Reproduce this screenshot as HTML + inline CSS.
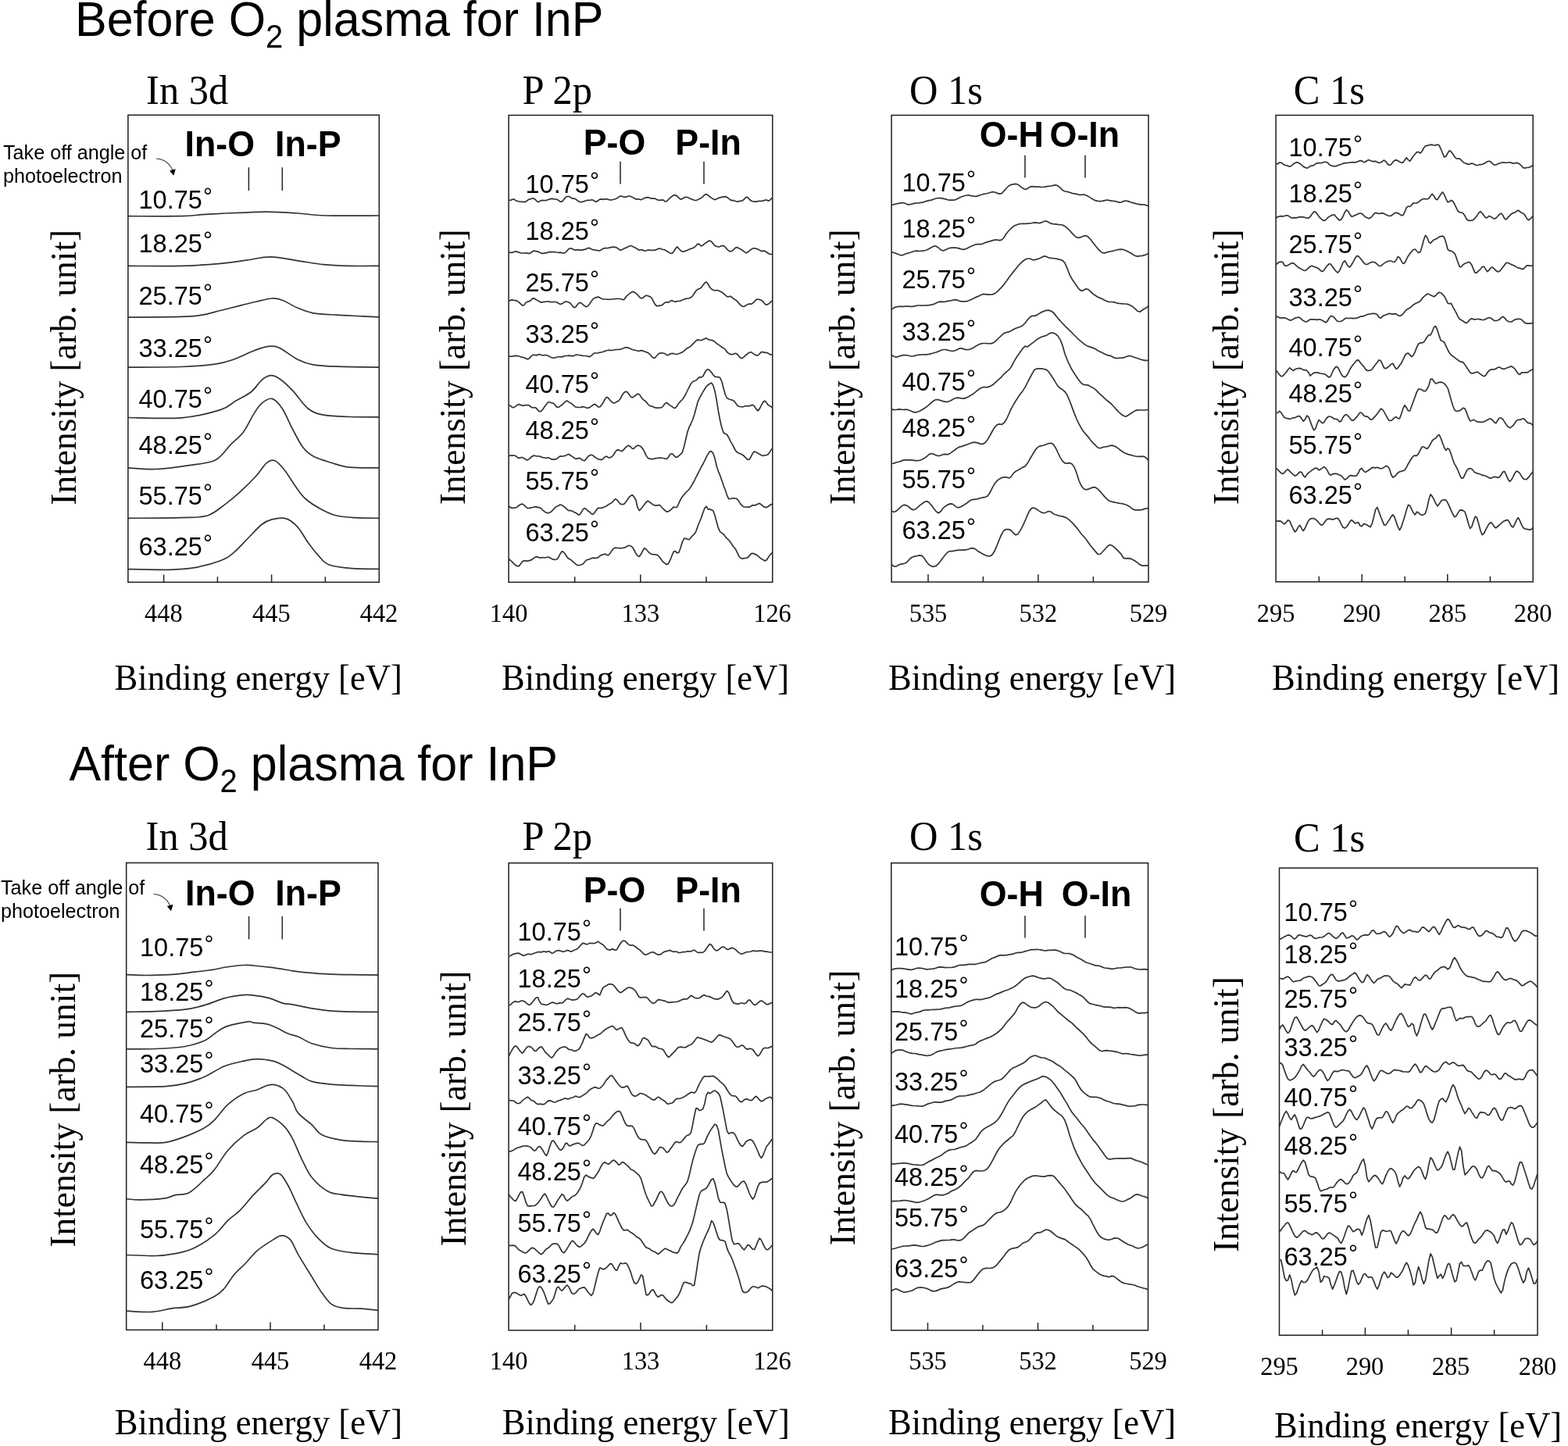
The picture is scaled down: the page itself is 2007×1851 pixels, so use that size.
<!DOCTYPE html>
<html><head><meta charset="utf-8"><title>XPS spectra before and after O2 plasma for InP</title>
<style>html,body{margin:0;padding:0;background:#fff;}svg{display:block;}.sans{font-family:"Liberation Sans", Arial, sans-serif;}.serif{font-family:"Liberation Serif", "Times New Roman", serif;}</style></head><body>
<svg width="2007" height="1851" viewBox="0 0 2007 1851">
<rect x="0" y="0" width="2007" height="1851" fill="#fff"/>
<text class="sans" transform="translate(96.0,46.3) scale(1,1.04)" x="0" y="0" font-size="61" fill="#000">Before O<tspan font-size="40" dy="13.8">2</tspan><tspan dy="-13.8"> plasma for InP</tspan></text>
<text class="sans" transform="translate(88.4,999.4) scale(1,1.04)" x="0" y="0" font-size="61" fill="#000">After O<tspan font-size="40" dy="13.8">2</tspan><tspan dy="-13.8"> plasma for InP</tspan></text>
<text class="serif" transform="translate(187.1,133.0) scale(1,1.050)" x="0" y="0" font-size="50.5" fill="#000">In 3d</text>
<text class="serif" transform="translate(668.6,133.0) scale(1,1.050)" x="0" y="0" font-size="50.5" fill="#000">P 2p</text>
<text class="serif" transform="translate(1164.0,133.0) scale(1,1.050)" x="0" y="0" font-size="50.5" fill="#000">O 1s</text>
<text class="serif" transform="translate(1655.8,133.0) scale(1,1.050)" x="0" y="0" font-size="50.5" fill="#000">C 1s</text>
<text class="serif" transform="translate(186.6,1088.4) scale(1,1.050)" x="0" y="0" font-size="50.5" fill="#000">In 3d</text>
<text class="serif" transform="translate(668.6,1088.4) scale(1,1.050)" x="0" y="0" font-size="50.5" fill="#000">P 2p</text>
<text class="serif" transform="translate(1164.0,1088.4) scale(1,1.050)" x="0" y="0" font-size="50.5" fill="#000">O 1s</text>
<text class="serif" transform="translate(1655.9,1089.6) scale(1,1.050)" x="0" y="0" font-size="50.5" fill="#000">C 1s</text>
<rect x="163.9" y="147.3" width="321.4" height="598.0" fill="none" stroke="#1e1e1e" stroke-width="1.5"/>
<line x1="209.6" y1="745.3" x2="209.6" y2="735.5" stroke="#222" stroke-width="1.5"/>
<line x1="278.4" y1="745.3" x2="278.4" y2="738.3" stroke="#222" stroke-width="1.5"/>
<line x1="347.6" y1="745.3" x2="347.6" y2="735.5" stroke="#222" stroke-width="1.5"/>
<line x1="416.4" y1="745.3" x2="416.4" y2="738.3" stroke="#222" stroke-width="1.5"/>
<path d="M163.9,276.7 C175.3,276.7 216.7,277.0 232.5,276.7 C248.4,276.3 249.6,275.3 258.9,274.7 C268.3,274.1 279.3,273.5 288.7,273.0 C298.0,272.6 306.3,272.4 315.1,272.1 C323.9,271.7 330.5,270.9 341.5,271.1 C352.5,271.2 368.4,272.2 381.1,273.0 C393.8,273.9 400.0,275.5 417.4,276.0 C434.8,276.5 474.0,276.0 485.3,276.0" fill="none" stroke="#333" stroke-width="1.7" stroke-linejoin="round"/>
<path d="M163.9,340.4 C175.3,340.4 212.8,340.9 232.5,340.4 C252.2,339.9 268.3,338.6 282.1,337.4 C295.8,336.2 304.3,334.6 315.1,333.1 C325.8,331.7 335.4,328.7 346.4,328.8 C357.4,329.0 369.8,332.1 381.1,333.8 C392.4,335.4 403.1,337.6 414.1,338.7 C425.1,339.8 435.3,340.1 447.1,340.4 C459.0,340.7 478.9,340.4 485.3,340.4" fill="none" stroke="#333" stroke-width="1.7" stroke-linejoin="round"/>
<path d="M163.9,406.1 C175.3,406.0 216.7,405.9 232.5,405.4 C248.4,404.9 250.7,404.4 258.9,403.1 C267.2,401.8 273.8,399.5 282.1,397.5 C290.3,395.5 300.8,392.8 308.5,390.9 C316.2,389.0 321.7,387.4 328.3,386.0 C334.9,384.5 342.6,382.3 348.1,382.0 C353.6,381.7 355.8,382.3 361.3,384.3 C366.8,386.3 374.5,391.5 381.1,394.2 C387.7,397.0 392.7,399.3 400.9,400.8 C409.2,402.3 420.2,402.5 430.6,403.1 C441.1,403.8 454.5,404.3 463.6,404.8 C472.7,405.2 481.7,405.6 485.3,405.8" fill="none" stroke="#333" stroke-width="1.7" stroke-linejoin="round"/>
<path d="M163.9,470.1 C175.3,470.0 213.9,470.1 232.5,469.5 C251.1,468.8 264.4,467.7 275.5,466.2 C286.5,464.6 290.9,462.9 298.6,460.2 C306.3,457.6 315.6,452.8 321.7,450.3 C327.7,447.9 330.8,446.6 334.9,445.4 C339.0,444.2 342.6,443.1 346.4,443.1 C350.3,443.1 352.2,442.5 358.0,445.4 C363.8,448.2 373.9,456.7 381.1,460.2 C388.3,463.8 392.7,465.4 400.9,466.8 C409.2,468.3 416.6,468.6 430.6,469.2 C444.7,469.7 476.2,470.0 485.3,470.1" fill="none" stroke="#333" stroke-width="1.7" stroke-linejoin="round"/>
<path d="M163.9,534.5 C175.3,534.6 212.8,536.5 232.5,534.8 C252.2,533.2 270.5,528.2 282.1,524.6 C293.6,521.0 295.3,516.9 301.9,513.1 C308.5,509.2 316.2,505.9 321.7,501.5 C327.2,497.1 330.8,490.1 334.9,486.6 C339.0,483.2 342.6,481.0 346.4,480.7 C350.3,480.4 353.3,481.8 358.0,485.0 C362.7,488.2 368.4,493.5 374.5,499.9 C380.5,506.2 387.7,517.7 394.3,523.0 C400.9,528.2 405.3,529.5 414.1,531.2 C422.9,533.0 435.3,533.1 447.1,533.5 C459.0,534.0 478.9,533.8 485.3,533.9" fill="none" stroke="#333" stroke-width="1.7" stroke-linejoin="round"/>
<path d="M163.9,598.9 C169.8,599.2 186.4,601.1 199.5,600.5 C212.6,600.0 229.8,597.5 242.4,595.6 C255.1,593.7 266.7,593.4 275.5,589.0 C284.3,584.6 289.2,575.2 295.3,569.2 C301.3,563.1 306.8,559.3 311.8,552.7 C316.7,546.1 321.1,535.6 325.0,529.6 C328.8,523.5 331.0,519.6 334.9,516.4 C338.7,513.2 343.7,509.3 348.1,510.4 C352.5,511.5 356.9,516.5 361.3,523.0 C365.7,529.5 370.1,541.1 374.5,549.4 C378.9,557.6 383.3,566.7 387.7,572.5 C392.1,578.3 394.9,580.7 400.9,584.0 C407.0,587.3 416.3,589.9 424.0,592.3 C431.7,594.7 436.9,597.1 447.1,598.2 C457.3,599.3 478.9,598.8 485.3,598.9" fill="none" stroke="#333" stroke-width="1.7" stroke-linejoin="round"/>
<path d="M163.9,663.3 C175.3,663.2 215.6,663.2 232.5,662.6 C249.5,662.1 256.2,662.9 265.5,660.0 C274.9,657.1 281.5,650.3 288.7,645.1 C295.8,639.9 301.9,634.7 308.5,628.6 C315.1,622.6 322.8,614.9 328.3,608.8 C333.8,602.7 337.5,595.5 341.5,592.3 C345.4,589.1 348.2,588.0 352.0,589.7 C355.9,591.3 360.3,596.8 364.6,602.2 C368.9,607.6 373.4,616.0 377.8,622.0 C382.2,628.1 385.5,633.6 391.0,638.5 C396.5,643.5 404.2,648.1 410.8,651.7 C417.4,655.3 423.5,658.2 430.6,660.0 C437.8,661.8 444.6,662.1 453.7,662.6 C462.8,663.2 480.0,663.2 485.3,663.3" fill="none" stroke="#333" stroke-width="1.7" stroke-linejoin="round"/>
<path d="M163.9,728.6 C172.6,728.8 201.8,729.6 216.0,729.3 C230.2,729.0 238.0,728.6 249.0,726.7 C260.0,724.7 273.8,720.9 282.1,717.7 C290.3,714.6 292.5,712.8 298.6,707.8 C304.6,702.9 312.3,694.1 318.4,688.0 C324.4,682.0 329.9,675.4 334.9,671.5 C339.8,667.7 342.9,666.2 348.1,664.9 C353.3,663.7 360.7,662.3 366.2,663.9 C371.7,665.6 376.4,669.7 381.1,674.8 C385.8,679.9 389.9,688.6 394.3,694.6 C398.7,700.7 403.1,706.5 407.5,711.1 C411.9,715.8 413.6,719.9 420.7,722.7 C427.9,725.5 439.7,726.7 450.4,727.7 C461.2,728.6 479.5,728.2 485.3,728.3" fill="none" stroke="#333" stroke-width="1.7" stroke-linejoin="round"/>
<text class="serif" transform="translate(209.3,795.8) scale(1,1.020)" x="0" y="0" font-size="32.5" fill="#000" text-anchor="middle">448</text>
<text class="serif" transform="translate(347.3,795.8) scale(1,1.020)" x="0" y="0" font-size="32.5" fill="#000" text-anchor="middle">445</text>
<text class="serif" transform="translate(485.0,795.8) scale(1,1.020)" x="0" y="0" font-size="32.5" fill="#000" text-anchor="middle">442</text>
<text class="sans" transform="translate(177.5,266.8) scale(1,1.04)" x="0" y="0" font-size="32.5" fill="#000">10.75<tspan font-size="30" dx="1.2" dy="-4.8">°</tspan></text>
<text class="sans" transform="translate(177.5,323.2) scale(1,1.04)" x="0" y="0" font-size="32.5" fill="#000">18.25<tspan font-size="30" dx="1.2" dy="-4.8">°</tspan></text>
<text class="sans" transform="translate(177.5,390.2) scale(1,1.04)" x="0" y="0" font-size="32.5" fill="#000">25.75<tspan font-size="30" dx="1.2" dy="-4.8">°</tspan></text>
<text class="sans" transform="translate(177.5,456.9) scale(1,1.04)" x="0" y="0" font-size="32.5" fill="#000">33.25<tspan font-size="30" dx="1.2" dy="-4.8">°</tspan></text>
<text class="sans" transform="translate(177.5,522.3) scale(1,1.04)" x="0" y="0" font-size="32.5" fill="#000">40.75<tspan font-size="30" dx="1.2" dy="-4.8">°</tspan></text>
<text class="sans" transform="translate(177.5,580.7) scale(1,1.04)" x="0" y="0" font-size="32.5" fill="#000">48.25<tspan font-size="30" dx="1.2" dy="-4.8">°</tspan></text>
<text class="sans" transform="translate(177.5,645.8) scale(1,1.04)" x="0" y="0" font-size="32.5" fill="#000">55.75<tspan font-size="30" dx="1.2" dy="-4.8">°</tspan></text>
<text class="sans" transform="translate(177.5,711.1) scale(1,1.04)" x="0" y="0" font-size="32.5" fill="#000">63.25<tspan font-size="30" dx="1.2" dy="-4.8">°</tspan></text>
<rect x="651.1" y="147.5" width="337.7" height="597.8" fill="none" stroke="#1e1e1e" stroke-width="1.5"/>
<line x1="735.7" y1="745.3" x2="735.7" y2="738.3" stroke="#222" stroke-width="1.5"/>
<line x1="819.8" y1="745.3" x2="819.8" y2="735.5" stroke="#222" stroke-width="1.5"/>
<line x1="904.0" y1="745.3" x2="904.0" y2="738.3" stroke="#222" stroke-width="1.5"/>
<path d="M651.1,256.2 L653.3,256.4 L655.5,255.4 L657.7,255.0 L659.9,256.4 L662.1,257.4 L664.3,258.0 L666.5,258.2 L668.7,258.3 L670.9,258.6 L673.1,258.2 L675.3,256.3 L677.5,255.1 L679.7,254.5 L681.9,253.8 L684.1,254.6 L686.3,256.7 L688.5,258.6 L690.7,257.7 L692.9,256.4 L695.1,256.6 L697.3,256.6 L699.5,256.3 L701.7,255.6 L703.9,254.7 L706.1,254.3 L708.3,254.7 L710.5,255.0 L712.7,255.1 L714.9,256.5 L717.1,258.1 L719.3,258.1 L721.5,255.7 L723.7,252.9 L725.9,251.5 L728.1,251.4 L730.3,252.8 L732.5,254.1 L734.7,254.2 L736.9,254.9 L739.1,256.7 L741.3,258.1 L743.5,258.6 L745.7,258.3 L747.9,257.6 L750.1,256.7 L752.3,256.3 L754.5,256.5 L756.7,255.9 L758.9,256.0 L761.1,257.6 L763.3,258.3 L765.5,256.8 L767.7,255.1 L769.9,254.9 L772.1,255.3 L774.3,254.9 L776.5,254.7 L778.7,255.4 L780.9,255.9 L783.1,256.0 L785.3,255.3 L787.5,254.7 L789.7,253.8 L791.9,252.1 L794.1,251.1 L796.3,251.3 L798.5,252.2 L800.7,252.4 L802.9,251.5 L805.1,251.0 L807.3,251.4 L809.5,252.4 L811.7,253.8 L813.9,254.9 L816.1,254.9 L818.3,255.1 L820.5,255.7 L822.7,254.8 L824.9,253.5 L827.1,252.9 L829.3,252.6 L831.5,253.2 L833.7,254.2 L835.9,254.1 L838.1,254.0 L840.3,255.3 L842.5,256.2 L844.7,256.4 L846.9,255.9 L849.1,256.1 L851.3,257.8 L853.5,257.6 L855.7,255.2 L857.9,253.2 L860.1,251.4 L862.3,249.8 L864.5,249.6 L866.7,251.2 L868.9,253.3 L871.1,255.1 L873.3,254.5 L875.5,253.0 L877.7,252.4 L879.9,252.5 L882.1,253.5 L884.3,254.7 L886.5,255.4 L888.7,256.3 L890.9,256.5 L893.1,255.7 L895.3,254.6 L897.5,253.6 L899.7,251.6 L901.9,249.4 L904.1,248.6 L906.3,249.9 L908.5,251.8 L910.7,253.4 L912.9,254.8 L915.1,255.6 L917.3,254.8 L919.5,253.6 L921.7,252.8 L923.9,252.3 L926.1,251.8 L928.3,251.6 L930.5,252.5 L932.7,254.2 L934.9,255.9 L937.1,256.6 L939.3,256.7 L941.5,257.5 L943.7,258.2 L945.9,257.7 L948.1,257.3 L950.3,256.9 L952.5,255.0 L954.7,252.7 L956.9,252.4 L959.1,255.0 L961.3,257.0 L963.5,257.8 L965.7,258.2 L967.9,258.1 L970.1,257.6 L972.3,257.4 L974.5,257.3 L976.7,257.1 L978.9,256.2 L981.1,256.1 L983.3,257.1 L985.5,256.3 L987.7,253.7 L988.8,254.4" fill="none" stroke="#333" stroke-width="1.7" stroke-linejoin="round"/>
<path d="M651.1,322.6 L653.3,323.4 L655.5,323.4 L657.7,322.5 L659.9,321.8 L662.1,322.3 L664.3,323.1 L666.5,323.8 L668.7,324.0 L670.9,324.0 L673.1,323.8 L675.3,324.1 L677.5,324.6 L679.7,323.5 L681.9,321.6 L684.1,321.1 L686.3,321.6 L688.5,322.1 L690.7,323.1 L692.9,324.3 L695.1,324.4 L697.3,323.9 L699.5,323.8 L701.7,322.9 L703.9,322.4 L706.1,322.7 L708.3,322.7 L710.5,322.5 L712.7,323.0 L714.9,323.4 L717.1,323.2 L719.3,323.6 L721.5,324.2 L723.7,323.3 L725.9,320.9 L728.1,318.5 L730.3,317.8 L732.5,318.6 L734.7,319.7 L736.9,320.2 L739.1,319.7 L741.3,319.9 L743.5,320.3 L745.7,319.8 L747.9,319.3 L750.1,318.8 L752.3,317.7 L754.5,317.4 L756.7,318.7 L758.9,319.7 L761.1,320.0 L763.3,320.3 L765.5,320.6 L767.7,320.8 L769.9,319.7 L772.1,318.1 L774.3,317.7 L776.5,317.7 L778.7,317.4 L780.9,316.9 L783.1,316.4 L785.3,316.1 L787.5,316.4 L789.7,317.2 L791.9,319.0 L794.1,320.3 L796.3,319.6 L798.5,318.2 L800.7,317.4 L802.9,316.5 L805.1,315.3 L807.3,314.5 L809.5,315.2 L811.7,316.5 L813.9,317.6 L816.1,318.9 L818.3,320.2 L820.5,319.6 L822.7,319.9 L824.9,321.2 L827.1,320.8 L829.3,320.1 L831.5,320.0 L833.7,320.3 L835.9,320.3 L838.1,320.1 L840.3,319.6 L842.5,318.4 L844.7,318.1 L846.9,319.1 L849.1,319.5 L851.3,319.9 L853.5,321.5 L855.7,322.7 L857.9,324.1 L860.1,324.3 L862.3,322.1 L864.5,318.5 L866.7,315.9 L868.9,318.3 L871.1,320.7 L873.3,321.9 L875.5,322.1 L877.7,321.1 L879.9,320.2 L882.1,319.2 L884.3,318.4 L886.5,317.8 L888.7,316.6 L890.9,314.5 L893.1,312.1 L895.3,312.9 L897.5,315.0 L899.7,313.9 L901.9,311.9 L904.1,310.5 L906.3,308.9 L908.5,308.0 L910.7,309.4 L912.9,312.1 L915.1,314.5 L917.3,315.4 L919.5,316.0 L921.7,315.6 L923.9,314.6 L926.1,314.5 L928.3,316.3 L930.5,318.9 L932.7,321.0 L934.9,321.9 L937.1,321.2 L939.3,319.3 L941.5,317.0 L943.7,316.7 L945.9,317.9 L948.1,319.0 L950.3,320.5 L952.5,322.2 L954.7,323.6 L956.9,323.0 L959.1,321.2 L961.3,319.4 L963.5,318.0 L965.7,317.8 L967.9,318.4 L970.1,318.9 L972.3,320.3 L974.5,321.5 L976.7,321.2 L978.9,321.3 L981.1,322.7 L983.3,324.2 L985.5,325.4 L987.7,325.5 L988.8,324.4" fill="none" stroke="#333" stroke-width="1.7" stroke-linejoin="round"/>
<path d="M651.1,385.5 L653.3,384.4 L655.5,383.9 L657.7,384.3 L659.9,384.6 L662.1,385.4 L664.3,386.9 L666.5,389.2 L668.7,391.2 L670.9,390.2 L673.1,387.5 L675.3,386.1 L677.5,385.7 L679.7,384.2 L681.9,381.9 L684.1,382.2 L686.3,383.8 L688.5,384.8 L690.7,386.3 L692.9,387.1 L695.1,386.6 L697.3,386.3 L699.5,386.0 L701.7,385.9 L703.9,386.4 L706.1,386.6 L708.3,386.5 L710.5,386.5 L712.7,386.9 L714.9,388.2 L717.1,389.4 L719.3,388.9 L721.5,387.3 L723.7,386.2 L725.9,386.2 L728.1,387.0 L730.3,388.5 L732.5,391.2 L734.7,393.7 L736.9,392.9 L739.1,390.0 L741.3,387.5 L743.5,387.6 L745.7,389.3 L747.9,391.3 L750.1,392.7 L752.3,392.0 L754.5,389.3 L756.7,385.9 L758.9,382.9 L761.1,381.5 L763.3,380.6 L765.5,380.1 L767.7,380.9 L769.9,382.2 L772.1,382.9 L774.3,383.0 L776.5,383.2 L778.7,383.3 L780.9,383.2 L783.1,383.0 L785.3,382.8 L787.5,382.5 L789.7,382.4 L791.9,382.5 L794.1,382.5 L796.3,383.5 L798.5,383.7 L800.7,380.9 L802.9,378.0 L805.1,376.6 L807.3,374.7 L809.5,373.3 L811.7,374.1 L813.9,375.3 L816.1,377.3 L818.3,380.1 L820.5,381.9 L822.7,381.4 L824.9,379.5 L827.1,378.1 L829.3,378.8 L831.5,379.6 L833.7,380.8 L835.9,384.9 L838.1,389.1 L840.3,391.6 L842.5,391.7 L844.7,391.2 L846.9,390.9 L849.1,389.3 L851.3,387.0 L853.5,386.9 L855.7,387.1 L857.9,385.5 L860.1,384.5 L862.3,385.8 L864.5,386.4 L866.7,385.6 L868.9,385.4 L871.1,385.1 L873.3,384.0 L875.5,383.2 L877.7,382.4 L879.9,382.0 L882.1,381.8 L884.3,380.8 L886.5,378.8 L888.7,375.5 L890.9,372.2 L893.1,370.4 L895.3,369.5 L897.5,368.1 L899.7,365.3 L901.9,362.3 L904.1,361.0 L906.3,363.5 L908.5,367.7 L910.7,370.0 L912.9,371.2 L915.1,371.9 L917.3,371.5 L919.5,371.8 L921.7,372.9 L923.9,374.1 L926.1,375.7 L928.3,377.7 L930.5,379.6 L932.7,379.8 L934.9,379.2 L937.1,380.8 L939.3,382.7 L941.5,383.8 L943.7,385.8 L945.9,388.4 L948.1,390.7 L950.3,392.2 L952.5,392.3 L954.7,391.1 L956.9,389.6 L959.1,389.0 L961.3,389.2 L963.5,388.2 L965.7,385.7 L967.9,383.6 L970.1,383.0 L972.3,383.6 L974.5,384.3 L976.7,386.0 L978.9,389.1 L981.1,390.3 L983.3,389.3 L985.5,387.6 L987.7,385.4 L988.8,384.6" fill="none" stroke="#333" stroke-width="1.7" stroke-linejoin="round"/>
<path d="M651.1,455.6 L653.3,456.2 L655.5,456.3 L657.7,455.6 L659.9,455.4 L662.1,455.7 L664.3,456.0 L666.5,456.8 L668.7,457.3 L670.9,457.7 L673.1,458.9 L675.3,459.8 L677.5,458.9 L679.7,456.1 L681.9,454.3 L684.1,454.3 L686.3,454.9 L688.5,454.1 L690.7,453.5 L692.9,454.5 L695.1,454.8 L697.3,454.5 L699.5,454.7 L701.7,455.5 L703.9,456.8 L706.1,457.8 L708.3,458.2 L710.5,458.0 L712.7,457.2 L714.9,456.5 L717.1,456.8 L719.3,456.9 L721.5,456.1 L723.7,455.5 L725.9,455.4 L728.1,455.2 L730.3,455.3 L732.5,455.8 L734.7,455.3 L736.9,454.3 L739.1,454.0 L741.3,454.5 L743.5,454.9 L745.7,455.3 L747.9,455.5 L750.1,455.5 L752.3,456.2 L754.5,456.7 L756.7,455.5 L758.9,453.4 L761.1,451.9 L763.3,452.0 L765.5,451.9 L767.7,451.2 L769.9,451.0 L772.1,450.3 L774.3,449.4 L776.5,448.8 L778.7,448.2 L780.9,448.3 L783.1,448.5 L785.3,448.0 L787.5,447.7 L789.7,447.5 L791.9,447.3 L794.1,447.1 L796.3,446.5 L798.5,445.5 L800.7,444.7 L802.9,444.8 L805.1,445.6 L807.3,446.6 L809.5,447.5 L811.7,448.1 L813.9,448.5 L816.1,449.2 L818.3,449.3 L820.5,448.6 L822.7,448.9 L824.9,449.9 L827.1,450.7 L829.3,451.4 L831.5,453.4 L833.7,455.8 L835.9,457.9 L838.1,458.3 L840.3,455.8 L842.5,453.3 L844.7,452.1 L846.9,451.9 L849.1,452.0 L851.3,452.7 L853.5,454.6 L855.7,454.3 L857.9,453.0 L860.1,452.4 L862.3,452.7 L864.5,453.3 L866.7,453.5 L868.9,452.7 L871.1,451.7 L873.3,450.9 L875.5,449.4 L877.7,447.2 L879.9,445.5 L882.1,444.6 L884.3,442.9 L886.5,440.6 L888.7,438.4 L890.9,436.2 L893.1,434.8 L895.3,435.3 L897.5,435.6 L899.7,434.8 L901.9,433.5 L904.1,432.9 L906.3,434.2 L908.5,435.1 L910.7,435.4 L912.9,436.1 L915.1,437.6 L917.3,439.7 L919.5,441.1 L921.7,442.6 L923.9,444.5 L926.1,445.6 L928.3,447.4 L930.5,450.5 L932.7,452.4 L934.9,453.4 L937.1,453.8 L939.3,453.0 L941.5,452.3 L943.7,453.4 L945.9,456.2 L948.1,458.3 L950.3,458.3 L952.5,456.6 L954.7,454.5 L956.9,452.8 L959.1,451.3 L961.3,450.7 L963.5,452.1 L965.7,453.8 L967.9,454.8 L970.1,454.8 L972.3,452.9 L974.5,450.6 L976.7,450.6 L978.9,451.4 L981.1,451.4 L983.3,452.2 L985.5,453.6 L987.7,454.1 L988.8,454.7" fill="none" stroke="#333" stroke-width="1.7" stroke-linejoin="round"/>
<path d="M651.1,518.4 L653.3,519.4 L655.5,521.4 L657.7,521.6 L659.9,520.1 L662.1,518.4 L664.3,517.4 L666.5,518.4 L668.7,519.3 L670.9,518.8 L673.1,518.7 L675.3,518.7 L677.5,519.0 L679.7,521.0 L681.9,522.0 L684.1,521.5 L686.3,522.4 L688.5,525.1 L690.7,527.0 L692.9,526.3 L695.1,523.4 L697.3,520.3 L699.5,517.2 L701.7,514.8 L703.9,515.0 L706.1,515.8 L708.3,516.2 L710.5,518.4 L712.7,521.1 L714.9,521.4 L717.1,519.7 L719.3,518.2 L721.5,516.3 L723.7,514.1 L725.9,513.0 L728.1,514.6 L730.3,516.1 L732.5,517.3 L734.7,519.4 L736.9,521.1 L739.1,521.3 L741.3,521.5 L743.5,521.3 L745.7,520.6 L747.9,521.0 L750.1,521.8 L752.3,522.3 L754.5,521.6 L756.7,520.2 L758.9,518.5 L761.1,517.3 L763.3,518.7 L765.5,521.0 L767.7,520.9 L769.9,518.6 L772.1,515.2 L774.3,511.0 L776.5,508.3 L778.7,509.6 L780.9,512.3 L783.1,514.6 L785.3,516.0 L787.5,515.5 L789.7,514.1 L791.9,513.0 L794.1,510.3 L796.3,505.9 L798.5,502.8 L800.7,501.3 L802.9,501.9 L805.1,504.7 L807.3,507.8 L809.5,508.9 L811.7,507.5 L813.9,505.8 L816.1,504.2 L818.3,504.8 L820.5,507.9 L822.7,511.1 L824.9,512.7 L827.1,514.4 L829.3,517.3 L831.5,519.5 L833.7,519.9 L835.9,520.7 L838.1,521.6 L840.3,522.1 L842.5,522.1 L844.7,522.0 L846.9,521.7 L849.1,519.3 L851.3,516.4 L853.5,515.3 L855.7,517.3 L857.9,519.2 L860.1,520.3 L862.3,522.1 L864.5,522.3 L866.7,519.4 L868.9,516.0 L871.1,513.7 L873.3,511.5 L875.5,508.6 L877.7,504.5 L879.9,500.0 L882.1,495.6 L884.3,491.3 L886.5,488.8 L888.7,487.8 L890.9,487.0 L893.1,484.6 L895.3,482.6 L897.5,483.1 L899.7,481.7 L901.9,477.5 L904.1,473.7 L906.3,472.8 L908.5,474.3 L910.7,476.8 L912.9,479.9 L915.1,482.1 L917.3,482.7 L919.5,482.6 L921.7,483.6 L923.9,488.5 L926.1,497.0 L928.3,504.9 L930.5,509.5 L932.7,510.8 L934.9,511.5 L937.1,512.1 L939.3,513.1 L941.5,515.8 L943.7,519.1 L945.9,520.3 L948.1,520.5 L950.3,521.0 L952.5,520.3 L954.7,519.5 L956.9,519.8 L959.1,519.7 L961.3,518.9 L963.5,518.4 L965.7,520.2 L967.9,523.6 L970.1,525.9 L972.3,523.1 L974.5,518.8 L976.7,514.8 L978.9,513.2 L981.1,515.5 L983.3,518.4 L985.5,519.8 L987.7,521.0 L988.8,522.9" fill="none" stroke="#333" stroke-width="1.7" stroke-linejoin="round"/>
<path d="M651.1,583.9 L653.3,583.0 L655.5,583.2 L657.7,583.0 L659.9,583.5 L662.1,585.4 L664.3,586.4 L666.5,585.7 L668.7,585.5 L670.9,586.7 L673.1,588.3 L675.3,588.8 L677.5,587.4 L679.7,585.3 L681.9,583.7 L684.1,583.2 L686.3,583.8 L688.5,584.0 L690.7,584.1 L692.9,585.2 L695.1,585.7 L697.3,586.0 L699.5,586.4 L701.7,585.8 L703.9,586.8 L706.1,588.1 L708.3,588.1 L710.5,588.1 L712.7,587.3 L714.9,585.3 L717.1,583.9 L719.3,584.3 L721.5,583.7 L723.7,583.3 L725.9,582.3 L728.1,581.3 L730.3,583.0 L732.5,584.4 L734.7,586.0 L736.9,587.4 L739.1,586.9 L741.3,586.4 L743.5,587.3 L745.7,589.0 L747.9,589.8 L750.1,587.8 L752.3,584.7 L754.5,583.0 L756.7,582.2 L758.9,583.0 L761.1,584.8 L763.3,586.4 L765.5,587.6 L767.7,588.2 L769.9,588.6 L772.1,587.3 L774.3,584.8 L776.5,584.1 L778.7,585.7 L780.9,585.8 L783.1,584.7 L785.3,582.2 L787.5,578.5 L789.7,576.2 L791.9,575.9 L794.1,577.0 L796.3,577.6 L798.5,575.4 L800.7,572.9 L802.9,570.9 L805.1,570.4 L807.3,572.2 L809.5,574.5 L811.7,573.9 L813.9,571.5 L816.1,570.1 L818.3,570.5 L820.5,571.9 L822.7,574.4 L824.9,578.3 L827.1,583.1 L829.3,586.4 L831.5,587.2 L833.7,587.7 L835.9,587.7 L838.1,586.9 L840.3,586.7 L842.5,586.1 L844.7,586.1 L846.9,586.4 L849.1,586.5 L851.3,587.1 L853.5,587.5 L855.7,585.0 L857.9,581.3 L860.1,580.7 L862.3,582.7 L864.5,584.9 L866.7,585.4 L868.9,583.4 L871.1,581.6 L873.3,579.0 L875.5,572.0 L877.7,562.5 L879.9,553.3 L882.1,546.9 L884.3,542.5 L886.5,537.5 L888.7,531.0 L890.9,522.8 L893.1,514.7 L895.3,509.6 L897.5,505.8 L899.7,501.6 L901.9,498.2 L904.1,494.8 L906.3,492.7 L908.5,491.3 L910.7,490.1 L912.9,493.4 L915.1,501.1 L917.3,512.7 L919.5,526.5 L921.7,538.0 L923.9,547.5 L926.1,553.7 L928.3,555.3 L930.5,556.3 L932.7,560.0 L934.9,564.6 L937.1,568.4 L939.3,572.5 L941.5,576.8 L943.7,579.1 L945.9,580.3 L948.1,581.0 L950.3,582.2 L952.5,583.8 L954.7,586.1 L956.9,588.3 L959.1,588.2 L961.3,584.7 L963.5,580.1 L965.7,577.9 L967.9,578.9 L970.1,580.3 L972.3,581.4 L974.5,582.8 L976.7,583.5 L978.9,582.8 L981.1,582.5 L983.3,581.6 L985.5,578.4 L987.7,574.9 L988.8,575.0" fill="none" stroke="#333" stroke-width="1.7" stroke-linejoin="round"/>
<path d="M651.1,647.7 L653.3,649.6 L655.5,650.4 L657.7,650.2 L659.9,650.0 L662.1,648.9 L664.3,647.0 L666.5,645.6 L668.7,645.2 L670.9,646.6 L673.1,648.9 L675.3,650.6 L677.5,650.4 L679.7,649.9 L681.9,649.5 L684.1,648.9 L686.3,648.8 L688.5,649.3 L690.7,649.8 L692.9,651.0 L695.1,653.3 L697.3,655.2 L699.5,656.3 L701.7,656.6 L703.9,656.1 L706.1,654.5 L708.3,652.2 L710.5,649.6 L712.7,648.2 L714.9,647.2 L717.1,646.0 L719.3,646.7 L721.5,648.3 L723.7,649.9 L725.9,652.2 L728.1,653.6 L730.3,653.5 L732.5,654.1 L734.7,655.5 L736.9,656.4 L739.1,658.0 L741.3,659.3 L743.5,656.8 L745.7,652.7 L747.9,650.6 L750.1,651.5 L752.3,653.8 L754.5,655.2 L756.7,657.5 L758.9,658.5 L761.1,656.3 L763.3,652.7 L765.5,650.4 L767.7,650.3 L769.9,650.4 L772.1,649.4 L774.3,648.7 L776.5,647.6 L778.7,645.8 L780.9,644.7 L783.1,643.5 L785.3,641.1 L787.5,638.7 L789.7,639.8 L791.9,642.8 L794.1,645.2 L796.3,645.6 L798.5,645.3 L800.7,643.1 L802.9,639.7 L805.1,636.8 L807.3,634.6 L809.5,633.6 L811.7,636.2 L813.9,640.0 L816.1,649.7 L818.3,653.7 L820.5,651.2 L822.7,648.5 L824.9,645.8 L827.1,642.7 L829.3,641.2 L831.5,642.6 L833.7,644.5 L835.9,645.9 L838.1,647.1 L840.3,647.1 L842.5,646.6 L844.7,646.7 L846.9,649.3 L849.1,651.7 L851.3,653.5 L853.5,655.2 L855.7,654.6 L857.9,653.3 L860.1,651.0 L862.3,649.0 L864.5,649.7 L866.7,649.0 L868.9,644.2 L871.1,639.3 L873.3,635.9 L875.5,633.3 L877.7,630.7 L879.9,628.5 L882.1,626.4 L884.3,623.0 L886.5,619.3 L888.7,615.5 L890.9,610.9 L893.1,606.7 L895.3,602.3 L897.5,597.9 L899.7,594.2 L901.9,589.8 L904.1,585.1 L906.3,581.2 L908.5,578.0 L910.7,577.7 L912.9,580.6 L915.1,587.3 L917.3,596.8 L919.5,603.6 L921.7,608.7 L923.9,615.0 L926.1,621.5 L928.3,627.2 L930.5,633.8 L932.7,638.7 L934.9,638.5 L937.1,637.8 L939.3,637.8 L941.5,638.0 L943.7,638.9 L945.9,642.0 L948.1,645.4 L950.3,647.7 L952.5,649.0 L954.7,649.0 L956.9,649.2 L959.1,649.2 L961.3,647.7 L963.5,646.6 L965.7,646.8 L967.9,646.4 L970.1,645.0 L972.3,644.4 L974.5,646.0 L976.7,647.9 L978.9,649.2 L981.1,649.6 L983.3,648.3 L985.5,646.7 L987.7,645.3 L988.8,645.9" fill="none" stroke="#333" stroke-width="1.7" stroke-linejoin="round"/>
<path d="M651.1,715.1 L653.3,717.3 L655.5,719.1 L657.7,721.6 L659.9,723.5 L662.1,724.7 L664.3,724.7 L666.5,721.7 L668.7,718.7 L670.9,717.7 L673.1,718.1 L675.3,718.2 L677.5,717.7 L679.7,716.9 L681.9,715.6 L684.1,713.7 L686.3,712.7 L688.5,713.1 L690.7,714.1 L692.9,713.8 L695.1,713.5 L697.3,714.0 L699.5,713.5 L701.7,713.0 L703.9,714.0 L706.1,715.3 L708.3,716.2 L710.5,716.5 L712.7,716.0 L714.9,713.2 L717.1,708.9 L719.3,705.8 L721.5,706.8 L723.7,709.5 L725.9,713.2 L728.1,715.3 L730.3,716.3 L732.5,718.2 L734.7,720.2 L736.9,722.2 L739.1,723.6 L741.3,723.4 L743.5,723.0 L745.7,722.3 L747.9,720.0 L750.1,717.2 L752.3,716.3 L754.5,716.0 L756.7,714.7 L758.9,714.1 L761.1,714.3 L763.3,714.3 L765.5,713.6 L767.7,711.8 L769.9,710.6 L772.1,709.7 L774.3,709.1 L776.5,710.3 L778.7,710.7 L780.9,708.3 L783.1,704.9 L785.3,702.2 L787.5,701.2 L789.7,701.4 L791.9,701.5 L794.1,701.8 L796.3,701.5 L798.5,701.2 L800.7,700.6 L802.9,699.0 L805.1,698.3 L807.3,699.0 L809.5,700.4 L811.7,704.2 L813.9,708.6 L816.1,711.5 L818.3,712.5 L820.5,709.3 L822.7,704.8 L824.9,701.6 L827.1,703.3 L829.3,705.8 L831.5,707.9 L833.7,709.4 L835.9,709.7 L838.1,709.8 L840.3,710.0 L842.5,711.2 L844.7,713.8 L846.9,717.0 L849.1,719.6 L851.3,721.2 L853.5,722.7 L855.7,721.2 L857.9,716.7 L860.1,711.0 L862.3,706.1 L864.5,705.6 L866.7,707.9 L868.9,707.3 L871.1,701.3 L873.3,694.0 L875.5,689.3 L877.7,689.2 L879.9,690.3 L882.1,690.7 L884.3,688.3 L886.5,685.6 L888.7,683.8 L890.9,680.1 L893.1,673.7 L895.3,668.3 L897.5,663.2 L899.7,656.5 L901.9,650.6 L904.1,648.2 L906.3,651.8 L908.5,651.9 L910.7,652.6 L912.9,654.0 L915.1,660.3 L917.3,668.3 L919.5,676.2 L921.7,680.7 L923.9,682.4 L926.1,683.8 L928.3,686.7 L930.5,689.4 L932.7,691.2 L934.9,693.9 L937.1,697.5 L939.3,700.5 L941.5,702.9 L943.7,707.3 L945.9,712.1 L948.1,714.5 L950.3,715.1 L952.5,714.6 L954.7,714.3 L956.9,713.9 L959.1,711.6 L961.3,708.9 L963.5,708.2 L965.7,709.1 L967.9,710.0 L970.1,711.5 L972.3,713.6 L974.5,715.2 L976.7,716.6 L978.9,717.9 L981.1,717.0 L983.3,713.7 L985.5,710.4 L987.7,708.4 L988.8,707.0" fill="none" stroke="#333" stroke-width="1.7" stroke-linejoin="round"/>
<text class="serif" transform="translate(651.1,795.8) scale(1,1.020)" x="0" y="0" font-size="32.5" fill="#000" text-anchor="middle">140</text>
<text class="serif" transform="translate(819.8,795.8) scale(1,1.020)" x="0" y="0" font-size="32.5" fill="#000" text-anchor="middle">133</text>
<text class="serif" transform="translate(988.5,795.8) scale(1,1.020)" x="0" y="0" font-size="32.5" fill="#000" text-anchor="middle">126</text>
<text class="sans" transform="translate(672.5,247.2) scale(1,1.04)" x="0" y="0" font-size="32.5" fill="#000">10.75<tspan font-size="30" dx="1.2" dy="-4.8">°</tspan></text>
<text class="sans" transform="translate(672.5,306.5) scale(1,1.04)" x="0" y="0" font-size="32.5" fill="#000">18.25<tspan font-size="30" dx="1.2" dy="-4.8">°</tspan></text>
<text class="sans" transform="translate(672.5,372.6) scale(1,1.04)" x="0" y="0" font-size="32.5" fill="#000">25.75<tspan font-size="30" dx="1.2" dy="-4.8">°</tspan></text>
<text class="sans" transform="translate(672.5,439.0) scale(1,1.04)" x="0" y="0" font-size="32.5" fill="#000">33.25<tspan font-size="30" dx="1.2" dy="-4.8">°</tspan></text>
<text class="sans" transform="translate(672.5,503.1) scale(1,1.04)" x="0" y="0" font-size="32.5" fill="#000">40.75<tspan font-size="30" dx="1.2" dy="-4.8">°</tspan></text>
<text class="sans" transform="translate(672.5,561.5) scale(1,1.04)" x="0" y="0" font-size="32.5" fill="#000">48.25<tspan font-size="30" dx="1.2" dy="-4.8">°</tspan></text>
<text class="sans" transform="translate(672.5,627.4) scale(1,1.04)" x="0" y="0" font-size="32.5" fill="#000">55.75<tspan font-size="30" dx="1.2" dy="-4.8">°</tspan></text>
<text class="sans" transform="translate(672.5,692.6) scale(1,1.04)" x="0" y="0" font-size="32.5" fill="#000">63.25<tspan font-size="30" dx="1.2" dy="-4.8">°</tspan></text>
<rect x="1141.1" y="147.5" width="328.9" height="597.5" fill="none" stroke="#1e1e1e" stroke-width="1.5"/>
<line x1="1188.0" y1="745.0" x2="1188.0" y2="735.2" stroke="#222" stroke-width="1.5"/>
<line x1="1258.4" y1="745.0" x2="1258.4" y2="738.0" stroke="#222" stroke-width="1.5"/>
<line x1="1328.9" y1="745.0" x2="1328.9" y2="735.2" stroke="#222" stroke-width="1.5"/>
<line x1="1399.4" y1="745.0" x2="1399.4" y2="738.0" stroke="#222" stroke-width="1.5"/>
<path d="M1141.1,262.8 L1144.1,261.7 L1147.1,261.0 L1150.1,260.4 L1153.1,259.9 L1156.1,259.5 L1159.1,260.5 L1162.1,261.9 L1165.1,261.7 L1168.1,260.8 L1171.1,260.2 L1174.1,260.0 L1177.1,259.6 L1180.1,259.2 L1183.1,258.4 L1186.1,257.3 L1189.1,256.7 L1192.1,256.1 L1195.1,255.0 L1198.1,254.0 L1201.1,253.5 L1204.1,253.6 L1207.1,254.1 L1210.1,254.9 L1213.1,255.8 L1216.1,256.1 L1219.1,256.2 L1222.1,255.9 L1225.1,254.8 L1228.1,253.1 L1231.1,251.7 L1234.1,250.8 L1237.1,250.0 L1240.1,249.9 L1243.1,250.7 L1246.1,251.2 L1249.1,251.3 L1252.1,250.6 L1255.1,249.5 L1258.1,248.7 L1261.1,248.0 L1264.1,247.5 L1267.1,246.5 L1270.1,245.7 L1273.1,246.0 L1276.1,247.1 L1279.1,248.1 L1282.1,247.7 L1285.1,244.4 L1288.1,241.0 L1291.1,238.0 L1294.1,236.4 L1297.1,235.8 L1300.1,235.4 L1303.1,236.3 L1306.1,238.7 L1309.1,241.1 L1312.1,242.5 L1315.1,241.5 L1318.1,239.4 L1321.1,238.7 L1324.1,239.1 L1327.1,239.2 L1330.1,239.2 L1333.1,239.5 L1336.1,239.5 L1339.1,238.9 L1342.1,238.4 L1345.1,238.0 L1348.1,237.3 L1351.1,236.8 L1354.1,237.9 L1357.1,240.4 L1360.1,243.4 L1363.1,245.0 L1366.1,245.4 L1369.1,246.3 L1372.1,247.4 L1375.1,247.8 L1378.1,248.4 L1381.1,249.3 L1384.1,249.4 L1387.1,249.0 L1390.1,249.9 L1393.1,251.4 L1396.1,253.4 L1399.1,255.3 L1402.1,256.7 L1405.1,257.4 L1408.1,257.6 L1411.1,257.4 L1414.1,256.6 L1417.1,256.0 L1420.1,256.6 L1423.1,257.2 L1426.1,257.3 L1429.1,258.0 L1432.1,259.1 L1435.1,259.0 L1438.1,257.6 L1441.1,257.0 L1444.1,257.6 L1447.1,258.7 L1450.1,259.6 L1453.1,260.4 L1456.1,261.2 L1459.1,261.8 L1462.1,261.9 L1465.1,262.0 L1468.1,263.1 L1470.0,263.3" fill="none" stroke="#333" stroke-width="1.7" stroke-linejoin="round"/>
<path d="M1141.1,322.6 L1144.1,323.5 L1147.1,324.4 L1150.1,325.8 L1153.1,326.8 L1156.1,326.3 L1159.1,325.0 L1162.1,324.1 L1165.1,323.3 L1168.1,322.3 L1171.1,321.3 L1174.1,321.1 L1177.1,321.5 L1180.1,321.2 L1183.1,320.8 L1186.1,320.0 L1189.1,318.5 L1192.1,316.8 L1195.1,315.2 L1198.1,315.2 L1201.1,317.0 L1204.1,319.8 L1207.1,321.0 L1210.1,319.9 L1213.1,318.3 L1216.1,317.4 L1219.1,317.1 L1222.1,317.1 L1225.1,317.4 L1228.1,318.1 L1231.1,319.2 L1234.1,319.4 L1237.1,318.3 L1240.1,316.7 L1243.1,315.3 L1246.1,314.0 L1249.1,312.8 L1252.1,312.5 L1255.1,312.6 L1258.1,312.0 L1261.1,310.6 L1264.1,309.6 L1267.1,308.9 L1270.1,307.9 L1273.1,307.1 L1276.1,307.0 L1279.1,307.7 L1282.1,307.1 L1285.1,304.0 L1288.1,299.0 L1291.1,295.5 L1294.1,292.4 L1297.1,289.8 L1300.1,288.2 L1303.1,287.2 L1306.1,286.5 L1309.1,286.3 L1312.1,286.4 L1315.1,286.2 L1318.1,285.9 L1321.1,285.5 L1324.1,284.8 L1327.1,285.1 L1330.1,285.6 L1333.1,284.9 L1336.1,283.5 L1339.1,282.9 L1342.1,284.4 L1345.1,286.1 L1348.1,286.6 L1351.1,286.8 L1354.1,287.3 L1357.1,287.7 L1360.1,288.0 L1363.1,289.7 L1366.1,292.1 L1369.1,295.0 L1372.1,298.4 L1375.1,301.6 L1378.1,303.9 L1381.1,304.4 L1384.1,303.4 L1387.1,302.0 L1390.1,301.6 L1393.1,303.4 L1396.1,306.8 L1399.1,310.7 L1402.1,314.5 L1405.1,318.3 L1408.1,321.4 L1411.1,323.6 L1414.1,323.9 L1417.1,322.8 L1420.1,322.2 L1423.1,321.5 L1426.1,320.8 L1429.1,320.0 L1432.1,319.3 L1435.1,319.1 L1438.1,319.5 L1441.1,320.7 L1444.1,322.3 L1447.1,323.8 L1450.1,325.8 L1453.1,327.5 L1456.1,328.1 L1459.1,327.7 L1462.1,327.3 L1465.1,326.7 L1468.1,325.2 L1470.0,324.4" fill="none" stroke="#333" stroke-width="1.7" stroke-linejoin="round"/>
<path d="M1141.1,396.1 L1144.1,394.1 L1147.1,392.8 L1150.1,392.4 L1153.1,392.4 L1156.1,392.4 L1159.1,392.2 L1162.1,392.2 L1165.1,392.3 L1168.1,392.4 L1171.1,391.9 L1174.1,391.0 L1177.1,391.0 L1180.1,391.1 L1183.1,391.0 L1186.1,390.8 L1189.1,390.6 L1192.1,390.2 L1195.1,389.4 L1198.1,388.0 L1201.1,386.6 L1204.1,386.1 L1207.1,386.3 L1210.1,386.1 L1213.1,385.4 L1216.1,384.9 L1219.1,384.3 L1222.1,383.6 L1225.1,384.1 L1228.1,385.3 L1231.1,385.8 L1234.1,385.9 L1237.1,385.8 L1240.1,384.8 L1243.1,383.4 L1246.1,381.9 L1249.1,380.4 L1252.1,379.4 L1255.1,377.8 L1258.1,376.4 L1261.1,376.6 L1264.1,377.1 L1267.1,377.1 L1270.1,376.9 L1273.1,375.9 L1276.1,373.6 L1279.1,370.7 L1282.1,367.6 L1285.1,364.1 L1288.1,360.0 L1291.1,355.7 L1294.1,351.7 L1297.1,347.9 L1300.1,344.3 L1303.1,340.5 L1306.1,337.1 L1309.1,334.5 L1312.1,332.3 L1315.1,331.0 L1318.1,331.0 L1321.1,332.3 L1324.1,332.8 L1327.1,331.9 L1330.1,331.0 L1333.1,329.6 L1336.1,327.9 L1339.1,328.4 L1342.1,329.8 L1345.1,330.4 L1348.1,330.7 L1351.1,331.0 L1354.1,331.6 L1357.1,332.5 L1360.1,333.4 L1363.1,336.8 L1366.1,343.8 L1369.1,351.6 L1372.1,357.2 L1375.1,361.6 L1378.1,366.0 L1381.1,370.0 L1384.1,372.4 L1387.1,371.4 L1390.1,369.7 L1393.1,370.6 L1396.1,373.5 L1399.1,376.2 L1402.1,378.2 L1405.1,380.2 L1408.1,381.4 L1411.1,382.7 L1414.1,384.4 L1417.1,385.8 L1420.1,386.5 L1423.1,386.5 L1426.1,386.9 L1429.1,387.8 L1432.1,388.4 L1435.1,388.7 L1438.1,388.9 L1441.1,389.0 L1444.1,389.6 L1447.1,391.0 L1450.1,392.8 L1453.1,395.4 L1456.1,398.3 L1459.1,399.2 L1462.1,397.0 L1465.1,395.0 L1468.1,393.4 L1470.0,391.6" fill="none" stroke="#333" stroke-width="1.7" stroke-linejoin="round"/>
<path d="M1141.1,454.5 L1144.1,456.3 L1147.1,457.1 L1150.1,456.4 L1153.1,455.3 L1156.1,454.7 L1159.1,454.5 L1162.1,455.0 L1165.1,455.8 L1168.1,456.0 L1171.1,455.4 L1174.1,454.5 L1177.1,454.1 L1180.1,454.0 L1183.1,453.9 L1186.1,453.8 L1189.1,453.4 L1192.1,452.7 L1195.1,451.8 L1198.1,451.0 L1201.1,449.9 L1204.1,448.5 L1207.1,447.5 L1210.1,447.5 L1213.1,448.2 L1216.1,449.0 L1219.1,449.4 L1222.1,449.0 L1225.1,447.6 L1228.1,446.1 L1231.1,445.8 L1234.1,447.1 L1237.1,447.6 L1240.1,447.5 L1243.1,446.6 L1246.1,444.9 L1249.1,443.1 L1252.1,441.5 L1255.1,440.1 L1258.1,439.5 L1261.1,439.5 L1264.1,439.7 L1267.1,439.8 L1270.1,439.4 L1273.1,437.7 L1276.1,434.9 L1279.1,432.0 L1282.1,429.1 L1285.1,426.6 L1288.1,425.5 L1291.1,424.9 L1294.1,423.5 L1297.1,421.8 L1300.1,420.3 L1303.1,419.2 L1306.1,418.2 L1309.1,416.5 L1312.1,413.6 L1315.1,409.6 L1318.1,406.3 L1321.1,404.3 L1324.1,404.4 L1327.1,403.4 L1330.1,401.4 L1333.1,399.6 L1336.1,398.4 L1339.1,397.3 L1342.1,397.1 L1345.1,398.1 L1348.1,399.9 L1351.1,403.6 L1354.1,407.6 L1357.1,410.7 L1360.1,414.0 L1363.1,417.2 L1366.1,420.1 L1369.1,422.9 L1372.1,426.0 L1375.1,429.0 L1378.1,432.0 L1381.1,434.8 L1384.1,437.3 L1387.1,439.9 L1390.1,442.0 L1393.1,443.4 L1396.1,444.4 L1399.1,445.4 L1402.1,446.7 L1405.1,448.7 L1408.1,450.3 L1411.1,451.5 L1414.1,453.2 L1417.1,454.6 L1420.1,455.1 L1423.1,456.2 L1426.1,457.9 L1429.1,458.7 L1432.1,458.3 L1435.1,458.2 L1438.1,457.9 L1441.1,456.8 L1444.1,455.7 L1447.1,455.7 L1450.1,456.7 L1453.1,457.7 L1456.1,458.7 L1459.1,459.7 L1462.1,460.7 L1465.1,461.3 L1468.1,461.4 L1470.0,461.7" fill="none" stroke="#333" stroke-width="1.7" stroke-linejoin="round"/>
<path d="M1141.1,523.6 L1144.1,524.6 L1147.1,524.5 L1150.1,523.9 L1153.1,524.1 L1156.1,524.5 L1159.1,524.2 L1162.1,524.5 L1165.1,525.7 L1168.1,527.1 L1171.1,527.9 L1174.1,527.3 L1177.1,526.2 L1180.1,524.5 L1183.1,522.8 L1186.1,520.7 L1189.1,518.1 L1192.1,515.4 L1195.1,513.0 L1198.1,511.5 L1201.1,511.7 L1204.1,512.6 L1207.1,513.6 L1210.1,514.4 L1213.1,514.3 L1216.1,513.2 L1219.1,511.4 L1222.1,510.0 L1225.1,509.1 L1228.1,509.3 L1231.1,510.1 L1234.1,510.1 L1237.1,509.1 L1240.1,507.4 L1243.1,505.7 L1246.1,503.9 L1249.1,501.3 L1252.1,498.9 L1255.1,497.1 L1258.1,495.7 L1261.1,495.6 L1264.1,495.6 L1267.1,494.6 L1270.1,493.0 L1273.1,490.6 L1276.1,487.7 L1279.1,485.2 L1282.1,482.3 L1285.1,478.8 L1288.1,476.1 L1291.1,473.7 L1294.1,470.0 L1297.1,464.4 L1300.1,458.9 L1303.1,454.6 L1306.1,450.3 L1309.1,446.1 L1312.1,443.1 L1315.1,444.0 L1318.1,441.6 L1321.1,439.3 L1324.1,437.1 L1327.1,434.7 L1330.1,432.8 L1333.1,431.2 L1336.1,430.4 L1339.1,429.5 L1342.1,427.6 L1345.1,426.2 L1348.1,426.2 L1351.1,427.5 L1354.1,430.1 L1357.1,434.9 L1360.1,442.4 L1363.1,453.3 L1366.1,460.8 L1369.1,467.5 L1372.1,473.3 L1375.1,478.0 L1378.1,482.6 L1381.1,486.9 L1384.1,490.5 L1387.1,492.5 L1390.1,492.7 L1393.1,493.2 L1396.1,494.9 L1399.1,496.4 L1402.1,498.6 L1405.1,501.7 L1408.1,504.6 L1411.1,507.2 L1414.1,510.1 L1417.1,512.8 L1420.1,515.0 L1423.1,517.7 L1426.1,521.0 L1429.1,524.4 L1432.1,527.6 L1435.1,530.2 L1438.1,532.3 L1441.1,533.2 L1444.1,531.5 L1447.1,529.4 L1450.1,527.6 L1453.1,525.6 L1456.1,524.9 L1459.1,525.0 L1462.1,525.0 L1465.1,525.0 L1468.1,524.5 L1470.0,524.5" fill="none" stroke="#333" stroke-width="1.7" stroke-linejoin="round"/>
<path d="M1141.1,593.5 L1144.1,593.1 L1147.1,592.0 L1150.1,591.2 L1153.1,590.4 L1156.1,589.1 L1159.1,588.6 L1162.1,588.9 L1165.1,588.9 L1168.1,589.1 L1171.1,589.6 L1174.1,589.6 L1177.1,589.3 L1180.1,588.3 L1183.1,586.6 L1186.1,584.5 L1189.1,581.6 L1192.1,580.5 L1195.1,581.4 L1198.1,582.8 L1201.1,583.6 L1204.1,583.0 L1207.1,581.7 L1210.1,581.3 L1213.1,581.8 L1216.1,580.4 L1219.1,578.1 L1222.1,576.0 L1225.1,573.7 L1228.1,572.1 L1231.1,571.4 L1234.1,570.4 L1237.1,569.3 L1240.1,568.3 L1243.1,567.0 L1246.1,566.1 L1249.1,566.4 L1252.1,567.1 L1255.1,568.4 L1258.1,568.3 L1261.1,566.5 L1264.1,562.7 L1267.1,557.5 L1270.1,552.0 L1273.1,547.0 L1276.1,543.8 L1279.1,542.9 L1282.1,543.5 L1285.1,541.3 L1288.1,537.0 L1291.1,530.5 L1294.1,523.7 L1297.1,518.1 L1300.1,513.3 L1303.1,508.6 L1306.1,504.3 L1309.1,500.4 L1312.1,495.6 L1315.1,489.9 L1318.1,484.0 L1321.1,478.4 L1324.1,473.3 L1327.1,471.9 L1330.1,471.8 L1333.1,471.9 L1336.1,472.5 L1339.1,473.1 L1342.1,475.7 L1345.1,480.1 L1348.1,484.5 L1351.1,489.6 L1354.1,494.4 L1357.1,497.1 L1360.1,498.8 L1363.1,501.5 L1366.1,506.0 L1369.1,513.0 L1372.1,521.1 L1375.1,529.1 L1378.1,536.5 L1381.1,542.9 L1384.1,548.2 L1387.1,552.8 L1390.1,556.1 L1393.1,559.6 L1396.1,563.8 L1399.1,567.1 L1402.1,569.9 L1405.1,573.0 L1408.1,573.8 L1411.1,572.7 L1414.1,572.0 L1417.1,571.6 L1420.1,570.7 L1423.1,570.2 L1426.1,570.8 L1429.1,572.4 L1432.1,574.7 L1435.1,577.0 L1438.1,579.0 L1441.1,580.5 L1444.1,581.6 L1447.1,582.4 L1450.1,583.2 L1453.1,584.0 L1456.1,584.4 L1459.1,584.4 L1462.1,584.1 L1465.1,584.7 L1468.1,587.2 L1470.0,589.6" fill="none" stroke="#333" stroke-width="1.7" stroke-linejoin="round"/>
<path d="M1141.1,653.9 L1144.1,655.5 L1147.1,654.3 L1150.1,651.6 L1153.1,648.6 L1156.1,646.6 L1159.1,646.4 L1162.1,647.9 L1165.1,650.5 L1168.1,652.7 L1171.1,652.2 L1174.1,649.9 L1177.1,647.2 L1180.1,644.8 L1183.1,642.8 L1186.1,641.6 L1189.1,643.3 L1192.1,646.6 L1195.1,650.7 L1198.1,654.6 L1201.1,656.8 L1204.1,654.8 L1207.1,650.6 L1210.1,647.9 L1213.1,646.1 L1216.1,644.9 L1219.1,645.1 L1222.1,647.4 L1225.1,649.6 L1228.1,649.6 L1231.1,647.9 L1234.1,646.2 L1237.1,644.3 L1240.1,642.0 L1243.1,639.9 L1246.1,639.3 L1249.1,639.2 L1252.1,638.4 L1255.1,637.5 L1258.1,636.9 L1261.1,636.3 L1264.1,634.9 L1267.1,630.5 L1270.1,624.7 L1273.1,619.2 L1276.1,615.5 L1279.1,613.2 L1282.1,611.6 L1285.1,610.8 L1288.1,610.8 L1291.1,612.0 L1294.1,610.4 L1297.1,605.9 L1300.1,603.3 L1303.1,601.7 L1306.1,600.0 L1309.1,598.1 L1312.1,597.1 L1315.1,593.1 L1318.1,587.8 L1321.1,582.8 L1324.1,577.8 L1327.1,573.6 L1330.1,571.4 L1333.1,570.6 L1336.1,570.0 L1339.1,568.7 L1342.1,567.7 L1345.1,567.3 L1348.1,568.6 L1351.1,573.2 L1354.1,579.5 L1357.1,585.6 L1360.1,590.4 L1363.1,593.0 L1366.1,593.2 L1369.1,592.6 L1372.1,594.0 L1375.1,598.0 L1378.1,605.7 L1381.1,615.5 L1384.1,621.9 L1387.1,625.8 L1390.1,626.8 L1393.1,626.2 L1396.1,624.9 L1399.1,623.7 L1402.1,623.9 L1405.1,626.0 L1408.1,629.1 L1411.1,632.5 L1414.1,636.1 L1417.1,639.2 L1420.1,641.2 L1423.1,642.1 L1426.1,642.8 L1429.1,643.5 L1432.1,644.2 L1435.1,644.5 L1438.1,645.2 L1441.1,646.0 L1444.1,647.5 L1447.1,649.4 L1450.1,651.9 L1453.1,652.9 L1456.1,652.9 L1459.1,652.9 L1462.1,652.4 L1465.1,651.4 L1468.1,650.5 L1470.0,651.5" fill="none" stroke="#333" stroke-width="1.7" stroke-linejoin="round"/>
<path d="M1141.1,722.5 L1144.1,724.9 L1147.1,725.1 L1150.1,723.2 L1153.1,722.1 L1156.1,721.7 L1159.1,720.8 L1162.1,718.3 L1165.1,714.7 L1168.1,713.0 L1171.1,712.1 L1174.1,711.5 L1177.1,710.8 L1180.1,711.4 L1183.1,714.7 L1186.1,719.5 L1189.1,722.9 L1192.1,724.8 L1195.1,725.3 L1198.1,724.4 L1201.1,721.7 L1204.1,717.8 L1207.1,713.7 L1210.1,710.0 L1213.1,706.7 L1216.1,705.5 L1219.1,705.6 L1222.1,704.8 L1225.1,704.3 L1228.1,704.1 L1231.1,704.1 L1234.1,704.2 L1237.1,703.7 L1240.1,702.7 L1243.1,701.7 L1246.1,701.8 L1249.1,703.3 L1252.1,705.8 L1255.1,707.6 L1258.1,709.2 L1261.1,710.8 L1264.1,711.6 L1267.1,712.0 L1270.1,710.0 L1273.1,705.2 L1276.1,698.3 L1279.1,690.7 L1282.1,683.6 L1285.1,678.9 L1288.1,677.6 L1291.1,677.6 L1294.1,678.9 L1297.1,682.2 L1300.1,684.8 L1303.1,683.4 L1306.1,678.9 L1309.1,673.2 L1312.1,666.7 L1315.1,659.3 L1318.1,653.2 L1321.1,650.1 L1324.1,650.3 L1327.1,651.9 L1330.1,654.1 L1333.1,656.0 L1336.1,656.7 L1339.1,655.7 L1342.1,654.5 L1345.1,655.0 L1348.1,657.7 L1351.1,658.8 L1354.1,659.8 L1357.1,660.5 L1360.1,661.1 L1363.1,662.1 L1366.1,663.6 L1369.1,665.9 L1372.1,668.8 L1375.1,672.1 L1378.1,675.6 L1381.1,679.5 L1384.1,683.5 L1387.1,686.8 L1390.1,690.2 L1393.1,694.5 L1396.1,698.7 L1399.1,702.4 L1402.1,705.9 L1405.1,709.4 L1408.1,709.5 L1411.1,706.5 L1414.1,703.2 L1417.1,699.7 L1420.1,697.5 L1423.1,698.1 L1426.1,700.4 L1429.1,703.1 L1432.1,706.1 L1435.1,709.5 L1438.1,714.3 L1441.1,714.8 L1444.1,714.6 L1447.1,715.2 L1450.1,716.6 L1453.1,718.3 L1456.1,720.4 L1459.1,722.8 L1462.1,724.1 L1465.1,724.1 L1468.1,723.9 L1470.0,723.9" fill="none" stroke="#333" stroke-width="1.7" stroke-linejoin="round"/>
<text class="serif" transform="translate(1188.0,795.8) scale(1,1.020)" x="0" y="0" font-size="32.5" fill="#000" text-anchor="middle">535</text>
<text class="serif" transform="translate(1328.9,795.8) scale(1,1.020)" x="0" y="0" font-size="32.5" fill="#000" text-anchor="middle">532</text>
<text class="serif" transform="translate(1470.0,795.8) scale(1,1.020)" x="0" y="0" font-size="32.5" fill="#000" text-anchor="middle">529</text>
<text class="sans" transform="translate(1154.5,244.8) scale(1,1.04)" x="0" y="0" font-size="32.5" fill="#000">10.75<tspan font-size="30" dx="1.2" dy="-4.8">°</tspan></text>
<text class="sans" transform="translate(1154.5,303.8) scale(1,1.04)" x="0" y="0" font-size="32.5" fill="#000">18.25<tspan font-size="30" dx="1.2" dy="-4.8">°</tspan></text>
<text class="sans" transform="translate(1154.5,369.3) scale(1,1.04)" x="0" y="0" font-size="32.5" fill="#000">25.75<tspan font-size="30" dx="1.2" dy="-4.8">°</tspan></text>
<text class="sans" transform="translate(1154.5,435.6) scale(1,1.04)" x="0" y="0" font-size="32.5" fill="#000">33.25<tspan font-size="30" dx="1.2" dy="-4.8">°</tspan></text>
<text class="sans" transform="translate(1154.5,500.3) scale(1,1.04)" x="0" y="0" font-size="32.5" fill="#000">40.75<tspan font-size="30" dx="1.2" dy="-4.8">°</tspan></text>
<text class="sans" transform="translate(1154.5,559.0) scale(1,1.04)" x="0" y="0" font-size="32.5" fill="#000">48.25<tspan font-size="30" dx="1.2" dy="-4.8">°</tspan></text>
<text class="sans" transform="translate(1154.5,624.6) scale(1,1.04)" x="0" y="0" font-size="32.5" fill="#000">55.75<tspan font-size="30" dx="1.2" dy="-4.8">°</tspan></text>
<text class="sans" transform="translate(1154.5,689.8) scale(1,1.04)" x="0" y="0" font-size="32.5" fill="#000">63.25<tspan font-size="30" dx="1.2" dy="-4.8">°</tspan></text>
<rect x="1633.1" y="147.5" width="329.1" height="597.3" fill="none" stroke="#1e1e1e" stroke-width="1.5"/>
<line x1="1688.3" y1="744.8" x2="1688.3" y2="737.8" stroke="#222" stroke-width="1.5"/>
<line x1="1743.2" y1="744.8" x2="1743.2" y2="735.0" stroke="#222" stroke-width="1.5"/>
<line x1="1798.2" y1="744.8" x2="1798.2" y2="737.8" stroke="#222" stroke-width="1.5"/>
<line x1="1852.8" y1="744.8" x2="1852.8" y2="735.0" stroke="#222" stroke-width="1.5"/>
<line x1="1907.4" y1="744.8" x2="1907.4" y2="737.8" stroke="#222" stroke-width="1.5"/>
<path d="M1633.1,209.5 L1635.3,209.8 L1637.5,208.0 L1639.7,208.1 L1641.9,209.7 L1644.1,211.1 L1646.3,211.8 L1648.5,212.4 L1650.7,213.2 L1652.9,212.5 L1655.1,210.2 L1657.3,208.8 L1659.5,207.8 L1661.7,208.2 L1663.9,209.4 L1666.1,211.2 L1668.3,213.3 L1670.5,214.4 L1672.7,215.2 L1674.9,214.5 L1677.1,212.4 L1679.3,212.1 L1681.5,211.6 L1683.7,209.9 L1685.9,208.8 L1688.1,208.5 L1690.3,208.6 L1692.5,208.3 L1694.7,207.5 L1696.9,207.3 L1699.1,208.0 L1701.3,210.3 L1703.5,212.0 L1705.7,212.3 L1707.9,212.8 L1710.1,212.6 L1712.3,211.7 L1714.5,210.9 L1716.7,210.2 L1718.9,209.4 L1721.1,208.8 L1723.3,208.6 L1725.5,208.4 L1727.7,208.0 L1729.9,207.8 L1732.1,207.6 L1734.3,207.8 L1736.5,207.4 L1738.7,206.5 L1740.9,205.6 L1743.1,205.9 L1745.3,207.6 L1747.5,207.5 L1749.7,205.5 L1751.9,204.8 L1754.1,205.5 L1756.3,206.6 L1758.5,206.7 L1760.7,206.4 L1762.9,207.6 L1765.1,208.5 L1767.3,208.2 L1769.5,206.4 L1771.7,205.1 L1773.9,206.8 L1776.1,210.0 L1778.3,211.5 L1780.5,210.7 L1782.7,207.7 L1784.9,205.4 L1787.1,204.9 L1789.3,205.8 L1791.5,207.2 L1793.7,208.2 L1795.9,208.1 L1798.1,204.7 L1800.3,201.9 L1802.5,204.7 L1804.7,206.4 L1806.9,203.0 L1809.1,199.7 L1811.3,197.3 L1813.5,194.7 L1815.7,194.5 L1817.9,196.2 L1820.1,193.8 L1822.3,189.5 L1824.5,186.8 L1826.7,186.3 L1828.9,185.9 L1831.1,185.2 L1833.3,185.4 L1835.5,186.0 L1837.7,185.9 L1839.9,184.9 L1842.1,186.1 L1844.3,190.8 L1846.5,196.3 L1848.7,201.1 L1850.9,200.0 L1853.1,195.8 L1855.3,192.7 L1857.5,194.2 L1859.7,197.2 L1861.9,200.8 L1864.1,203.0 L1866.3,203.2 L1868.5,203.1 L1870.7,205.3 L1872.9,207.7 L1875.1,208.7 L1877.3,209.6 L1879.5,210.4 L1881.7,209.8 L1883.9,209.1 L1886.1,209.8 L1888.3,211.1 L1890.5,211.7 L1892.7,211.0 L1894.9,210.7 L1897.1,210.5 L1899.3,209.5 L1901.5,208.2 L1903.7,206.8 L1905.9,206.2 L1908.1,207.1 L1910.3,209.5 L1912.5,211.1 L1914.7,211.0 L1916.9,210.0 L1919.1,209.0 L1921.3,208.5 L1923.5,207.8 L1925.7,208.1 L1927.9,208.5 L1930.1,208.0 L1932.3,207.8 L1934.5,208.4 L1936.7,209.2 L1938.9,208.9 L1941.1,208.4 L1943.3,209.0 L1945.5,210.3 L1947.7,212.7 L1949.9,214.8 L1952.1,215.1 L1954.3,214.5 L1956.5,214.4 L1958.7,213.7 L1960.9,212.3 L1962.2,211.8" fill="none" stroke="#333" stroke-width="1.7" stroke-linejoin="round"/>
<path d="M1633.1,279.5 L1635.3,277.5 L1637.5,277.1 L1639.7,276.7 L1641.9,276.8 L1644.1,276.5 L1646.3,275.8 L1648.5,275.9 L1650.7,277.4 L1652.9,279.0 L1655.1,278.8 L1657.3,278.7 L1659.5,278.9 L1661.7,278.0 L1663.9,277.7 L1666.1,277.8 L1668.3,277.9 L1670.5,278.5 L1672.7,279.2 L1674.9,279.2 L1677.1,277.2 L1679.3,274.1 L1681.5,271.2 L1683.7,271.0 L1685.9,274.1 L1688.1,277.1 L1690.3,279.3 L1692.5,281.4 L1694.7,282.6 L1696.9,281.5 L1699.1,279.0 L1701.3,277.3 L1703.5,276.3 L1705.7,275.0 L1707.9,274.9 L1710.1,277.5 L1712.3,280.0 L1714.5,282.0 L1716.7,281.0 L1718.9,277.2 L1721.1,272.2 L1723.3,268.6 L1725.5,270.4 L1727.7,274.3 L1729.9,277.1 L1732.1,276.8 L1734.3,275.6 L1736.5,274.8 L1738.7,273.6 L1740.9,273.0 L1743.1,273.5 L1745.3,275.5 L1747.5,277.7 L1749.7,278.7 L1751.9,279.6 L1754.1,278.9 L1756.3,276.8 L1758.5,274.0 L1760.7,272.4 L1762.9,272.9 L1765.1,273.5 L1767.3,273.2 L1769.5,272.9 L1771.7,273.5 L1773.9,274.7 L1776.1,275.7 L1778.3,276.5 L1780.5,276.2 L1782.7,274.7 L1784.9,272.9 L1787.1,272.3 L1789.3,272.8 L1791.5,274.3 L1793.7,275.6 L1795.9,275.6 L1798.1,271.2 L1800.3,265.6 L1802.5,264.0 L1804.7,264.5 L1806.9,262.4 L1809.1,259.9 L1811.3,260.0 L1813.5,260.0 L1815.7,258.6 L1817.9,256.8 L1820.1,255.2 L1822.3,254.5 L1824.5,254.6 L1826.7,254.8 L1828.9,254.0 L1831.1,250.8 L1833.3,248.3 L1835.5,251.0 L1837.7,255.0 L1839.9,255.6 L1842.1,252.1 L1844.3,248.5 L1846.5,245.9 L1848.7,249.2 L1850.9,254.7 L1853.1,258.9 L1855.3,258.0 L1857.5,256.3 L1859.7,257.8 L1861.9,261.5 L1864.1,266.1 L1866.3,270.7 L1868.5,271.8 L1870.7,272.0 L1872.9,273.2 L1875.1,276.3 L1877.3,280.5 L1879.5,282.4 L1881.7,282.4 L1883.9,282.2 L1886.1,281.2 L1888.3,279.1 L1890.5,276.1 L1892.7,272.6 L1894.9,270.7 L1897.1,272.9 L1899.3,275.7 L1901.5,278.8 L1903.7,278.4 L1905.9,276.4 L1908.1,277.5 L1910.3,278.7 L1912.5,280.1 L1914.7,279.2 L1916.9,277.0 L1919.1,274.4 L1921.3,273.2 L1923.5,275.5 L1925.7,279.7 L1927.9,280.9 L1930.1,278.4 L1932.3,276.2 L1934.5,273.9 L1936.7,272.6 L1938.9,272.1 L1941.1,270.3 L1943.3,269.2 L1945.5,270.8 L1947.7,272.5 L1949.9,273.3 L1952.1,275.9 L1954.3,279.8 L1956.5,281.7 L1958.7,280.3 L1960.9,277.9 L1962.2,275.9" fill="none" stroke="#333" stroke-width="1.7" stroke-linejoin="round"/>
<path d="M1633.1,338.8 L1635.3,337.0 L1637.5,335.3 L1639.7,335.2 L1641.9,335.5 L1644.1,339.9 L1646.3,340.4 L1648.5,339.4 L1650.7,338.3 L1652.9,337.0 L1655.1,336.7 L1657.3,338.1 L1659.5,340.3 L1661.7,342.2 L1663.9,343.5 L1666.1,344.6 L1668.3,346.0 L1670.5,346.5 L1672.7,345.1 L1674.9,342.9 L1677.1,341.0 L1679.3,340.2 L1681.5,341.2 L1683.7,342.2 L1685.9,342.7 L1688.1,344.2 L1690.3,346.4 L1692.5,347.6 L1694.7,345.9 L1696.9,342.5 L1699.1,339.8 L1701.3,337.7 L1703.5,338.3 L1705.7,341.6 L1707.9,344.4 L1710.1,347.4 L1712.3,349.0 L1714.5,346.7 L1716.7,341.8 L1718.9,336.3 L1721.1,333.7 L1723.3,336.8 L1725.5,340.8 L1727.7,342.1 L1729.9,339.0 L1732.1,335.1 L1734.3,330.9 L1736.5,327.7 L1738.7,327.9 L1740.9,330.3 L1743.1,333.1 L1745.3,336.2 L1747.5,338.2 L1749.7,338.5 L1751.9,337.4 L1754.1,336.0 L1756.3,335.4 L1758.5,335.5 L1760.7,336.4 L1762.9,338.3 L1765.1,340.5 L1767.3,340.5 L1769.5,338.6 L1771.7,337.1 L1773.9,335.6 L1776.1,334.6 L1778.3,334.0 L1780.5,334.0 L1782.7,335.0 L1784.9,335.5 L1787.1,333.0 L1789.3,328.5 L1791.5,329.9 L1793.7,334.1 L1795.9,337.4 L1798.1,336.4 L1800.3,331.8 L1802.5,327.7 L1804.7,324.6 L1806.9,321.9 L1809.1,319.5 L1811.3,319.0 L1813.5,321.5 L1815.7,323.6 L1817.9,322.6 L1820.1,315.8 L1822.3,307.3 L1824.5,301.3 L1826.7,304.0 L1828.9,309.7 L1831.1,311.4 L1833.3,308.7 L1835.5,306.9 L1837.7,306.2 L1839.9,304.8 L1842.1,303.1 L1844.3,302.6 L1846.5,302.1 L1848.7,304.0 L1850.9,310.8 L1853.1,319.2 L1855.3,321.1 L1857.5,321.1 L1859.7,322.6 L1861.9,324.5 L1864.1,329.7 L1866.3,336.4 L1868.5,341.6 L1870.7,341.3 L1872.9,338.7 L1875.1,337.2 L1877.3,336.5 L1879.5,335.4 L1881.7,336.2 L1883.9,339.4 L1886.1,345.0 L1888.3,349.3 L1890.5,348.8 L1892.7,346.6 L1894.9,344.5 L1897.1,341.7 L1899.3,341.1 L1901.5,344.4 L1903.7,347.7 L1905.9,346.0 L1908.1,342.7 L1910.3,342.1 L1912.5,344.1 L1914.7,346.3 L1916.9,347.8 L1919.1,347.3 L1921.3,345.1 L1923.5,342.2 L1925.7,339.4 L1927.9,336.5 L1930.1,336.4 L1932.3,337.4 L1934.5,338.6 L1936.7,339.5 L1938.9,340.4 L1941.1,341.9 L1943.3,342.9 L1945.5,343.3 L1947.7,344.4 L1949.9,344.3 L1952.1,342.1 L1954.3,339.9 L1956.5,339.8 L1958.7,340.3 L1960.9,340.0 L1962.2,340.0" fill="none" stroke="#333" stroke-width="1.7" stroke-linejoin="round"/>
<path d="M1633.1,405.7 L1635.3,405.1 L1637.5,406.6 L1639.7,407.2 L1641.9,406.9 L1644.1,406.9 L1646.3,407.5 L1648.5,408.7 L1650.7,409.8 L1652.9,409.8 L1655.1,408.7 L1657.3,407.1 L1659.5,406.7 L1661.7,406.1 L1663.9,406.7 L1666.1,408.9 L1668.3,410.6 L1670.5,411.8 L1672.7,411.7 L1674.9,410.2 L1677.1,408.9 L1679.3,408.8 L1681.5,408.9 L1683.7,409.1 L1685.9,409.4 L1688.1,408.9 L1690.3,409.0 L1692.5,410.2 L1694.7,411.5 L1696.9,412.8 L1699.1,411.0 L1701.3,407.0 L1703.5,404.3 L1705.7,405.0 L1707.9,406.6 L1710.1,409.3 L1712.3,411.5 L1714.5,411.5 L1716.7,411.3 L1718.9,410.1 L1721.1,408.1 L1723.3,407.2 L1725.5,407.5 L1727.7,407.3 L1729.9,407.4 L1732.1,407.6 L1734.3,407.4 L1736.5,407.3 L1738.7,406.4 L1740.9,405.2 L1743.1,405.1 L1745.3,404.6 L1747.5,403.8 L1749.7,402.8 L1751.9,402.0 L1754.1,401.8 L1756.3,401.4 L1758.5,401.4 L1760.7,401.6 L1762.9,402.7 L1765.1,406.2 L1767.3,407.2 L1769.5,404.9 L1771.7,403.6 L1773.9,403.0 L1776.1,402.1 L1778.3,401.3 L1780.5,401.7 L1782.7,402.2 L1784.9,401.7 L1787.1,401.8 L1789.3,403.7 L1791.5,404.5 L1793.7,403.6 L1795.9,401.8 L1798.1,398.8 L1800.3,396.5 L1802.5,395.2 L1804.7,394.0 L1806.9,392.2 L1809.1,390.2 L1811.3,388.8 L1813.5,387.7 L1815.7,386.9 L1817.9,385.5 L1820.1,382.2 L1822.3,379.9 L1824.5,378.2 L1826.7,376.1 L1828.9,376.5 L1831.1,377.7 L1833.3,378.8 L1835.5,379.8 L1837.7,378.3 L1839.9,375.8 L1842.1,374.2 L1844.3,374.8 L1846.5,376.7 L1848.7,379.1 L1850.9,383.3 L1853.1,388.1 L1855.3,388.8 L1857.5,388.4 L1859.7,392.8 L1861.9,396.9 L1864.1,400.8 L1866.3,405.5 L1868.5,408.7 L1870.7,409.8 L1872.9,411.3 L1875.1,412.9 L1877.3,413.4 L1879.5,411.4 L1881.7,408.7 L1883.9,407.9 L1886.1,408.8 L1888.3,408.9 L1890.5,408.5 L1892.7,408.4 L1894.9,408.9 L1897.1,409.5 L1899.3,409.5 L1901.5,408.6 L1903.7,407.4 L1905.9,406.5 L1908.1,407.0 L1910.3,408.8 L1912.5,410.4 L1914.7,410.7 L1916.9,410.0 L1919.1,409.1 L1921.3,406.9 L1923.5,405.3 L1925.7,406.8 L1927.9,409.6 L1930.1,411.3 L1932.3,412.0 L1934.5,411.9 L1936.7,410.7 L1938.9,409.1 L1941.1,408.7 L1943.3,408.3 L1945.5,408.3 L1947.7,409.3 L1949.9,411.5 L1952.1,413.5 L1954.3,414.1 L1956.5,414.0 L1958.7,414.2 L1960.9,413.6 L1962.2,412.9" fill="none" stroke="#333" stroke-width="1.7" stroke-linejoin="round"/>
<path d="M1633.1,473.9 L1635.3,476.4 L1637.5,479.5 L1639.7,481.7 L1641.9,481.4 L1644.1,479.0 L1646.3,476.4 L1648.5,473.2 L1650.7,470.8 L1652.9,472.6 L1655.1,474.4 L1657.3,473.1 L1659.5,472.0 L1661.7,471.6 L1663.9,471.4 L1666.1,472.3 L1668.3,473.6 L1670.5,473.6 L1672.7,474.2 L1674.9,476.9 L1677.1,481.0 L1679.3,479.2 L1681.5,477.3 L1683.7,476.8 L1685.9,476.8 L1688.1,477.4 L1690.3,478.0 L1692.5,478.3 L1694.7,478.5 L1696.9,479.6 L1699.1,481.5 L1701.3,483.1 L1703.5,481.2 L1705.7,475.8 L1707.9,471.9 L1710.1,469.4 L1712.3,470.1 L1714.5,474.2 L1716.7,479.0 L1718.9,481.7 L1721.1,482.8 L1723.3,481.3 L1725.5,477.7 L1727.7,473.2 L1729.9,469.4 L1732.1,466.5 L1734.3,464.0 L1736.5,461.2 L1738.7,460.9 L1740.9,463.7 L1743.1,466.6 L1745.3,468.8 L1747.5,472.1 L1749.7,474.4 L1751.9,474.4 L1754.1,474.1 L1756.3,472.6 L1758.5,469.5 L1760.7,466.5 L1762.9,463.7 L1765.1,460.9 L1767.3,461.7 L1769.5,466.3 L1771.7,471.1 L1773.9,471.7 L1776.1,470.2 L1778.3,468.6 L1780.5,466.2 L1782.7,465.2 L1784.9,469.0 L1787.1,472.3 L1789.3,471.0 L1791.5,467.7 L1793.7,464.9 L1795.9,460.3 L1798.1,455.3 L1800.3,452.6 L1802.5,452.1 L1804.7,454.4 L1806.9,456.7 L1809.1,454.6 L1811.3,450.1 L1813.5,444.3 L1815.7,440.0 L1817.9,438.9 L1820.1,438.9 L1822.3,437.9 L1824.5,435.0 L1826.7,431.2 L1828.9,428.8 L1831.1,428.9 L1833.3,424.3 L1835.5,418.8 L1837.7,417.6 L1839.9,422.9 L1842.1,429.9 L1844.3,436.0 L1846.5,436.7 L1848.7,438.2 L1850.9,443.2 L1853.1,448.0 L1855.3,451.7 L1857.5,454.3 L1859.7,456.2 L1861.9,457.6 L1864.1,459.4 L1866.3,461.0 L1868.5,462.6 L1870.7,463.1 L1872.9,463.9 L1875.1,466.9 L1877.3,470.2 L1879.5,473.6 L1881.7,476.7 L1883.9,477.9 L1886.1,477.6 L1888.3,476.8 L1890.5,476.1 L1892.7,477.1 L1894.9,478.9 L1897.1,480.5 L1899.3,481.7 L1901.5,480.8 L1903.7,477.1 L1905.9,474.4 L1908.1,473.1 L1910.3,472.9 L1912.5,472.9 L1914.7,472.1 L1916.9,470.5 L1919.1,470.0 L1921.3,471.2 L1923.5,472.2 L1925.7,472.3 L1927.9,471.3 L1930.1,470.5 L1932.3,469.6 L1934.5,468.9 L1936.7,470.1 L1938.9,472.2 L1941.1,475.3 L1943.3,478.5 L1945.5,479.4 L1947.7,476.8 L1949.9,476.8 L1952.1,476.9 L1954.3,476.9 L1956.5,475.9 L1958.7,474.2 L1960.9,473.3 L1962.2,472.1" fill="none" stroke="#333" stroke-width="1.7" stroke-linejoin="round"/>
<path d="M1633.1,528.7 L1635.3,528.5 L1637.5,526.4 L1639.7,527.9 L1641.9,531.6 L1644.1,534.7 L1646.3,535.3 L1648.5,535.6 L1650.7,536.5 L1652.9,535.8 L1655.1,534.8 L1657.3,534.7 L1659.5,533.8 L1661.7,532.6 L1663.9,532.8 L1666.1,536.0 L1668.3,539.4 L1670.5,536.8 L1672.7,532.1 L1674.9,533.4 L1677.1,539.4 L1679.3,545.4 L1681.5,550.7 L1683.7,549.0 L1685.9,542.4 L1688.1,537.6 L1690.3,539.4 L1692.5,541.8 L1694.7,540.7 L1696.9,536.9 L1699.1,534.1 L1701.3,533.0 L1703.5,533.5 L1705.7,534.8 L1707.9,536.3 L1710.1,536.4 L1712.3,537.2 L1714.5,539.9 L1716.7,539.1 L1718.9,534.5 L1721.1,531.4 L1723.3,530.7 L1725.5,532.4 L1727.7,535.0 L1729.9,537.9 L1732.1,538.3 L1734.3,536.1 L1736.5,533.9 L1738.7,530.8 L1740.9,528.0 L1743.1,528.7 L1745.3,531.5 L1747.5,533.1 L1749.7,533.0 L1751.9,534.6 L1754.1,537.2 L1756.3,536.9 L1758.5,534.6 L1760.7,532.3 L1762.9,529.6 L1765.1,526.4 L1767.3,523.2 L1769.5,524.1 L1771.7,527.4 L1773.9,531.4 L1776.1,535.5 L1778.3,538.4 L1780.5,538.5 L1782.7,536.9 L1784.9,534.6 L1787.1,533.7 L1789.3,535.5 L1791.5,535.8 L1793.7,529.7 L1795.9,522.9 L1798.1,518.7 L1800.3,521.9 L1802.5,525.8 L1804.7,525.7 L1806.9,519.7 L1809.1,513.7 L1811.3,507.7 L1813.5,501.6 L1815.7,498.0 L1817.9,498.3 L1820.1,498.9 L1822.3,500.6 L1824.5,500.7 L1826.7,497.9 L1828.9,493.6 L1831.1,485.3 L1833.3,485.1 L1835.5,488.5 L1837.7,490.9 L1839.9,490.3 L1842.1,489.4 L1844.3,489.1 L1846.5,489.7 L1848.7,491.1 L1850.9,493.6 L1853.1,497.1 L1855.3,504.2 L1857.5,512.4 L1859.7,519.5 L1861.9,525.0 L1864.1,526.4 L1866.3,526.1 L1868.5,525.7 L1870.7,524.0 L1872.9,522.2 L1875.1,523.1 L1877.3,528.2 L1879.5,534.5 L1881.7,538.9 L1883.9,538.2 L1886.1,537.3 L1888.3,538.4 L1890.5,540.0 L1892.7,540.1 L1894.9,540.3 L1897.1,540.3 L1899.3,539.8 L1901.5,538.9 L1903.7,537.5 L1905.9,536.4 L1908.1,536.0 L1910.3,537.6 L1912.5,540.6 L1914.7,541.7 L1916.9,538.2 L1919.1,535.0 L1921.3,535.0 L1923.5,536.5 L1925.7,540.1 L1927.9,543.3 L1930.1,546.1 L1932.3,547.6 L1934.5,546.7 L1936.7,544.7 L1938.9,541.7 L1941.1,538.4 L1943.3,537.3 L1945.5,537.4 L1947.7,536.5 L1949.9,535.8 L1952.1,537.4 L1954.3,540.3 L1956.5,541.7 L1958.7,541.7 L1960.9,543.1 L1962.2,544.9" fill="none" stroke="#333" stroke-width="1.7" stroke-linejoin="round"/>
<path d="M1633.1,599.3 L1635.3,600.9 L1637.5,603.4 L1639.7,605.4 L1641.9,606.6 L1644.1,604.9 L1646.3,601.9 L1648.5,600.8 L1650.7,603.1 L1652.9,605.3 L1655.1,607.4 L1657.3,609.2 L1659.5,608.3 L1661.7,606.0 L1663.9,604.0 L1666.1,604.6 L1668.3,609.0 L1670.5,610.9 L1672.7,607.6 L1674.9,605.1 L1677.1,603.6 L1679.3,601.8 L1681.5,600.4 L1683.7,599.2 L1685.9,599.4 L1688.1,602.0 L1690.3,600.8 L1692.5,599.1 L1694.7,597.7 L1696.9,599.1 L1699.1,602.6 L1701.3,606.9 L1703.5,608.2 L1705.7,606.8 L1707.9,606.3 L1710.1,606.4 L1712.3,607.0 L1714.5,608.0 L1716.7,608.9 L1718.9,611.3 L1721.1,613.9 L1723.3,613.3 L1725.5,610.9 L1727.7,608.8 L1729.9,608.6 L1732.1,609.2 L1734.3,609.4 L1736.5,608.7 L1738.7,605.3 L1740.9,600.7 L1743.1,599.5 L1745.3,602.7 L1747.5,604.6 L1749.7,603.2 L1751.9,602.0 L1754.1,600.4 L1756.3,598.3 L1758.5,598.6 L1760.7,598.9 L1762.9,598.3 L1765.1,599.1 L1767.3,599.8 L1769.5,599.5 L1771.7,598.1 L1773.9,596.4 L1776.1,597.0 L1778.3,599.7 L1780.5,607.0 L1782.7,611.2 L1784.9,610.1 L1787.1,607.9 L1789.3,605.1 L1791.5,603.9 L1793.7,603.2 L1795.9,602.7 L1798.1,601.8 L1800.3,598.1 L1802.5,593.7 L1804.7,590.2 L1806.9,586.5 L1809.1,583.7 L1811.3,583.2 L1813.5,583.3 L1815.7,580.6 L1817.9,576.1 L1820.1,572.0 L1822.3,572.0 L1824.5,573.4 L1826.7,574.4 L1828.9,572.0 L1831.1,568.1 L1833.3,564.0 L1835.5,562.1 L1837.7,561.0 L1839.9,557.9 L1842.1,556.5 L1844.3,561.1 L1846.5,567.3 L1848.7,573.2 L1850.9,576.5 L1853.1,573.8 L1855.3,575.7 L1857.5,581.8 L1859.7,588.6 L1861.9,594.1 L1864.1,597.9 L1866.3,602.5 L1868.5,608.1 L1870.7,612.2 L1872.9,611.8 L1875.1,607.5 L1877.3,602.6 L1879.5,600.2 L1881.7,599.7 L1883.9,600.3 L1886.1,603.0 L1888.3,605.1 L1890.5,605.8 L1892.7,606.3 L1894.9,607.2 L1897.1,608.2 L1899.3,608.7 L1901.5,609.3 L1903.7,610.3 L1905.9,611.6 L1908.1,612.3 L1910.3,611.3 L1912.5,610.3 L1914.7,610.6 L1916.9,611.2 L1919.1,610.8 L1921.3,608.1 L1923.5,604.3 L1925.7,603.4 L1927.9,607.9 L1930.1,613.2 L1932.3,616.3 L1934.5,614.3 L1936.7,610.3 L1938.9,605.8 L1941.1,603.1 L1943.3,604.0 L1945.5,606.1 L1947.7,609.9 L1949.9,612.9 L1952.1,613.7 L1954.3,613.4 L1956.5,610.9 L1958.7,608.0 L1960.9,605.2 L1962.2,603.8" fill="none" stroke="#333" stroke-width="1.7" stroke-linejoin="round"/>
<path d="M1633.1,666.1 L1635.3,667.3 L1637.5,666.9 L1639.7,667.4 L1641.9,669.4 L1644.1,670.8 L1646.3,668.7 L1648.5,665.8 L1650.7,666.8 L1652.9,671.8 L1655.1,676.5 L1657.3,680.9 L1659.5,679.1 L1661.7,674.3 L1663.9,672.4 L1666.1,676.7 L1668.3,679.5 L1670.5,676.0 L1672.7,670.9 L1674.9,666.3 L1677.1,664.1 L1679.3,663.6 L1681.5,663.7 L1683.7,664.8 L1685.9,666.6 L1688.1,669.2 L1690.3,671.6 L1692.5,672.3 L1694.7,669.7 L1696.9,666.3 L1699.1,664.4 L1701.3,664.1 L1703.5,664.4 L1705.7,665.1 L1707.9,664.5 L1710.1,663.3 L1712.3,663.4 L1714.5,666.2 L1716.7,670.9 L1718.9,674.8 L1721.1,676.1 L1723.3,674.6 L1725.5,671.9 L1727.7,667.8 L1729.9,665.6 L1732.1,667.5 L1734.3,669.8 L1736.5,669.3 L1738.7,668.6 L1740.9,673.0 L1743.1,673.7 L1745.3,670.7 L1747.5,671.1 L1749.7,671.8 L1751.9,673.5 L1754.1,674.6 L1756.3,670.1 L1758.5,661.4 L1760.7,652.3 L1762.9,649.5 L1765.1,655.4 L1767.3,661.5 L1769.5,666.8 L1771.7,672.2 L1773.9,671.9 L1776.1,668.6 L1778.3,665.3 L1780.5,661.6 L1782.7,658.9 L1784.9,661.7 L1787.1,668.3 L1789.3,674.6 L1791.5,678.5 L1793.7,674.5 L1795.9,667.6 L1798.1,660.7 L1800.3,652.8 L1802.5,646.4 L1804.7,647.3 L1806.9,651.8 L1809.1,656.5 L1811.3,658.9 L1813.5,655.2 L1815.7,656.3 L1817.9,658.5 L1820.1,659.4 L1822.3,658.7 L1824.5,657.1 L1826.7,649.9 L1828.9,639.4 L1831.1,632.8 L1833.3,635.6 L1835.5,639.5 L1837.7,644.4 L1839.9,647.9 L1842.1,645.2 L1844.3,641.6 L1846.5,640.3 L1848.7,639.6 L1850.9,640.3 L1853.1,643.9 L1855.3,648.7 L1857.5,653.7 L1859.7,658.3 L1861.9,661.8 L1864.1,660.4 L1866.3,656.4 L1868.5,653.1 L1870.7,652.9 L1872.9,653.6 L1875.1,655.4 L1877.3,662.0 L1879.5,670.3 L1881.7,676.5 L1883.9,674.0 L1886.1,666.7 L1888.3,661.1 L1890.5,662.9 L1892.7,670.7 L1894.9,679.0 L1897.1,684.7 L1899.3,683.0 L1901.5,678.7 L1903.7,674.4 L1905.9,670.6 L1908.1,668.6 L1910.3,670.6 L1912.5,674.2 L1914.7,675.8 L1916.9,674.0 L1919.1,672.1 L1921.3,670.2 L1923.5,668.0 L1925.7,666.8 L1927.9,665.9 L1930.1,665.6 L1932.3,668.9 L1934.5,673.6 L1936.7,674.9 L1938.9,670.9 L1941.1,665.8 L1943.3,662.6 L1945.5,666.7 L1947.7,672.1 L1949.9,675.8 L1952.1,677.1 L1954.3,677.4 L1956.5,677.8 L1958.7,678.2 L1960.9,677.0 L1962.2,675.1" fill="none" stroke="#333" stroke-width="1.7" stroke-linejoin="round"/>
<text class="serif" transform="translate(1633.1,795.8) scale(1,1.020)" x="0" y="0" font-size="32.5" fill="#000" text-anchor="middle">295</text>
<text class="serif" transform="translate(1743.0,795.8) scale(1,1.020)" x="0" y="0" font-size="32.5" fill="#000" text-anchor="middle">290</text>
<text class="serif" transform="translate(1852.8,795.8) scale(1,1.020)" x="0" y="0" font-size="32.5" fill="#000" text-anchor="middle">285</text>
<text class="serif" transform="translate(1962.2,795.8) scale(1,1.020)" x="0" y="0" font-size="32.5" fill="#000" text-anchor="middle">280</text>
<text class="sans" transform="translate(1649.5,200.0) scale(1,1.04)" x="0" y="0" font-size="32.5" fill="#000">10.75<tspan font-size="30" dx="1.2" dy="-4.8">°</tspan></text>
<text class="sans" transform="translate(1649.5,258.9) scale(1,1.04)" x="0" y="0" font-size="32.5" fill="#000">18.25<tspan font-size="30" dx="1.2" dy="-4.8">°</tspan></text>
<text class="sans" transform="translate(1649.5,324.4) scale(1,1.04)" x="0" y="0" font-size="32.5" fill="#000">25.75<tspan font-size="30" dx="1.2" dy="-4.8">°</tspan></text>
<text class="sans" transform="translate(1649.5,392.2) scale(1,1.04)" x="0" y="0" font-size="32.5" fill="#000">33.25<tspan font-size="30" dx="1.2" dy="-4.8">°</tspan></text>
<text class="sans" transform="translate(1649.5,456.3) scale(1,1.04)" x="0" y="0" font-size="32.5" fill="#000">40.75<tspan font-size="30" dx="1.2" dy="-4.8">°</tspan></text>
<text class="sans" transform="translate(1649.5,515.3) scale(1,1.04)" x="0" y="0" font-size="32.5" fill="#000">48.25<tspan font-size="30" dx="1.2" dy="-4.8">°</tspan></text>
<text class="sans" transform="translate(1649.5,580.8) scale(1,1.04)" x="0" y="0" font-size="32.5" fill="#000">55.75<tspan font-size="30" dx="1.2" dy="-4.8">°</tspan></text>
<text class="sans" transform="translate(1649.5,645.1) scale(1,1.04)" x="0" y="0" font-size="32.5" fill="#000">63.25<tspan font-size="30" dx="1.2" dy="-4.8">°</tspan></text>
<rect x="161.7" y="1104.5" width="322.3" height="597.9" fill="none" stroke="#1e1e1e" stroke-width="1.5"/>
<line x1="207.8" y1="1702.4" x2="207.8" y2="1692.6" stroke="#222" stroke-width="1.5"/>
<line x1="277.0" y1="1702.4" x2="277.0" y2="1695.4" stroke="#222" stroke-width="1.5"/>
<line x1="346.0" y1="1702.4" x2="346.0" y2="1692.6" stroke="#222" stroke-width="1.5"/>
<line x1="415.0" y1="1702.4" x2="415.0" y2="1695.4" stroke="#222" stroke-width="1.5"/>
<path d="M161.7,1247.7 C165.9,1247.8 177.9,1248.5 187.1,1248.5 C196.4,1248.5 206.7,1248.4 217.1,1247.7 C227.5,1247.0 239.9,1245.3 249.5,1244.2 C259.1,1243.1 267.8,1242.0 274.5,1241.0 C281.1,1239.9 283.2,1238.9 289.4,1238.0 C295.7,1237.1 306.1,1235.8 311.9,1235.5 C317.7,1235.1 318.1,1235.4 324.4,1236.0 C330.6,1236.5 341.0,1237.6 349.3,1238.7 C357.6,1239.8 366.8,1241.6 374.3,1242.7 C381.7,1243.8 385.9,1244.5 394.2,1245.2 C402.5,1246.0 415.0,1246.8 424.2,1247.2 C433.3,1247.6 439.1,1247.5 449.1,1247.7 C459.1,1247.9 478.2,1248.1 484.0,1248.2" fill="none" stroke="#333" stroke-width="1.7" stroke-linejoin="round"/>
<path d="M161.7,1295.4 C168.0,1295.2 187.0,1295.2 199.6,1294.6 C212.2,1294.1 226.6,1293.4 237.0,1292.1 C247.4,1290.8 253.7,1289.0 262.0,1286.6 C270.3,1284.3 278.6,1280.1 286.9,1277.9 C295.2,1275.7 305.6,1274.3 311.9,1273.7 C318.1,1273.0 318.9,1273.5 324.4,1274.2 C329.8,1274.8 338.1,1276.0 344.3,1277.6 C350.5,1279.3 356.8,1282.8 361.8,1284.1 C366.8,1285.5 368.0,1284.8 374.3,1285.9 C380.5,1287.0 390.9,1289.5 399.2,1290.9 C407.5,1292.2 415.8,1293.4 424.2,1294.1 C432.5,1294.8 439.1,1294.9 449.1,1295.1 C459.1,1295.3 478.2,1295.3 484.0,1295.4" fill="none" stroke="#333" stroke-width="1.7" stroke-linejoin="round"/>
<path d="M161.7,1342.8 C168.0,1342.7 187.0,1343.1 199.6,1342.5 C212.2,1342.0 226.6,1341.3 237.0,1339.5 C247.4,1337.8 255.7,1334.7 262.0,1332.0 C268.2,1329.3 269.9,1326.3 274.5,1323.3 C279.0,1320.3 282.4,1316.7 289.4,1314.1 C296.5,1311.5 311.0,1308.7 316.9,1307.8 C322.7,1307.0 320.2,1308.6 324.4,1309.1 C328.5,1309.6 336.8,1309.7 341.8,1310.8 C346.8,1312.0 349.7,1313.7 354.3,1315.8 C358.9,1317.9 364.7,1321.4 369.3,1323.3 C373.8,1325.2 376.7,1325.0 381.7,1327.0 C386.7,1329.1 392.1,1333.4 399.2,1335.8 C406.3,1338.2 415.8,1340.4 424.2,1341.5 C432.5,1342.6 439.1,1342.3 449.1,1342.5 C459.1,1342.7 478.2,1342.7 484.0,1342.8" fill="none" stroke="#333" stroke-width="1.7" stroke-linejoin="round"/>
<path d="M161.7,1391.4 C170.1,1391.3 199.5,1391.4 212.1,1390.7 C224.6,1389.9 228.7,1389.0 237.0,1386.9 C245.3,1384.8 253.7,1381.9 262.0,1378.2 C270.3,1374.5 278.6,1368.3 286.9,1365.0 C295.2,1361.6 304.8,1359.8 311.9,1358.2 C318.9,1356.7 323.1,1355.7 329.3,1355.7 C335.6,1355.7 343.9,1357.0 349.3,1358.2 C354.7,1359.5 357.6,1361.1 361.8,1363.2 C365.9,1365.3 369.7,1368.0 374.3,1370.7 C378.8,1373.4 385.1,1377.2 389.2,1379.4 C393.4,1381.7 393.4,1383.0 399.2,1384.4 C405.0,1385.9 415.8,1387.3 424.2,1388.2 C432.5,1389.0 439.1,1389.0 449.1,1389.4 C459.1,1389.8 478.2,1390.5 484.0,1390.7" fill="none" stroke="#333" stroke-width="1.7" stroke-linejoin="round"/>
<path d="M161.7,1462.3 C165.9,1462.4 178.7,1462.8 187.1,1462.8 C195.5,1462.8 203.8,1463.7 212.1,1462.3 C220.4,1461.0 228.7,1458.0 237.0,1454.9 C245.3,1451.7 255.7,1447.2 262.0,1443.6 C268.2,1440.1 269.5,1438.6 274.5,1433.6 C279.4,1428.7 285.7,1419.3 291.9,1413.7 C298.2,1408.1 305.6,1403.1 311.9,1400.0 C318.1,1396.8 324.4,1396.7 329.3,1395.0 C334.3,1393.2 338.1,1390.5 341.8,1389.5 C345.6,1388.4 348.1,1387.8 351.8,1388.7 C355.5,1389.6 360.5,1391.4 364.3,1395.0 C368.0,1398.5 371.3,1405.0 374.3,1409.9 C377.2,1414.9 377.6,1419.9 381.7,1424.9 C385.9,1429.9 394.2,1435.3 399.2,1439.9 C404.2,1444.5 405.4,1449.1 411.7,1452.4 C417.9,1455.6 428.3,1457.9 436.6,1459.3 C444.9,1460.8 453.7,1460.7 461.6,1461.1 C469.5,1461.5 480.3,1461.5 484.0,1461.6" fill="none" stroke="#333" stroke-width="1.7" stroke-linejoin="round"/>
<path d="M161.7,1534.7 C164.7,1534.9 171.7,1536.0 179.6,1535.9 C187.6,1535.9 202.1,1535.2 209.6,1534.2 C217.1,1533.2 219.1,1530.9 224.6,1529.7 C230.0,1528.5 235.8,1530.0 242.0,1526.7 C248.3,1523.4 256.6,1514.6 262.0,1509.7 C267.4,1504.8 269.5,1503.5 274.5,1497.3 C279.4,1491.0 285.7,1479.6 291.9,1472.3 C298.2,1465.0 305.6,1458.4 311.9,1453.6 C318.1,1448.8 324.4,1447.2 329.3,1443.6 C334.3,1440.1 338.5,1434.5 341.8,1432.4 C345.1,1430.3 345.6,1429.5 349.3,1431.1 C353.0,1432.8 360.1,1438.0 364.3,1442.4 C368.4,1446.7 370.5,1450.3 374.3,1457.3 C378.0,1464.4 382.6,1476.5 386.7,1484.8 C390.9,1493.1 393.8,1500.6 399.2,1507.2 C404.6,1513.9 412.9,1521.1 419.2,1524.7 C425.4,1528.4 429.6,1528.0 436.6,1529.2 C443.7,1530.4 453.7,1531.4 461.6,1532.2 C469.5,1533.0 480.3,1533.9 484.0,1534.2" fill="none" stroke="#333" stroke-width="1.7" stroke-linejoin="round"/>
<path d="M161.7,1606.5 C168.0,1606.7 189.1,1607.9 199.6,1607.5 C210.1,1607.2 216.7,1606.1 224.6,1604.6 C232.5,1603.0 238.7,1602.3 247.0,1598.3 C255.3,1594.4 267.0,1586.9 274.5,1580.8 C281.9,1574.8 286.5,1567.3 291.9,1562.1 C297.3,1556.9 301.5,1555.1 306.9,1549.7 C312.3,1544.3 318.9,1535.5 324.4,1529.7 C329.8,1523.9 335.2,1519.1 339.3,1514.7 C343.5,1510.4 346.0,1505.4 349.3,1503.5 C352.6,1501.6 356.0,1501.0 359.3,1503.5 C362.6,1506.0 365.9,1512.4 369.3,1518.5 C372.6,1524.5 375.5,1532.0 379.2,1539.7 C383.0,1547.4 387.1,1557.1 391.7,1564.6 C396.3,1572.1 401.3,1579.0 406.7,1584.6 C412.1,1590.2 417.1,1595.2 424.2,1598.3 C431.2,1601.4 439.1,1602.1 449.1,1603.3 C459.1,1604.6 478.2,1605.4 484.0,1605.8" fill="none" stroke="#333" stroke-width="1.7" stroke-linejoin="round"/>
<path d="M161.7,1678.2 C167.2,1678.4 185.0,1679.9 194.6,1679.4 C204.3,1678.9 211.2,1676.2 219.6,1674.9 C227.9,1673.7 235.4,1674.5 244.5,1671.9 C253.7,1669.3 267.4,1663.2 274.5,1659.4 C281.5,1655.7 282.8,1654.0 286.9,1649.5 C291.1,1644.9 294.8,1637.4 299.4,1632.0 C304.0,1626.6 309.4,1622.2 314.4,1617.0 C319.4,1611.8 323.5,1605.8 329.3,1600.8 C335.2,1595.8 344.1,1590.3 349.3,1587.1 C354.5,1583.9 356.8,1581.6 360.5,1581.6 C364.3,1581.6 368.2,1583.1 371.8,1587.1 C375.3,1591.1 377.2,1597.9 381.7,1605.8 C386.3,1613.7 394.2,1626.4 399.2,1634.5 C404.2,1642.6 407.5,1648.6 411.7,1654.5 C415.8,1660.3 419.6,1666.1 424.2,1669.4 C428.7,1672.7 432.9,1673.5 439.1,1674.4 C445.4,1675.4 454.1,1674.7 461.6,1675.2 C469.1,1675.7 480.3,1677.0 484.0,1677.4" fill="none" stroke="#333" stroke-width="1.7" stroke-linejoin="round"/>
<text class="serif" transform="translate(207.8,1753.3) scale(1,1.020)" x="0" y="0" font-size="32.5" fill="#000" text-anchor="middle">448</text>
<text class="serif" transform="translate(346.0,1753.3) scale(1,1.020)" x="0" y="0" font-size="32.5" fill="#000" text-anchor="middle">445</text>
<text class="serif" transform="translate(484.0,1753.3) scale(1,1.020)" x="0" y="0" font-size="32.5" fill="#000" text-anchor="middle">442</text>
<text class="sans" transform="translate(179.0,1224.0) scale(1,1.04)" x="0" y="0" font-size="32.5" fill="#000">10.75<tspan font-size="30" dx="1.2" dy="-4.8">°</tspan></text>
<text class="sans" transform="translate(179.0,1280.9) scale(1,1.04)" x="0" y="0" font-size="32.5" fill="#000">18.25<tspan font-size="30" dx="1.2" dy="-4.8">°</tspan></text>
<text class="sans" transform="translate(179.0,1328.3) scale(1,1.04)" x="0" y="0" font-size="32.5" fill="#000">25.75<tspan font-size="30" dx="1.2" dy="-4.8">°</tspan></text>
<text class="sans" transform="translate(179.0,1373.2) scale(1,1.04)" x="0" y="0" font-size="32.5" fill="#000">33.25<tspan font-size="30" dx="1.2" dy="-4.8">°</tspan></text>
<text class="sans" transform="translate(179.0,1436.9) scale(1,1.04)" x="0" y="0" font-size="32.5" fill="#000">40.75<tspan font-size="30" dx="1.2" dy="-4.8">°</tspan></text>
<text class="sans" transform="translate(179.0,1501.5) scale(1,1.04)" x="0" y="0" font-size="32.5" fill="#000">48.25<tspan font-size="30" dx="1.2" dy="-4.8">°</tspan></text>
<text class="sans" transform="translate(179.0,1585.1) scale(1,1.04)" x="0" y="0" font-size="32.5" fill="#000">55.75<tspan font-size="30" dx="1.2" dy="-4.8">°</tspan></text>
<text class="sans" transform="translate(179.0,1650.0) scale(1,1.04)" x="0" y="0" font-size="32.5" fill="#000">63.25<tspan font-size="30" dx="1.2" dy="-4.8">°</tspan></text>
<rect x="651.1" y="1104.7" width="337.7" height="598.2" fill="none" stroke="#1e1e1e" stroke-width="1.5"/>
<line x1="735.7" y1="1702.9" x2="735.7" y2="1695.9" stroke="#222" stroke-width="1.5"/>
<line x1="820.0" y1="1702.9" x2="820.0" y2="1693.1" stroke="#222" stroke-width="1.5"/>
<line x1="904.4" y1="1702.9" x2="904.4" y2="1695.9" stroke="#222" stroke-width="1.5"/>
<path d="M651.1,1223.8 L653.3,1223.5 L655.5,1222.2 L657.7,1221.1 L659.9,1220.7 L662.1,1220.2 L664.3,1220.3 L666.5,1221.6 L668.7,1222.9 L670.9,1223.1 L673.1,1222.3 L675.3,1221.4 L677.5,1221.3 L679.7,1221.7 L681.9,1221.0 L684.1,1220.0 L686.3,1219.5 L688.5,1218.5 L690.7,1218.6 L692.9,1218.9 L695.1,1218.0 L697.3,1218.1 L699.5,1218.6 L701.7,1217.8 L703.9,1218.3 L706.1,1220.2 L708.3,1219.9 L710.5,1218.1 L712.7,1217.0 L714.9,1216.6 L717.1,1217.0 L719.3,1217.9 L721.5,1218.3 L723.7,1217.5 L725.9,1216.4 L728.1,1216.9 L730.3,1218.1 L732.5,1217.5 L734.7,1216.2 L736.9,1215.5 L739.1,1214.5 L741.3,1212.2 L743.5,1209.6 L745.7,1207.3 L747.9,1207.6 L750.1,1208.8 L752.3,1208.5 L754.5,1207.4 L756.7,1207.4 L758.9,1207.7 L761.1,1207.5 L763.3,1206.6 L765.5,1205.2 L767.7,1206.9 L769.9,1208.3 L772.1,1209.5 L774.3,1212.0 L776.5,1214.7 L778.7,1215.8 L780.9,1216.2 L783.1,1214.8 L785.3,1215.2 L787.5,1216.4 L789.7,1215.4 L791.9,1211.3 L794.1,1207.5 L796.3,1205.1 L798.5,1204.0 L800.7,1205.2 L802.9,1207.4 L805.1,1209.5 L807.3,1210.2 L809.5,1209.8 L811.7,1210.7 L813.9,1212.3 L816.1,1214.0 L818.3,1215.7 L820.5,1217.5 L822.7,1220.0 L824.9,1221.9 L827.1,1222.2 L829.3,1221.0 L831.5,1220.0 L833.7,1219.0 L835.9,1218.9 L838.1,1219.7 L840.3,1221.2 L842.5,1222.1 L844.7,1221.9 L846.9,1220.9 L849.1,1218.9 L851.3,1217.9 L853.5,1217.7 L855.7,1216.8 L857.9,1216.4 L860.1,1217.7 L862.3,1218.4 L864.5,1218.0 L866.7,1218.6 L868.9,1219.6 L871.1,1219.5 L873.3,1218.7 L875.5,1218.6 L877.7,1218.5 L879.9,1217.7 L882.1,1217.8 L884.3,1218.0 L886.5,1216.7 L888.7,1216.1 L890.9,1217.9 L893.1,1219.4 L895.3,1219.4 L897.5,1219.3 L899.7,1219.1 L901.9,1217.6 L904.1,1214.4 L906.3,1211.1 L908.5,1208.4 L910.7,1209.7 L912.9,1213.3 L915.1,1215.7 L917.3,1217.1 L919.5,1216.1 L921.7,1214.2 L923.9,1212.3 L926.1,1212.0 L928.3,1213.4 L930.5,1215.4 L932.7,1215.2 L934.9,1213.8 L937.1,1213.4 L939.3,1214.0 L941.5,1215.6 L943.7,1217.7 L945.9,1219.6 L948.1,1221.0 L950.3,1221.1 L952.5,1220.0 L954.7,1218.9 L956.9,1218.5 L959.1,1218.5 L961.3,1218.0 L963.5,1217.0 L965.7,1217.1 L967.9,1217.7 L970.1,1217.3 L972.3,1217.1 L974.5,1217.0 L976.7,1217.3 L978.9,1218.1 L981.1,1218.1 L983.3,1218.5 L985.5,1219.0 L987.7,1219.0 L988.8,1219.3" fill="none" stroke="#333" stroke-width="1.7" stroke-linejoin="round"/>
<path d="M651.1,1286.7 L653.3,1286.3 L655.5,1284.1 L657.7,1282.4 L659.9,1281.8 L662.1,1282.6 L664.3,1282.5 L666.5,1281.3 L668.7,1281.0 L670.9,1281.8 L673.1,1283.3 L675.3,1285.3 L677.5,1286.4 L679.7,1285.1 L681.9,1282.3 L684.1,1279.4 L686.3,1277.0 L688.5,1276.9 L690.7,1282.3 L692.9,1285.3 L695.1,1285.6 L697.3,1286.2 L699.5,1286.5 L701.7,1285.7 L703.9,1284.5 L706.1,1283.3 L708.3,1283.2 L710.5,1284.3 L712.7,1284.9 L714.9,1284.2 L717.1,1283.8 L719.3,1284.0 L721.5,1282.5 L723.7,1280.2 L725.9,1278.4 L728.1,1278.6 L730.3,1279.5 L732.5,1280.1 L734.7,1279.9 L736.9,1279.7 L739.1,1278.7 L741.3,1276.3 L743.5,1273.7 L745.7,1271.8 L747.9,1272.6 L750.1,1275.1 L752.3,1276.4 L754.5,1275.5 L756.7,1275.0 L758.9,1273.4 L761.1,1271.3 L763.3,1270.9 L765.5,1272.3 L767.7,1273.9 L769.9,1268.4 L772.1,1264.0 L774.3,1262.7 L776.5,1261.6 L778.7,1260.0 L780.9,1259.6 L783.1,1260.0 L785.3,1261.1 L787.5,1263.8 L789.7,1266.6 L791.9,1269.1 L794.1,1270.7 L796.3,1269.7 L798.5,1268.0 L800.7,1266.3 L802.9,1264.8 L805.1,1264.0 L807.3,1264.4 L809.5,1265.3 L811.7,1266.7 L813.9,1269.3 L816.1,1273.0 L818.3,1276.5 L820.5,1277.2 L822.7,1276.5 L824.9,1276.6 L827.1,1276.5 L829.3,1278.1 L831.5,1281.1 L833.7,1282.8 L835.9,1284.5 L838.1,1283.8 L840.3,1281.6 L842.5,1279.7 L844.7,1279.8 L846.9,1280.4 L849.1,1280.8 L851.3,1281.3 L853.5,1282.5 L855.7,1283.4 L857.9,1283.1 L860.1,1282.8 L862.3,1282.7 L864.5,1282.5 L866.7,1282.3 L868.9,1281.6 L871.1,1280.6 L873.3,1279.6 L875.5,1278.9 L877.7,1278.9 L879.9,1278.7 L882.1,1276.7 L884.3,1274.4 L886.5,1275.3 L888.7,1277.0 L890.9,1277.7 L893.1,1278.0 L895.3,1277.5 L897.5,1276.0 L899.7,1274.2 L901.9,1273.9 L904.1,1275.0 L906.3,1275.3 L908.5,1275.8 L910.7,1277.1 L912.9,1278.1 L915.1,1278.7 L917.3,1279.2 L919.5,1278.9 L921.7,1277.8 L923.9,1276.8 L926.1,1274.3 L928.3,1271.0 L930.5,1268.4 L932.7,1270.5 L934.9,1275.9 L937.1,1281.4 L939.3,1284.1 L941.5,1284.6 L943.7,1285.1 L945.9,1285.1 L948.1,1284.0 L950.3,1284.0 L952.5,1284.8 L954.7,1284.1 L956.9,1281.4 L959.1,1279.8 L961.3,1281.7 L963.5,1284.6 L965.7,1286.4 L967.9,1285.9 L970.1,1283.7 L972.3,1281.9 L974.5,1281.0 L976.7,1282.1 L978.9,1283.8 L981.1,1285.7 L983.3,1285.7 L985.5,1284.5 L987.7,1283.6 L988.8,1283.6" fill="none" stroke="#333" stroke-width="1.7" stroke-linejoin="round"/>
<path d="M651.1,1352.3 L653.3,1347.8 L655.5,1343.8 L657.7,1340.5 L659.9,1338.6 L662.1,1340.4 L664.3,1343.6 L666.5,1346.6 L668.7,1348.1 L670.9,1345.6 L673.1,1342.1 L675.3,1339.7 L677.5,1339.5 L679.7,1340.4 L681.9,1342.5 L684.1,1345.3 L686.3,1345.2 L688.5,1342.6 L690.7,1340.6 L692.9,1339.9 L695.1,1342.4 L697.3,1346.0 L699.5,1348.4 L701.7,1350.2 L703.9,1352.6 L706.1,1354.1 L708.3,1352.1 L710.5,1348.2 L712.7,1345.3 L714.9,1343.1 L717.1,1341.5 L719.3,1340.7 L721.5,1340.0 L723.7,1340.1 L725.9,1341.5 L728.1,1343.5 L730.3,1343.7 L732.5,1344.0 L734.7,1345.6 L736.9,1345.2 L739.1,1344.1 L741.3,1342.7 L743.5,1339.0 L745.7,1334.1 L747.9,1328.4 L750.1,1323.5 L752.3,1325.0 L754.5,1328.3 L756.7,1328.9 L758.9,1328.4 L761.1,1327.4 L763.3,1326.0 L765.5,1324.8 L767.7,1323.8 L769.9,1322.1 L772.1,1320.0 L774.3,1318.2 L776.5,1316.7 L778.7,1315.5 L780.9,1314.4 L783.1,1313.4 L785.3,1314.2 L787.5,1317.0 L789.7,1318.3 L791.9,1317.1 L794.1,1315.8 L796.3,1315.9 L798.5,1320.1 L800.7,1325.4 L802.9,1329.5 L805.1,1332.9 L807.3,1334.9 L809.5,1335.2 L811.7,1335.5 L813.9,1337.3 L816.1,1338.8 L818.3,1337.5 L820.5,1333.9 L822.7,1329.2 L824.9,1328.4 L827.1,1330.1 L829.3,1331.3 L831.5,1334.6 L833.7,1338.7 L835.9,1339.7 L838.1,1339.4 L840.3,1340.2 L842.5,1341.8 L844.7,1342.5 L846.9,1342.5 L849.1,1344.0 L851.3,1347.6 L853.5,1351.2 L855.7,1353.5 L857.9,1351.8 L860.1,1349.1 L862.3,1347.2 L864.5,1344.9 L866.7,1341.9 L868.9,1340.6 L871.1,1340.1 L873.3,1340.3 L875.5,1341.0 L877.7,1340.7 L879.9,1339.3 L882.1,1338.0 L884.3,1337.2 L886.5,1335.5 L888.7,1332.9 L890.9,1329.6 L893.1,1327.7 L895.3,1328.6 L897.5,1329.1 L899.7,1330.0 L901.9,1330.9 L904.1,1331.5 L906.3,1332.5 L908.5,1333.5 L910.7,1334.1 L912.9,1332.8 L915.1,1330.4 L917.3,1327.8 L919.5,1325.2 L921.7,1324.8 L923.9,1325.9 L926.1,1326.8 L928.3,1327.5 L930.5,1328.2 L932.7,1328.9 L934.9,1329.9 L937.1,1332.8 L939.3,1335.8 L941.5,1339.0 L943.7,1340.4 L945.9,1340.0 L948.1,1338.6 L950.3,1338.0 L952.5,1339.7 L954.7,1342.4 L956.9,1343.1 L959.1,1342.4 L961.3,1342.5 L963.5,1343.6 L965.7,1346.4 L967.9,1349.7 L970.1,1351.9 L972.3,1350.2 L974.5,1346.1 L976.7,1342.5 L978.9,1341.3 L981.1,1341.5 L983.3,1341.6 L985.5,1340.5 L987.7,1339.6 L988.8,1338.8" fill="none" stroke="#333" stroke-width="1.7" stroke-linejoin="round"/>
<path d="M651.1,1408.4 L653.3,1408.6 L655.5,1409.0 L657.7,1409.2 L659.9,1411.0 L662.1,1412.5 L664.3,1412.5 L666.5,1411.3 L668.7,1408.8 L670.9,1407.1 L673.1,1405.6 L675.3,1404.3 L677.5,1405.7 L679.7,1408.2 L681.9,1408.9 L684.1,1410.1 L686.3,1412.5 L688.5,1413.6 L690.7,1413.2 L692.9,1413.3 L695.1,1413.8 L697.3,1413.1 L699.5,1411.0 L701.7,1409.2 L703.9,1408.9 L706.1,1409.6 L708.3,1410.8 L710.5,1411.0 L712.7,1409.9 L714.9,1409.0 L717.1,1408.4 L719.3,1407.5 L721.5,1406.5 L723.7,1405.9 L725.9,1406.8 L728.1,1406.7 L730.3,1405.5 L732.5,1405.0 L734.7,1404.3 L736.9,1403.1 L739.1,1404.0 L741.3,1404.8 L743.5,1403.8 L745.7,1402.4 L747.9,1401.0 L750.1,1399.6 L752.3,1397.6 L754.5,1395.2 L756.7,1393.7 L758.9,1392.7 L761.1,1391.6 L763.3,1392.1 L765.5,1393.3 L767.7,1393.0 L769.9,1391.2 L772.1,1389.0 L774.3,1385.4 L776.5,1382.0 L778.7,1380.0 L780.9,1377.2 L783.1,1376.6 L785.3,1379.2 L787.5,1382.6 L789.7,1385.7 L791.9,1388.5 L794.1,1391.0 L796.3,1392.1 L798.5,1391.9 L800.7,1390.9 L802.9,1390.0 L805.1,1393.5 L807.3,1398.4 L809.5,1401.8 L811.7,1403.1 L813.9,1403.1 L816.1,1402.0 L818.3,1400.1 L820.5,1399.5 L822.7,1400.2 L824.9,1401.0 L827.1,1402.2 L829.3,1403.7 L831.5,1405.1 L833.7,1406.7 L835.9,1407.9 L838.1,1407.9 L840.3,1405.6 L842.5,1404.1 L844.7,1405.5 L846.9,1407.3 L849.1,1408.4 L851.3,1410.0 L853.5,1412.6 L855.7,1413.2 L857.9,1412.3 L860.1,1412.0 L862.3,1410.5 L864.5,1407.5 L866.7,1406.3 L868.9,1406.4 L871.1,1406.0 L873.3,1405.2 L875.5,1404.1 L877.7,1402.7 L879.9,1401.1 L882.1,1399.8 L884.3,1398.3 L886.5,1398.3 L888.7,1399.2 L890.9,1397.0 L893.1,1392.2 L895.3,1387.3 L897.5,1383.3 L899.7,1379.5 L901.9,1377.7 L904.1,1378.0 L906.3,1377.9 L908.5,1377.9 L910.7,1377.6 L912.9,1377.3 L915.1,1378.8 L917.3,1380.2 L919.5,1382.2 L921.7,1384.6 L923.9,1386.3 L926.1,1388.2 L928.3,1391.0 L930.5,1394.8 L932.7,1398.3 L934.9,1401.1 L937.1,1402.6 L939.3,1403.0 L941.5,1403.0 L943.7,1405.5 L945.9,1408.8 L948.1,1410.6 L950.3,1409.9 L952.5,1407.9 L954.7,1406.8 L956.9,1407.1 L959.1,1408.2 L961.3,1408.8 L963.5,1407.6 L965.7,1404.7 L967.9,1403.3 L970.1,1405.6 L972.3,1408.2 L974.5,1409.8 L976.7,1409.1 L978.9,1407.3 L981.1,1406.0 L983.3,1405.0 L985.5,1404.3 L987.7,1405.4 L988.8,1407.5" fill="none" stroke="#333" stroke-width="1.7" stroke-linejoin="round"/>
<path d="M651.1,1473.9 L653.3,1473.9 L655.5,1472.9 L657.7,1471.9 L659.9,1470.5 L662.1,1469.2 L664.3,1468.8 L666.5,1468.1 L668.7,1467.2 L670.9,1467.0 L673.1,1466.8 L675.3,1467.2 L677.5,1467.8 L679.7,1468.7 L681.9,1471.4 L684.1,1473.2 L686.3,1471.6 L688.5,1468.6 L690.7,1467.4 L692.9,1469.6 L695.1,1473.0 L697.3,1477.2 L699.5,1479.4 L701.7,1474.3 L703.9,1467.0 L706.1,1461.0 L708.3,1459.9 L710.5,1463.0 L712.7,1466.4 L714.9,1469.7 L717.1,1472.2 L719.3,1471.6 L721.5,1468.5 L723.7,1463.6 L725.9,1463.4 L728.1,1466.4 L730.3,1466.7 L732.5,1465.3 L734.7,1464.6 L736.9,1463.9 L739.1,1463.2 L741.3,1463.6 L743.5,1465.1 L745.7,1466.5 L747.9,1465.7 L750.1,1463.3 L752.3,1460.7 L754.5,1458.2 L756.7,1453.8 L758.9,1447.3 L761.1,1440.3 L763.3,1437.5 L765.5,1438.6 L767.7,1439.9 L769.9,1440.8 L772.1,1440.8 L774.3,1438.8 L776.5,1436.2 L778.7,1434.1 L780.9,1432.3 L783.1,1429.5 L785.3,1426.8 L787.5,1424.7 L789.7,1423.0 L791.9,1422.2 L794.1,1423.5 L796.3,1428.3 L798.5,1433.9 L800.7,1438.6 L802.9,1440.8 L805.1,1441.3 L807.3,1441.1 L809.5,1441.6 L811.7,1444.9 L813.9,1449.8 L816.1,1454.4 L818.3,1457.2 L820.5,1458.4 L822.7,1459.0 L824.9,1458.8 L827.1,1459.9 L829.3,1463.6 L831.5,1468.0 L833.7,1472.3 L835.9,1475.7 L838.1,1477.4 L840.3,1475.2 L842.5,1471.4 L844.7,1468.5 L846.9,1468.6 L849.1,1470.0 L851.3,1472.8 L853.5,1475.3 L855.7,1474.2 L857.9,1471.0 L860.1,1467.9 L862.3,1464.7 L864.5,1461.8 L866.7,1461.5 L868.9,1462.6 L871.1,1462.4 L873.3,1460.6 L875.5,1457.6 L877.7,1454.9 L879.9,1453.2 L882.1,1452.6 L884.3,1450.2 L886.5,1440.2 L888.7,1428.3 L890.9,1418.6 L893.1,1419.1 L895.3,1421.5 L897.5,1421.0 L899.7,1419.6 L901.9,1412.9 L904.1,1401.9 L906.3,1398.3 L908.5,1399.7 L910.7,1398.6 L912.9,1396.5 L915.1,1396.1 L917.3,1397.6 L919.5,1399.5 L921.7,1403.5 L923.9,1413.2 L926.1,1424.2 L928.3,1435.7 L930.5,1447.3 L932.7,1451.3 L934.9,1450.3 L937.1,1449.6 L939.3,1450.6 L941.5,1453.6 L943.7,1458.3 L945.9,1462.7 L948.1,1466.3 L950.3,1467.5 L952.5,1465.0 L954.7,1461.7 L956.9,1460.0 L959.1,1459.2 L961.3,1458.9 L963.5,1460.5 L965.7,1464.4 L967.9,1469.0 L970.1,1474.0 L972.3,1479.3 L974.5,1482.4 L976.7,1479.0 L978.9,1473.2 L981.1,1467.7 L983.3,1465.0 L985.5,1462.1 L987.7,1458.9 L988.8,1457.8" fill="none" stroke="#333" stroke-width="1.7" stroke-linejoin="round"/>
<path d="M651.1,1528.7 L653.3,1532.0 L655.5,1534.2 L657.7,1536.5 L659.9,1537.4 L662.1,1534.2 L664.3,1529.8 L666.5,1525.9 L668.7,1525.6 L670.9,1531.5 L673.1,1538.9 L675.3,1543.7 L677.5,1544.1 L679.7,1543.7 L681.9,1543.5 L684.1,1543.4 L686.3,1542.1 L688.5,1540.0 L690.7,1537.1 L692.9,1533.7 L695.1,1530.2 L697.3,1528.1 L699.5,1531.3 L701.7,1536.0 L703.9,1540.5 L706.1,1544.5 L708.3,1545.3 L710.5,1542.6 L712.7,1538.5 L714.9,1534.9 L717.1,1531.8 L719.3,1528.6 L721.5,1530.2 L723.7,1534.9 L725.9,1537.2 L728.1,1535.8 L730.3,1533.6 L732.5,1531.7 L734.7,1530.8 L736.9,1529.5 L739.1,1526.8 L741.3,1523.3 L743.5,1519.1 L745.7,1513.2 L747.9,1506.3 L750.1,1504.2 L752.3,1505.6 L754.5,1506.9 L756.7,1507.6 L758.9,1508.6 L761.1,1507.0 L763.3,1503.8 L765.5,1500.5 L767.7,1496.4 L769.9,1491.9 L772.1,1488.7 L774.3,1487.9 L776.5,1489.2 L778.7,1490.2 L780.9,1489.0 L783.1,1486.4 L785.3,1485.1 L787.5,1486.3 L789.7,1488.4 L791.9,1491.2 L794.1,1490.3 L796.3,1487.7 L798.5,1488.2 L800.7,1490.1 L802.9,1491.8 L805.1,1494.1 L807.3,1496.7 L809.5,1497.8 L811.7,1498.8 L813.9,1500.9 L816.1,1502.9 L818.3,1504.9 L820.5,1508.9 L822.7,1516.1 L824.9,1523.6 L827.1,1530.0 L829.3,1534.9 L831.5,1539.5 L833.7,1544.0 L835.9,1543.3 L838.1,1539.0 L840.3,1535.2 L842.5,1530.0 L844.7,1525.8 L846.9,1525.2 L849.1,1528.2 L851.3,1532.6 L853.5,1537.4 L855.7,1541.2 L857.9,1543.5 L860.1,1544.0 L862.3,1542.8 L864.5,1539.2 L866.7,1534.4 L868.9,1530.2 L871.1,1525.8 L873.3,1521.5 L875.5,1518.8 L877.7,1516.0 L879.9,1512.4 L882.1,1505.1 L884.3,1495.1 L886.5,1486.3 L888.7,1478.5 L890.9,1471.7 L893.1,1466.2 L895.3,1464.8 L897.5,1464.4 L899.7,1464.7 L901.9,1462.9 L904.1,1457.6 L906.3,1452.7 L908.5,1448.6 L910.7,1445.1 L912.9,1442.0 L915.1,1439.1 L917.3,1440.5 L919.5,1446.8 L921.7,1459.6 L923.9,1472.2 L926.1,1483.0 L928.3,1494.1 L930.5,1502.9 L932.7,1507.2 L934.9,1510.4 L937.1,1514.1 L939.3,1517.0 L941.5,1518.9 L943.7,1519.1 L945.9,1517.1 L948.1,1514.2 L950.3,1512.4 L952.5,1512.2 L954.7,1515.6 L956.9,1521.3 L959.1,1527.5 L961.3,1532.0 L963.5,1535.0 L965.7,1532.1 L967.9,1525.5 L970.1,1518.8 L972.3,1514.4 L974.5,1513.6 L976.7,1513.2 L978.9,1513.2 L981.1,1513.2 L983.3,1512.1 L985.5,1510.4 L987.7,1508.8 L988.8,1509.9" fill="none" stroke="#333" stroke-width="1.7" stroke-linejoin="round"/>
<path d="M651.1,1594.3 L653.3,1594.4 L655.5,1594.4 L657.7,1594.2 L659.9,1595.1 L662.1,1597.8 L664.3,1599.9 L666.5,1601.1 L668.7,1602.5 L670.9,1603.6 L673.1,1603.8 L675.3,1602.4 L677.5,1600.1 L679.7,1597.9 L681.9,1597.2 L684.1,1598.4 L686.3,1600.4 L688.5,1602.3 L690.7,1604.3 L692.9,1605.7 L695.1,1603.9 L697.3,1600.9 L699.5,1598.7 L701.7,1597.5 L703.9,1595.6 L706.1,1593.2 L708.3,1592.1 L710.5,1592.2 L712.7,1592.2 L714.9,1594.1 L717.1,1598.0 L719.3,1602.1 L721.5,1603.8 L723.7,1601.6 L725.9,1598.1 L728.1,1594.6 L730.3,1590.8 L732.5,1588.2 L734.7,1589.4 L736.9,1592.5 L739.1,1594.8 L741.3,1596.3 L743.5,1595.7 L745.7,1593.6 L747.9,1591.7 L750.1,1588.6 L752.3,1583.9 L754.5,1579.5 L756.7,1575.6 L758.9,1573.1 L761.1,1575.4 L763.3,1578.9 L765.5,1580.5 L767.7,1576.3 L769.9,1569.6 L772.1,1563.8 L774.3,1558.7 L776.5,1553.3 L778.7,1553.2 L780.9,1555.9 L783.1,1555.4 L785.3,1552.5 L787.5,1554.0 L789.7,1558.6 L791.9,1563.8 L794.1,1568.2 L796.3,1572.5 L798.5,1574.8 L800.7,1574.7 L802.9,1574.3 L805.1,1575.9 L807.3,1577.5 L809.5,1578.8 L811.7,1580.4 L813.9,1582.5 L816.1,1584.0 L818.3,1585.1 L820.5,1587.5 L822.7,1590.7 L824.9,1594.0 L827.1,1596.9 L829.3,1597.8 L831.5,1598.6 L833.7,1600.6 L835.9,1601.7 L838.1,1602.4 L840.3,1604.0 L842.5,1605.3 L844.7,1603.7 L846.9,1601.5 L849.1,1599.9 L851.3,1598.2 L853.5,1599.0 L855.7,1600.4 L857.9,1601.0 L860.1,1602.3 L862.3,1603.2 L864.5,1603.6 L866.7,1604.1 L868.9,1601.7 L871.1,1596.4 L873.3,1593.1 L875.5,1589.8 L877.7,1585.5 L879.9,1581.4 L882.1,1576.9 L884.3,1571.4 L886.5,1565.0 L888.7,1556.4 L890.9,1546.9 L893.1,1537.2 L895.3,1529.0 L897.5,1524.5 L899.7,1523.3 L901.9,1522.4 L904.1,1521.0 L906.3,1517.8 L908.5,1513.5 L910.7,1509.8 L912.9,1508.8 L915.1,1514.6 L917.3,1523.7 L919.5,1533.9 L921.7,1538.9 L923.9,1539.5 L926.1,1539.0 L928.3,1541.0 L930.5,1549.2 L932.7,1561.6 L934.9,1575.3 L937.1,1587.4 L939.3,1592.7 L941.5,1592.3 L943.7,1591.7 L945.9,1592.2 L948.1,1595.0 L950.3,1598.1 L952.5,1599.9 L954.7,1597.0 L956.9,1593.7 L959.1,1594.2 L961.3,1596.9 L963.5,1599.2 L965.7,1599.3 L967.9,1594.5 L970.1,1588.9 L972.3,1585.0 L974.5,1587.5 L976.7,1592.5 L978.9,1596.8 L981.1,1599.7 L983.3,1599.4 L985.5,1597.3 L987.7,1594.8 L988.8,1593.4" fill="none" stroke="#333" stroke-width="1.7" stroke-linejoin="round"/>
<path d="M651.1,1663.7 L653.3,1659.5 L655.5,1655.4 L657.7,1654.4 L659.9,1654.8 L662.1,1655.7 L664.3,1657.2 L666.5,1658.5 L668.7,1657.5 L670.9,1656.6 L673.1,1659.3 L675.3,1663.8 L677.5,1668.5 L679.7,1670.5 L681.9,1668.4 L684.1,1663.3 L686.3,1656.1 L688.5,1649.4 L690.7,1646.8 L692.9,1648.2 L695.1,1651.9 L697.3,1657.3 L699.5,1663.6 L701.7,1669.1 L703.9,1668.7 L706.1,1665.8 L708.3,1662.7 L710.5,1656.1 L712.7,1648.6 L714.9,1647.1 L717.1,1650.6 L719.3,1652.3 L721.5,1649.9 L723.7,1647.1 L725.9,1645.0 L728.1,1647.5 L730.3,1652.2 L732.5,1656.0 L734.7,1656.4 L736.9,1654.9 L739.1,1652.2 L741.3,1649.8 L743.5,1649.0 L745.7,1648.1 L747.9,1647.8 L750.1,1650.3 L752.3,1653.5 L754.5,1656.2 L756.7,1658.5 L758.9,1655.9 L761.1,1647.5 L763.3,1638.0 L765.5,1629.5 L767.7,1623.0 L769.9,1623.6 L772.1,1624.9 L774.3,1624.1 L776.5,1622.3 L778.7,1620.1 L780.9,1617.6 L783.1,1618.0 L785.3,1621.9 L787.5,1625.4 L789.7,1626.1 L791.9,1621.1 L794.1,1616.9 L796.3,1617.5 L798.5,1617.4 L800.7,1616.7 L802.9,1618.7 L805.1,1623.0 L807.3,1628.6 L809.5,1635.7 L811.7,1642.0 L813.9,1643.3 L816.1,1641.6 L818.3,1637.2 L820.5,1632.0 L822.7,1633.5 L824.9,1645.8 L827.1,1657.3 L829.3,1657.8 L831.5,1655.3 L833.7,1651.8 L835.9,1650.8 L838.1,1654.3 L840.3,1658.4 L842.5,1660.3 L844.7,1658.7 L846.9,1657.5 L849.1,1658.5 L851.3,1661.6 L853.5,1664.0 L855.7,1665.5 L857.9,1667.2 L860.1,1667.6 L862.3,1665.8 L864.5,1663.0 L866.7,1660.4 L868.9,1657.2 L871.1,1652.4 L873.3,1645.9 L875.5,1641.5 L877.7,1641.4 L879.9,1642.1 L882.1,1642.9 L884.3,1643.3 L886.5,1645.8 L888.7,1645.1 L890.9,1631.4 L893.1,1616.1 L895.3,1603.3 L897.5,1596.1 L899.7,1590.3 L901.9,1584.8 L904.1,1579.9 L906.3,1575.5 L908.5,1569.7 L910.7,1562.7 L912.9,1565.0 L915.1,1571.1 L917.3,1578.1 L919.5,1584.6 L921.7,1587.4 L923.9,1587.7 L926.1,1588.0 L928.3,1589.4 L930.5,1597.6 L932.7,1603.2 L934.9,1607.0 L937.1,1611.7 L939.3,1617.8 L941.5,1623.8 L943.7,1630.1 L945.9,1636.9 L948.1,1645.3 L950.3,1652.5 L952.5,1654.5 L954.7,1654.6 L956.9,1653.6 L959.1,1651.3 L961.3,1648.4 L963.5,1646.9 L965.7,1647.0 L967.9,1647.7 L970.1,1648.7 L972.3,1647.8 L974.5,1646.4 L976.7,1646.2 L978.9,1646.5 L981.1,1647.3 L983.3,1648.4 L985.5,1649.8 L987.7,1651.4 L988.8,1652.9" fill="none" stroke="#333" stroke-width="1.7" stroke-linejoin="round"/>
<text class="serif" transform="translate(651.1,1753.3) scale(1,1.020)" x="0" y="0" font-size="32.5" fill="#000" text-anchor="middle">140</text>
<text class="serif" transform="translate(820.0,1753.3) scale(1,1.020)" x="0" y="0" font-size="32.5" fill="#000" text-anchor="middle">133</text>
<text class="serif" transform="translate(988.5,1753.3) scale(1,1.020)" x="0" y="0" font-size="32.5" fill="#000" text-anchor="middle">126</text>
<text class="sans" transform="translate(662.5,1203.5) scale(1,1.04)" x="0" y="0" font-size="32.5" fill="#000">10.75<tspan font-size="30" dx="1.2" dy="-4.8">°</tspan></text>
<text class="sans" transform="translate(662.5,1263.9) scale(1,1.04)" x="0" y="0" font-size="32.5" fill="#000">18.25<tspan font-size="30" dx="1.2" dy="-4.8">°</tspan></text>
<text class="sans" transform="translate(662.5,1320.3) scale(1,1.04)" x="0" y="0" font-size="32.5" fill="#000">25.75<tspan font-size="30" dx="1.2" dy="-4.8">°</tspan></text>
<text class="sans" transform="translate(662.5,1388.1) scale(1,1.04)" x="0" y="0" font-size="32.5" fill="#000">33.25<tspan font-size="30" dx="1.2" dy="-4.8">°</tspan></text>
<text class="sans" transform="translate(662.5,1452.7) scale(1,1.04)" x="0" y="0" font-size="32.5" fill="#000">40.75<tspan font-size="30" dx="1.2" dy="-4.8">°</tspan></text>
<text class="sans" transform="translate(662.5,1510.8) scale(1,1.04)" x="0" y="0" font-size="32.5" fill="#000">48.25<tspan font-size="30" dx="1.2" dy="-4.8">°</tspan></text>
<text class="sans" transform="translate(662.5,1577.1) scale(1,1.04)" x="0" y="0" font-size="32.5" fill="#000">55.75<tspan font-size="30" dx="1.2" dy="-4.8">°</tspan></text>
<text class="sans" transform="translate(662.5,1642.1) scale(1,1.04)" x="0" y="0" font-size="32.5" fill="#000">63.25<tspan font-size="30" dx="1.2" dy="-4.8">°</tspan></text>
<rect x="1140.8" y="1104.7" width="328.7" height="598.2" fill="none" stroke="#1e1e1e" stroke-width="1.5"/>
<line x1="1187.5" y1="1702.9" x2="1187.5" y2="1693.1" stroke="#222" stroke-width="1.5"/>
<line x1="1257.9" y1="1702.9" x2="1257.9" y2="1695.9" stroke="#222" stroke-width="1.5"/>
<line x1="1328.5" y1="1702.9" x2="1328.5" y2="1693.1" stroke="#222" stroke-width="1.5"/>
<line x1="1398.9" y1="1702.9" x2="1398.9" y2="1695.9" stroke="#222" stroke-width="1.5"/>
<path d="M1140.8,1241.8 L1143.8,1240.4 L1146.8,1239.8 L1149.8,1239.5 L1152.8,1239.6 L1155.8,1239.9 L1158.8,1240.4 L1161.8,1240.9 L1164.8,1241.4 L1167.8,1241.1 L1170.8,1240.2 L1173.8,1239.3 L1176.8,1239.1 L1179.8,1239.5 L1182.8,1240.2 L1185.8,1240.8 L1188.8,1240.7 L1191.8,1240.3 L1194.8,1240.1 L1197.8,1239.2 L1200.8,1238.1 L1203.8,1237.8 L1206.8,1238.2 L1209.8,1238.7 L1212.8,1238.5 L1215.8,1238.5 L1218.8,1238.4 L1221.8,1237.8 L1224.8,1236.6 L1227.8,1235.5 L1230.8,1235.3 L1233.8,1235.4 L1236.8,1234.9 L1239.8,1234.4 L1242.8,1234.3 L1245.8,1234.4 L1248.8,1234.3 L1251.8,1233.5 L1254.8,1232.7 L1257.8,1232.2 L1260.8,1231.6 L1263.8,1230.3 L1266.8,1228.5 L1269.8,1226.7 L1272.8,1225.6 L1275.8,1224.4 L1278.8,1223.1 L1281.8,1222.7 L1284.8,1222.8 L1287.8,1222.6 L1290.8,1222.2 L1293.8,1221.7 L1296.8,1221.1 L1299.8,1220.0 L1302.8,1219.4 L1305.8,1219.3 L1308.8,1218.8 L1311.8,1217.9 L1314.8,1217.0 L1317.8,1216.2 L1320.8,1215.7 L1323.8,1215.6 L1326.8,1215.4 L1329.8,1215.5 L1332.8,1216.1 L1335.8,1216.7 L1338.8,1216.8 L1341.8,1216.4 L1344.8,1216.3 L1347.8,1216.1 L1350.8,1216.2 L1353.8,1216.8 L1356.8,1218.0 L1359.8,1219.6 L1362.8,1220.5 L1365.8,1220.5 L1368.8,1220.7 L1371.8,1221.6 L1374.8,1223.0 L1377.8,1225.0 L1380.8,1226.6 L1383.8,1228.1 L1386.8,1229.9 L1389.8,1231.7 L1392.8,1232.8 L1395.8,1233.7 L1398.8,1234.8 L1401.8,1235.9 L1404.8,1236.1 L1407.8,1236.5 L1410.8,1237.9 L1413.8,1239.0 L1416.8,1239.3 L1419.8,1239.7 L1422.8,1240.4 L1425.8,1240.2 L1428.8,1239.3 L1431.8,1239.0 L1434.8,1238.8 L1437.8,1238.5 L1440.8,1238.2 L1443.8,1238.0 L1446.8,1237.8 L1449.8,1238.7 L1452.8,1240.0 L1455.8,1240.7 L1458.8,1241.0 L1461.8,1240.8 L1464.8,1240.7 L1467.8,1241.2 L1469.5,1240.9" fill="none" stroke="#333" stroke-width="1.7" stroke-linejoin="round"/>
<path d="M1140.8,1295.1 L1143.8,1295.2 L1146.8,1295.1 L1149.8,1294.9 L1152.8,1295.5 L1155.8,1296.1 L1158.8,1296.1 L1161.8,1296.7 L1164.8,1297.8 L1167.8,1297.7 L1170.8,1296.5 L1173.8,1295.9 L1176.8,1295.4 L1179.8,1294.1 L1182.8,1293.0 L1185.8,1292.9 L1188.8,1292.9 L1191.8,1292.5 L1194.8,1292.4 L1197.8,1292.3 L1200.8,1292.0 L1203.8,1291.8 L1206.8,1291.2 L1209.8,1290.4 L1212.8,1290.2 L1215.8,1289.8 L1218.8,1288.9 L1221.8,1288.3 L1224.8,1288.0 L1227.8,1287.7 L1230.8,1287.1 L1233.8,1285.6 L1236.8,1283.5 L1239.8,1282.1 L1242.8,1281.0 L1245.8,1280.1 L1248.8,1279.4 L1251.8,1279.3 L1254.8,1279.7 L1257.8,1279.2 L1260.8,1278.3 L1263.8,1277.7 L1266.8,1276.9 L1269.8,1275.5 L1272.8,1273.7 L1275.8,1272.4 L1278.8,1271.4 L1281.8,1270.1 L1284.8,1268.8 L1287.8,1267.8 L1290.8,1266.7 L1293.8,1265.3 L1296.8,1263.9 L1299.8,1262.0 L1302.8,1259.7 L1305.8,1257.0 L1308.8,1254.3 L1311.8,1252.1 L1314.8,1250.8 L1317.8,1250.0 L1320.8,1249.2 L1323.8,1249.4 L1326.8,1250.6 L1329.8,1251.5 L1332.8,1252.4 L1335.8,1252.9 L1338.8,1252.7 L1341.8,1252.0 L1344.8,1252.4 L1347.8,1254.1 L1350.8,1256.0 L1353.8,1258.0 L1356.8,1260.7 L1359.8,1263.5 L1362.8,1265.8 L1365.8,1267.0 L1368.8,1267.3 L1371.8,1268.3 L1374.8,1269.7 L1377.8,1271.1 L1380.8,1272.9 L1383.8,1274.5 L1386.8,1276.6 L1389.8,1279.8 L1392.8,1283.1 L1395.8,1284.9 L1398.8,1285.5 L1401.8,1286.3 L1404.8,1286.9 L1407.8,1287.5 L1410.8,1288.4 L1413.8,1289.1 L1416.8,1289.2 L1419.8,1289.2 L1422.8,1289.7 L1425.8,1290.3 L1428.8,1290.0 L1431.8,1289.7 L1434.8,1289.9 L1437.8,1289.8 L1440.8,1289.6 L1443.8,1290.1 L1446.8,1291.3 L1449.8,1292.9 L1452.8,1294.9 L1455.8,1296.7 L1458.8,1297.1 L1461.8,1296.7 L1464.8,1296.7 L1467.8,1296.3 L1469.5,1295.1" fill="none" stroke="#333" stroke-width="1.7" stroke-linejoin="round"/>
<path d="M1140.8,1348.7 L1143.8,1346.4 L1146.8,1344.6 L1149.8,1344.1 L1152.8,1344.2 L1155.8,1344.4 L1158.8,1345.7 L1161.8,1347.0 L1164.8,1347.9 L1167.8,1348.4 L1170.8,1348.5 L1173.8,1349.2 L1176.8,1349.9 L1179.8,1350.2 L1182.8,1350.8 L1185.8,1351.3 L1188.8,1351.2 L1191.8,1350.5 L1194.8,1349.1 L1197.8,1347.1 L1200.8,1345.8 L1203.8,1345.2 L1206.8,1344.5 L1209.8,1343.7 L1212.8,1343.3 L1215.8,1342.9 L1218.8,1342.5 L1221.8,1342.0 L1224.8,1341.5 L1227.8,1341.4 L1230.8,1341.1 L1233.8,1340.4 L1236.8,1339.7 L1239.8,1338.8 L1242.8,1338.2 L1245.8,1337.8 L1248.8,1336.5 L1251.8,1334.0 L1254.8,1332.4 L1257.8,1331.2 L1260.8,1330.0 L1263.8,1328.9 L1266.8,1327.8 L1269.8,1326.2 L1272.8,1324.4 L1275.8,1322.5 L1278.8,1320.0 L1281.8,1317.4 L1284.8,1313.8 L1287.8,1309.5 L1290.8,1306.1 L1293.8,1302.9 L1296.8,1299.5 L1299.8,1295.4 L1302.8,1289.8 L1305.8,1285.5 L1308.8,1283.1 L1311.8,1284.1 L1314.8,1286.4 L1317.8,1288.5 L1320.8,1289.7 L1323.8,1289.9 L1326.8,1289.6 L1329.8,1288.1 L1332.8,1285.4 L1335.8,1283.3 L1338.8,1282.5 L1341.8,1283.5 L1344.8,1285.9 L1347.8,1288.2 L1350.8,1291.5 L1353.8,1294.9 L1356.8,1297.5 L1359.8,1299.8 L1362.8,1302.3 L1365.8,1305.0 L1368.8,1307.3 L1371.8,1309.4 L1374.8,1312.4 L1377.8,1315.3 L1380.8,1318.0 L1383.8,1320.8 L1386.8,1323.6 L1389.8,1327.0 L1392.8,1330.9 L1395.8,1334.5 L1398.8,1337.2 L1401.8,1339.7 L1404.8,1342.4 L1407.8,1344.8 L1410.8,1345.7 L1413.8,1344.9 L1416.8,1344.7 L1419.8,1345.1 L1422.8,1345.3 L1425.8,1345.8 L1428.8,1346.4 L1431.8,1347.2 L1434.8,1348.3 L1437.8,1348.8 L1440.8,1348.5 L1443.8,1348.8 L1446.8,1349.5 L1449.8,1349.9 L1452.8,1350.3 L1455.8,1350.9 L1458.8,1351.1 L1461.8,1350.8 L1464.8,1350.3 L1467.8,1350.1 L1469.5,1350.1" fill="none" stroke="#333" stroke-width="1.7" stroke-linejoin="round"/>
<path d="M1140.8,1415.6 L1143.8,1414.9 L1146.8,1414.5 L1149.8,1413.7 L1152.8,1413.2 L1155.8,1413.4 L1158.8,1413.8 L1161.8,1414.2 L1164.8,1414.9 L1167.8,1415.3 L1170.8,1415.5 L1173.8,1415.7 L1176.8,1416.0 L1179.8,1416.2 L1182.8,1415.4 L1185.8,1413.9 L1188.8,1412.6 L1191.8,1412.0 L1194.8,1411.0 L1197.8,1410.7 L1200.8,1411.1 L1203.8,1411.2 L1206.8,1410.6 L1209.8,1409.4 L1212.8,1408.8 L1215.8,1408.4 L1218.8,1407.2 L1221.8,1405.5 L1224.8,1404.0 L1227.8,1403.1 L1230.8,1403.0 L1233.8,1402.9 L1236.8,1402.5 L1239.8,1401.8 L1242.8,1401.1 L1245.8,1400.6 L1248.8,1399.5 L1251.8,1398.7 L1254.8,1397.8 L1257.8,1396.1 L1260.8,1393.9 L1263.8,1391.4 L1266.8,1388.8 L1269.8,1386.4 L1272.8,1384.6 L1275.8,1383.5 L1278.8,1382.7 L1281.8,1381.5 L1284.8,1379.1 L1287.8,1375.8 L1290.8,1372.3 L1293.8,1369.1 L1296.8,1366.9 L1299.8,1365.7 L1302.8,1364.3 L1305.8,1362.7 L1308.8,1361.4 L1311.8,1359.6 L1314.8,1356.8 L1317.8,1354.0 L1320.8,1352.2 L1323.8,1351.2 L1326.8,1351.5 L1329.8,1353.0 L1332.8,1353.9 L1335.8,1354.0 L1338.8,1354.9 L1341.8,1356.3 L1344.8,1357.6 L1347.8,1359.0 L1350.8,1361.2 L1353.8,1363.2 L1356.8,1364.8 L1359.8,1367.1 L1362.8,1369.8 L1365.8,1372.2 L1368.8,1374.7 L1371.8,1377.4 L1374.8,1380.0 L1377.8,1384.5 L1380.8,1390.3 L1383.8,1395.2 L1386.8,1398.2 L1389.8,1400.6 L1392.8,1402.8 L1395.8,1404.2 L1398.8,1404.4 L1401.8,1404.3 L1404.8,1404.7 L1407.8,1405.5 L1410.8,1406.7 L1413.8,1408.4 L1416.8,1409.5 L1419.8,1410.3 L1422.8,1411.5 L1425.8,1412.5 L1428.8,1412.8 L1431.8,1413.1 L1434.8,1413.7 L1437.8,1414.4 L1440.8,1415.1 L1443.8,1415.8 L1446.8,1416.1 L1449.8,1416.0 L1452.8,1415.7 L1455.8,1414.6 L1458.8,1414.1 L1461.8,1414.0 L1464.8,1414.0 L1467.8,1414.4 L1469.5,1414.7" fill="none" stroke="#333" stroke-width="1.7" stroke-linejoin="round"/>
<path d="M1140.8,1490.1 L1143.8,1489.8 L1146.8,1489.7 L1149.8,1489.4 L1152.8,1489.2 L1155.8,1488.8 L1158.8,1488.8 L1161.8,1489.4 L1164.8,1490.0 L1167.8,1490.7 L1170.8,1491.0 L1173.8,1491.1 L1176.8,1491.5 L1179.8,1491.5 L1182.8,1490.6 L1185.8,1488.7 L1188.8,1486.9 L1191.8,1485.6 L1194.8,1483.9 L1197.8,1482.2 L1200.8,1481.0 L1203.8,1479.6 L1206.8,1477.3 L1209.8,1475.0 L1212.8,1473.1 L1215.8,1471.9 L1218.8,1471.5 L1221.8,1471.3 L1224.8,1470.4 L1227.8,1469.2 L1230.8,1468.3 L1233.8,1467.7 L1236.8,1466.6 L1239.8,1464.6 L1242.8,1462.7 L1245.8,1460.9 L1248.8,1458.4 L1251.8,1454.3 L1254.8,1449.8 L1257.8,1446.4 L1260.8,1444.2 L1263.8,1442.6 L1266.8,1441.0 L1269.8,1439.3 L1272.8,1437.4 L1275.8,1434.7 L1278.8,1431.0 L1281.8,1426.3 L1284.8,1420.8 L1287.8,1415.1 L1290.8,1409.8 L1293.8,1405.7 L1296.8,1402.0 L1299.8,1398.0 L1302.8,1394.4 L1305.8,1391.2 L1308.8,1389.0 L1311.8,1387.4 L1314.8,1386.1 L1317.8,1384.8 L1320.8,1383.6 L1323.8,1382.5 L1326.8,1381.4 L1329.8,1379.9 L1332.8,1378.4 L1335.8,1377.7 L1338.8,1378.5 L1341.8,1380.3 L1344.8,1382.4 L1347.8,1385.5 L1350.8,1389.6 L1353.8,1393.7 L1356.8,1397.9 L1359.8,1403.0 L1362.8,1408.1 L1365.8,1412.9 L1368.8,1418.4 L1371.8,1423.5 L1374.8,1427.2 L1377.8,1430.8 L1380.8,1434.8 L1383.8,1438.5 L1386.8,1441.8 L1389.8,1445.7 L1392.8,1450.3 L1395.8,1454.6 L1398.8,1458.6 L1401.8,1462.1 L1404.8,1466.0 L1407.8,1470.1 L1410.8,1474.2 L1413.8,1478.6 L1416.8,1482.7 L1419.8,1483.9 L1422.8,1483.6 L1425.8,1483.1 L1428.8,1483.0 L1431.8,1482.8 L1434.8,1482.8 L1437.8,1482.9 L1440.8,1482.8 L1443.8,1482.6 L1446.8,1482.5 L1449.8,1483.4 L1452.8,1484.9 L1455.8,1486.0 L1458.8,1486.7 L1461.8,1487.7 L1464.8,1489.3 L1467.8,1490.5 L1469.5,1491.0" fill="none" stroke="#333" stroke-width="1.7" stroke-linejoin="round"/>
<path d="M1140.8,1537.7 L1143.8,1537.6 L1146.8,1537.4 L1149.8,1537.5 L1152.8,1537.1 L1155.8,1536.7 L1158.8,1536.7 L1161.8,1537.0 L1164.8,1537.6 L1167.8,1538.2 L1170.8,1538.9 L1173.8,1539.3 L1176.8,1538.8 L1179.8,1538.0 L1182.8,1537.0 L1185.8,1535.7 L1188.8,1534.2 L1191.8,1532.5 L1194.8,1530.5 L1197.8,1529.4 L1200.8,1529.4 L1203.8,1529.9 L1206.8,1529.9 L1209.8,1529.0 L1212.8,1527.9 L1215.8,1526.1 L1218.8,1524.3 L1221.8,1523.1 L1224.8,1521.5 L1227.8,1519.5 L1230.8,1516.8 L1233.8,1513.6 L1236.8,1510.7 L1239.8,1507.8 L1242.8,1503.6 L1245.8,1499.9 L1248.8,1498.4 L1251.8,1498.6 L1254.8,1499.0 L1257.8,1498.8 L1260.8,1498.0 L1263.8,1496.0 L1266.8,1492.0 L1269.8,1486.7 L1272.8,1481.0 L1275.8,1475.2 L1278.8,1470.3 L1281.8,1466.9 L1284.8,1463.6 L1287.8,1461.0 L1290.8,1458.5 L1293.8,1455.9 L1296.8,1453.6 L1299.8,1448.5 L1302.8,1442.2 L1305.8,1436.0 L1308.8,1430.3 L1311.8,1426.4 L1314.8,1423.5 L1317.8,1421.2 L1320.8,1419.6 L1323.8,1418.0 L1326.8,1416.1 L1329.8,1413.8 L1332.8,1411.9 L1335.8,1409.0 L1338.8,1407.9 L1341.8,1411.8 L1344.8,1415.9 L1347.8,1419.4 L1350.8,1422.1 L1353.8,1424.5 L1356.8,1426.6 L1359.8,1429.1 L1362.8,1433.8 L1365.8,1442.1 L1368.8,1452.1 L1371.8,1461.0 L1374.8,1469.1 L1377.8,1476.2 L1380.8,1482.0 L1383.8,1487.6 L1386.8,1492.8 L1389.8,1497.3 L1392.8,1501.7 L1395.8,1506.4 L1398.8,1510.6 L1401.8,1514.3 L1404.8,1517.3 L1407.8,1520.2 L1410.8,1523.3 L1413.8,1526.4 L1416.8,1529.3 L1419.8,1531.7 L1422.8,1533.0 L1425.8,1533.9 L1428.8,1535.4 L1431.8,1536.8 L1434.8,1537.8 L1437.8,1538.0 L1440.8,1536.8 L1443.8,1535.2 L1446.8,1533.9 L1449.8,1531.7 L1452.8,1529.5 L1455.8,1528.9 L1458.8,1529.8 L1461.8,1531.0 L1464.8,1531.7 L1467.8,1532.8 L1469.5,1534.1" fill="none" stroke="#333" stroke-width="1.7" stroke-linejoin="round"/>
<path d="M1140.8,1598.8 L1143.8,1598.5 L1146.8,1597.7 L1149.8,1596.8 L1152.8,1596.0 L1155.8,1595.2 L1158.8,1595.0 L1161.8,1594.8 L1164.8,1594.6 L1167.8,1594.2 L1170.8,1593.8 L1173.8,1594.3 L1176.8,1594.8 L1179.8,1595.5 L1182.8,1595.3 L1185.8,1594.6 L1188.8,1593.8 L1191.8,1592.8 L1194.8,1591.4 L1197.8,1590.0 L1200.8,1589.1 L1203.8,1588.1 L1206.8,1587.6 L1209.8,1587.6 L1212.8,1587.5 L1215.8,1587.4 L1218.8,1586.9 L1221.8,1586.9 L1224.8,1587.6 L1227.8,1587.9 L1230.8,1587.2 L1233.8,1584.9 L1236.8,1581.6 L1239.8,1578.3 L1242.8,1576.2 L1245.8,1574.4 L1248.8,1572.2 L1251.8,1570.4 L1254.8,1569.4 L1257.8,1568.7 L1260.8,1566.7 L1263.8,1563.5 L1266.8,1560.4 L1269.8,1557.3 L1272.8,1554.5 L1275.8,1552.8 L1278.8,1552.0 L1281.8,1551.2 L1284.8,1549.7 L1287.8,1547.1 L1290.8,1543.6 L1293.8,1538.5 L1296.8,1531.8 L1299.8,1525.6 L1302.8,1521.1 L1305.8,1517.0 L1308.8,1513.3 L1311.8,1510.5 L1314.8,1508.3 L1317.8,1506.9 L1320.8,1505.7 L1323.8,1505.0 L1326.8,1505.1 L1329.8,1505.5 L1332.8,1505.9 L1335.8,1506.1 L1338.8,1505.6 L1341.8,1504.8 L1344.8,1504.7 L1347.8,1505.0 L1350.8,1507.6 L1353.8,1511.2 L1356.8,1514.9 L1359.8,1518.2 L1362.8,1522.0 L1365.8,1526.2 L1368.8,1530.5 L1371.8,1535.2 L1374.8,1539.6 L1377.8,1543.0 L1380.8,1545.7 L1383.8,1547.8 L1386.8,1550.8 L1389.8,1554.0 L1392.8,1556.4 L1395.8,1560.9 L1398.8,1567.1 L1401.8,1572.9 L1404.8,1578.6 L1407.8,1582.5 L1410.8,1584.7 L1413.8,1586.2 L1416.8,1586.9 L1419.8,1587.1 L1422.8,1586.3 L1425.8,1585.1 L1428.8,1584.7 L1431.8,1585.5 L1434.8,1587.5 L1437.8,1589.5 L1440.8,1591.2 L1443.8,1593.0 L1446.8,1594.0 L1449.8,1595.0 L1452.8,1596.7 L1455.8,1597.8 L1458.8,1597.5 L1461.8,1596.7 L1464.8,1595.2 L1467.8,1593.5 L1469.5,1592.9" fill="none" stroke="#333" stroke-width="1.7" stroke-linejoin="round"/>
<path d="M1140.8,1652.9 L1143.8,1650.7 L1146.8,1649.8 L1149.8,1650.9 L1152.8,1652.5 L1155.8,1653.8 L1158.8,1654.2 L1161.8,1653.5 L1164.8,1652.8 L1167.8,1652.0 L1170.8,1650.1 L1173.8,1648.7 L1176.8,1648.2 L1179.8,1648.1 L1182.8,1648.5 L1185.8,1649.3 L1188.8,1650.5 L1191.8,1652.1 L1194.8,1652.9 L1197.8,1652.6 L1200.8,1651.4 L1203.8,1650.1 L1206.8,1649.4 L1209.8,1648.8 L1212.8,1648.2 L1215.8,1646.9 L1218.8,1644.9 L1221.8,1643.0 L1224.8,1641.4 L1227.8,1640.8 L1230.8,1641.0 L1233.8,1641.4 L1236.8,1641.7 L1239.8,1641.8 L1242.8,1641.5 L1245.8,1638.9 L1248.8,1635.1 L1251.8,1631.1 L1254.8,1627.4 L1257.8,1624.6 L1260.8,1623.7 L1263.8,1623.4 L1266.8,1623.5 L1269.8,1623.2 L1272.8,1621.8 L1275.8,1619.2 L1278.8,1615.6 L1281.8,1611.9 L1284.8,1608.2 L1287.8,1604.1 L1290.8,1600.5 L1293.8,1598.7 L1296.8,1597.9 L1299.8,1597.4 L1302.8,1596.7 L1305.8,1594.4 L1308.8,1591.5 L1311.8,1590.3 L1314.8,1589.2 L1317.8,1586.8 L1320.8,1583.3 L1323.8,1580.0 L1326.8,1578.2 L1329.8,1577.8 L1332.8,1577.4 L1335.8,1575.5 L1338.8,1574.0 L1341.8,1574.4 L1344.8,1576.0 L1347.8,1578.5 L1350.8,1581.1 L1353.8,1583.2 L1356.8,1584.4 L1359.8,1585.6 L1362.8,1586.4 L1365.8,1588.5 L1368.8,1590.9 L1371.8,1592.8 L1374.8,1594.9 L1377.8,1596.9 L1380.8,1599.2 L1383.8,1602.2 L1386.8,1605.4 L1389.8,1609.0 L1392.8,1613.7 L1395.8,1619.5 L1398.8,1624.2 L1401.8,1626.9 L1404.8,1629.1 L1407.8,1631.2 L1410.8,1632.6 L1413.8,1633.4 L1416.8,1633.9 L1419.8,1634.7 L1422.8,1633.4 L1425.8,1633.9 L1428.8,1636.1 L1431.8,1638.5 L1434.8,1640.8 L1437.8,1642.3 L1440.8,1643.0 L1443.8,1643.5 L1446.8,1644.1 L1449.8,1644.5 L1452.8,1645.3 L1455.8,1646.7 L1458.8,1647.5 L1461.8,1648.5 L1464.8,1649.3 L1467.8,1650.1 L1469.5,1650.8" fill="none" stroke="#333" stroke-width="1.7" stroke-linejoin="round"/>
<text class="serif" transform="translate(1187.5,1753.3) scale(1,1.020)" x="0" y="0" font-size="32.5" fill="#000" text-anchor="middle">535</text>
<text class="serif" transform="translate(1328.5,1753.3) scale(1,1.020)" x="0" y="0" font-size="32.5" fill="#000" text-anchor="middle">532</text>
<text class="serif" transform="translate(1469.5,1753.3) scale(1,1.020)" x="0" y="0" font-size="32.5" fill="#000" text-anchor="middle">529</text>
<text class="sans" transform="translate(1145.0,1223.3) scale(1,1.04)" x="0" y="0" font-size="32.5" fill="#000">10.75<tspan font-size="30" dx="1.2" dy="-4.8">°</tspan></text>
<text class="sans" transform="translate(1145.0,1277.2) scale(1,1.04)" x="0" y="0" font-size="32.5" fill="#000">18.25<tspan font-size="30" dx="1.2" dy="-4.8">°</tspan></text>
<text class="sans" transform="translate(1145.0,1332.1) scale(1,1.04)" x="0" y="0" font-size="32.5" fill="#000">25.75<tspan font-size="30" dx="1.2" dy="-4.8">°</tspan></text>
<text class="sans" transform="translate(1145.0,1395.8) scale(1,1.04)" x="0" y="0" font-size="32.5" fill="#000">33.25<tspan font-size="30" dx="1.2" dy="-4.8">°</tspan></text>
<text class="sans" transform="translate(1145.0,1462.8) scale(1,1.04)" x="0" y="0" font-size="32.5" fill="#000">40.75<tspan font-size="30" dx="1.2" dy="-4.8">°</tspan></text>
<text class="sans" transform="translate(1145.0,1518.0) scale(1,1.04)" x="0" y="0" font-size="32.5" fill="#000">48.25<tspan font-size="30" dx="1.2" dy="-4.8">°</tspan></text>
<text class="sans" transform="translate(1145.0,1570.0) scale(1,1.04)" x="0" y="0" font-size="32.5" fill="#000">55.75<tspan font-size="30" dx="1.2" dy="-4.8">°</tspan></text>
<text class="sans" transform="translate(1145.0,1634.7) scale(1,1.04)" x="0" y="0" font-size="32.5" fill="#000">63.25<tspan font-size="30" dx="1.2" dy="-4.8">°</tspan></text>
<rect x="1637.5" y="1111.1" width="330.5" height="598.1" fill="none" stroke="#1e1e1e" stroke-width="1.5"/>
<line x1="1692.6" y1="1709.2" x2="1692.6" y2="1702.2" stroke="#222" stroke-width="1.5"/>
<line x1="1747.4" y1="1709.2" x2="1747.4" y2="1699.4" stroke="#222" stroke-width="1.5"/>
<line x1="1802.4" y1="1709.2" x2="1802.4" y2="1702.2" stroke="#222" stroke-width="1.5"/>
<line x1="1857.6" y1="1709.2" x2="1857.6" y2="1699.4" stroke="#222" stroke-width="1.5"/>
<line x1="1912.6" y1="1709.2" x2="1912.6" y2="1702.2" stroke="#222" stroke-width="1.5"/>
<path d="M1637.5,1202.5 L1639.7,1201.6 L1641.9,1200.4 L1644.1,1199.0 L1646.3,1197.9 L1648.5,1196.9 L1650.7,1197.2 L1652.9,1198.5 L1655.1,1200.9 L1657.3,1202.0 L1659.5,1199.9 L1661.7,1197.1 L1663.9,1196.8 L1666.1,1197.6 L1668.3,1198.1 L1670.5,1198.8 L1672.7,1198.8 L1674.9,1197.9 L1677.1,1196.9 L1679.3,1198.1 L1681.5,1200.4 L1683.7,1201.3 L1685.9,1200.8 L1688.1,1200.2 L1690.3,1200.0 L1692.5,1199.8 L1694.7,1198.8 L1696.9,1196.8 L1699.1,1195.1 L1701.3,1194.5 L1703.5,1196.1 L1705.7,1198.4 L1707.9,1200.2 L1710.1,1201.3 L1712.3,1200.3 L1714.5,1197.8 L1716.7,1194.8 L1718.9,1193.9 L1721.1,1197.3 L1723.3,1200.8 L1725.5,1200.5 L1727.7,1199.2 L1729.9,1197.9 L1732.1,1198.0 L1734.3,1200.4 L1736.5,1202.9 L1738.7,1201.9 L1740.9,1199.5 L1743.1,1197.9 L1745.3,1197.2 L1747.5,1196.7 L1749.7,1197.1 L1751.9,1196.7 L1754.1,1194.0 L1756.3,1191.1 L1758.5,1191.1 L1760.7,1194.3 L1762.9,1195.4 L1765.1,1195.1 L1767.3,1194.7 L1769.5,1193.3 L1771.7,1192.4 L1773.9,1193.6 L1776.1,1196.8 L1778.3,1199.2 L1780.5,1197.8 L1782.7,1195.1 L1784.9,1189.9 L1787.1,1185.4 L1789.3,1186.1 L1791.5,1189.7 L1793.7,1192.6 L1795.9,1194.3 L1798.1,1193.8 L1800.3,1192.4 L1802.5,1190.6 L1804.7,1190.3 L1806.9,1191.8 L1809.1,1192.3 L1811.3,1192.4 L1813.5,1193.2 L1815.7,1193.0 L1817.9,1190.6 L1820.1,1187.1 L1822.3,1186.8 L1824.5,1188.8 L1826.7,1191.0 L1828.9,1192.6 L1831.1,1190.4 L1833.3,1187.3 L1835.5,1186.2 L1837.7,1188.9 L1839.9,1192.8 L1842.1,1196.3 L1844.3,1193.0 L1846.5,1187.7 L1848.7,1183.3 L1850.9,1179.2 L1853.1,1176.3 L1855.3,1178.0 L1857.5,1182.1 L1859.7,1186.4 L1861.9,1187.5 L1864.1,1186.0 L1866.3,1184.6 L1868.5,1185.7 L1870.7,1187.0 L1872.9,1187.2 L1875.1,1187.4 L1877.3,1188.3 L1879.5,1189.4 L1881.7,1189.1 L1883.9,1187.0 L1886.1,1187.1 L1888.3,1191.1 L1890.5,1195.2 L1892.7,1198.2 L1894.9,1198.2 L1897.1,1196.9 L1899.3,1194.6 L1901.5,1191.5 L1903.7,1191.6 L1905.9,1193.5 L1908.1,1194.1 L1910.3,1194.8 L1912.5,1196.2 L1914.7,1198.4 L1916.9,1199.5 L1919.1,1199.4 L1921.3,1200.5 L1923.5,1199.0 L1925.7,1193.2 L1927.9,1187.8 L1930.1,1188.2 L1932.3,1192.4 L1934.5,1197.9 L1936.7,1202.4 L1938.9,1205.0 L1941.1,1203.7 L1943.3,1200.8 L1945.5,1197.1 L1947.7,1192.9 L1949.9,1191.3 L1952.1,1191.4 L1954.3,1191.7 L1956.5,1192.7 L1958.7,1193.8 L1960.9,1195.0 L1963.1,1196.8 L1965.3,1198.2 L1967.5,1198.1 L1968.0,1197.9" fill="none" stroke="#333" stroke-width="1.7" stroke-linejoin="round"/>
<path d="M1637.5,1252.0 L1639.7,1252.7 L1641.9,1253.2 L1644.1,1252.3 L1646.3,1250.7 L1648.5,1250.0 L1650.7,1251.8 L1652.9,1254.5 L1655.1,1256.6 L1657.3,1256.3 L1659.5,1255.6 L1661.7,1255.5 L1663.9,1255.2 L1666.1,1254.0 L1668.3,1252.2 L1670.5,1251.2 L1672.7,1250.6 L1674.9,1249.9 L1677.1,1250.0 L1679.3,1250.7 L1681.5,1252.9 L1683.7,1255.6 L1685.9,1258.6 L1688.1,1261.7 L1690.3,1261.8 L1692.5,1260.2 L1694.7,1258.9 L1696.9,1257.3 L1699.1,1254.0 L1701.3,1250.3 L1703.5,1247.4 L1705.7,1247.6 L1707.9,1250.8 L1710.1,1254.4 L1712.3,1255.8 L1714.5,1255.8 L1716.7,1255.3 L1718.9,1254.8 L1721.1,1254.3 L1723.3,1253.4 L1725.5,1251.4 L1727.7,1249.5 L1729.9,1247.9 L1732.1,1246.4 L1734.3,1245.1 L1736.5,1247.6 L1738.7,1251.7 L1740.9,1254.9 L1743.1,1257.7 L1745.3,1257.2 L1747.5,1252.1 L1749.7,1247.7 L1751.9,1249.5 L1754.1,1252.9 L1756.3,1256.0 L1758.5,1258.4 L1760.7,1256.6 L1762.9,1253.7 L1765.1,1252.6 L1767.3,1252.0 L1769.5,1250.4 L1771.7,1249.2 L1773.9,1249.1 L1776.1,1249.0 L1778.3,1249.8 L1780.5,1252.3 L1782.7,1255.3 L1784.9,1257.5 L1787.1,1258.5 L1789.3,1259.9 L1791.5,1262.4 L1793.7,1264.5 L1795.9,1262.6 L1798.1,1259.9 L1800.3,1260.4 L1802.5,1260.7 L1804.7,1261.1 L1806.9,1257.6 L1809.1,1253.0 L1811.3,1250.8 L1813.5,1252.3 L1815.7,1254.7 L1817.9,1255.0 L1820.1,1252.7 L1822.3,1250.1 L1824.5,1248.0 L1826.7,1249.2 L1828.9,1252.7 L1831.1,1252.9 L1833.3,1248.9 L1835.5,1245.7 L1837.7,1243.5 L1839.9,1242.2 L1842.1,1240.2 L1844.3,1238.3 L1846.5,1237.9 L1848.7,1237.4 L1850.9,1238.7 L1853.1,1240.9 L1855.3,1239.3 L1857.5,1234.6 L1859.7,1228.6 L1861.9,1225.8 L1864.1,1228.9 L1866.3,1232.9 L1868.5,1237.8 L1870.7,1242.0 L1872.9,1245.0 L1875.1,1247.4 L1877.3,1249.3 L1879.5,1250.1 L1881.7,1250.3 L1883.9,1250.8 L1886.1,1251.3 L1888.3,1251.9 L1890.5,1253.1 L1892.7,1254.0 L1894.9,1254.7 L1897.1,1255.8 L1899.3,1256.3 L1901.5,1256.4 L1903.7,1256.6 L1905.9,1256.9 L1908.1,1256.2 L1910.3,1253.3 L1912.5,1249.6 L1914.7,1245.7 L1916.9,1243.7 L1919.1,1246.1 L1921.3,1249.3 L1923.5,1252.1 L1925.7,1254.2 L1927.9,1254.6 L1930.1,1253.6 L1932.3,1252.5 L1934.5,1252.6 L1936.7,1253.7 L1938.9,1254.4 L1941.1,1255.1 L1943.3,1256.9 L1945.5,1259.4 L1947.7,1261.7 L1949.9,1261.5 L1952.1,1259.6 L1954.3,1258.3 L1956.5,1256.9 L1958.7,1255.9 L1960.9,1257.1 L1963.1,1258.9 L1965.3,1260.9 L1967.5,1263.5 L1968.0,1263.4" fill="none" stroke="#333" stroke-width="1.7" stroke-linejoin="round"/>
<path d="M1637.5,1317.9 L1639.7,1313.6 L1641.9,1312.0 L1644.1,1315.6 L1646.3,1319.9 L1648.5,1322.5 L1650.7,1320.4 L1652.9,1314.3 L1655.1,1307.9 L1657.3,1302.7 L1659.5,1301.8 L1661.7,1305.1 L1663.9,1309.3 L1666.1,1313.5 L1668.3,1317.3 L1670.5,1319.2 L1672.7,1317.8 L1674.9,1315.9 L1677.1,1313.9 L1679.3,1312.5 L1681.5,1314.5 L1683.7,1318.7 L1685.9,1321.6 L1688.1,1318.2 L1690.3,1312.8 L1692.5,1307.9 L1694.7,1304.2 L1696.9,1305.0 L1699.1,1306.5 L1701.3,1308.5 L1703.5,1310.9 L1705.7,1311.3 L1707.9,1307.7 L1710.1,1306.3 L1712.3,1308.8 L1714.5,1310.7 L1716.7,1313.1 L1718.9,1317.0 L1721.1,1319.8 L1723.3,1320.8 L1725.5,1318.7 L1727.7,1315.0 L1729.9,1311.3 L1732.1,1307.6 L1734.3,1304.5 L1736.5,1301.7 L1738.7,1300.2 L1740.9,1299.9 L1743.1,1300.5 L1745.3,1302.9 L1747.5,1306.2 L1749.7,1309.1 L1751.9,1309.9 L1754.1,1310.3 L1756.3,1311.2 L1758.5,1315.2 L1760.7,1320.1 L1762.9,1324.5 L1765.1,1324.9 L1767.3,1320.4 L1769.5,1315.5 L1771.7,1311.8 L1773.9,1309.9 L1776.1,1313.0 L1778.3,1317.1 L1780.5,1319.1 L1782.7,1315.8 L1784.9,1310.4 L1787.1,1305.5 L1789.3,1301.5 L1791.5,1298.1 L1793.7,1297.4 L1795.9,1300.2 L1798.1,1304.9 L1800.3,1310.3 L1802.5,1314.3 L1804.7,1313.3 L1806.9,1310.1 L1809.1,1312.0 L1811.3,1321.3 L1813.5,1326.0 L1815.7,1320.7 L1817.9,1313.0 L1820.1,1305.3 L1822.3,1298.5 L1824.5,1298.2 L1826.7,1302.9 L1828.9,1308.2 L1831.1,1314.0 L1833.3,1318.0 L1835.5,1314.3 L1837.7,1308.5 L1839.9,1303.3 L1842.1,1297.4 L1844.3,1292.4 L1846.5,1290.8 L1848.7,1290.9 L1850.9,1290.3 L1853.1,1289.5 L1855.3,1289.4 L1857.5,1289.4 L1859.7,1294.0 L1861.9,1302.0 L1864.1,1306.6 L1866.3,1305.2 L1868.5,1303.4 L1870.7,1303.6 L1872.9,1303.7 L1875.1,1302.3 L1877.3,1301.5 L1879.5,1301.6 L1881.7,1301.4 L1883.9,1301.5 L1886.1,1304.5 L1888.3,1310.4 L1890.5,1313.8 L1892.7,1314.1 L1894.9,1313.0 L1897.1,1310.8 L1899.3,1308.9 L1901.5,1307.2 L1903.7,1303.9 L1905.9,1300.5 L1908.1,1299.5 L1910.3,1304.7 L1912.5,1312.0 L1914.7,1318.4 L1916.9,1323.9 L1919.1,1324.3 L1921.3,1319.9 L1923.5,1315.6 L1925.7,1312.6 L1927.9,1309.8 L1930.1,1308.7 L1932.3,1309.5 L1934.5,1308.8 L1936.7,1306.8 L1938.9,1306.2 L1941.1,1309.4 L1943.3,1315.0 L1945.5,1319.8 L1947.7,1320.1 L1949.9,1316.1 L1952.1,1312.3 L1954.3,1308.3 L1956.5,1305.8 L1958.7,1306.2 L1960.9,1307.3 L1963.1,1309.3 L1965.3,1311.2 L1967.5,1312.6 L1968.0,1313.3" fill="none" stroke="#333" stroke-width="1.7" stroke-linejoin="round"/>
<path d="M1637.5,1360.9 L1639.7,1360.9 L1641.9,1363.6 L1644.1,1370.4 L1646.3,1376.3 L1648.5,1381.2 L1650.7,1382.9 L1652.9,1382.2 L1655.1,1380.9 L1657.3,1379.5 L1659.5,1376.4 L1661.7,1373.2 L1663.9,1369.1 L1666.1,1364.4 L1668.3,1362.5 L1670.5,1365.3 L1672.7,1368.4 L1674.9,1371.0 L1677.1,1373.2 L1679.3,1376.5 L1681.5,1378.1 L1683.7,1376.1 L1685.9,1372.5 L1688.1,1370.3 L1690.3,1369.4 L1692.5,1371.2 L1694.7,1374.6 L1696.9,1379.7 L1699.1,1383.3 L1701.3,1381.6 L1703.5,1377.6 L1705.7,1373.2 L1707.9,1371.2 L1710.1,1371.4 L1712.3,1371.7 L1714.5,1370.8 L1716.7,1369.8 L1718.9,1369.5 L1721.1,1370.0 L1723.3,1370.7 L1725.5,1370.7 L1727.7,1372.2 L1729.9,1375.7 L1732.1,1378.8 L1734.3,1379.7 L1736.5,1378.7 L1738.7,1377.4 L1740.9,1376.4 L1743.1,1374.1 L1745.3,1369.8 L1747.5,1365.6 L1749.7,1364.0 L1751.9,1368.0 L1754.1,1374.1 L1756.3,1379.8 L1758.5,1383.8 L1760.7,1381.7 L1762.9,1377.5 L1765.1,1373.1 L1767.3,1370.2 L1769.5,1370.8 L1771.7,1372.1 L1773.9,1373.2 L1776.1,1374.4 L1778.3,1374.2 L1780.5,1372.8 L1782.7,1370.7 L1784.9,1369.4 L1787.1,1369.8 L1789.3,1370.2 L1791.5,1370.4 L1793.7,1371.1 L1795.9,1371.9 L1798.1,1372.0 L1800.3,1372.0 L1802.5,1372.5 L1804.7,1371.0 L1806.9,1367.6 L1809.1,1364.4 L1811.3,1362.2 L1813.5,1364.3 L1815.7,1369.0 L1817.9,1373.0 L1820.1,1371.8 L1822.3,1367.5 L1824.5,1364.5 L1826.7,1365.4 L1828.9,1367.4 L1831.1,1369.2 L1833.3,1370.7 L1835.5,1372.0 L1837.7,1371.9 L1839.9,1371.1 L1842.1,1369.3 L1844.3,1365.6 L1846.5,1362.2 L1848.7,1360.2 L1850.9,1359.2 L1853.1,1361.4 L1855.3,1362.6 L1857.5,1361.1 L1859.7,1359.9 L1861.9,1360.8 L1864.1,1362.7 L1866.3,1364.2 L1868.5,1364.3 L1870.7,1363.6 L1872.9,1363.4 L1875.1,1366.1 L1877.3,1369.6 L1879.5,1371.5 L1881.7,1371.6 L1883.9,1372.8 L1886.1,1375.3 L1888.3,1377.4 L1890.5,1379.6 L1892.7,1381.2 L1894.9,1380.5 L1897.1,1377.4 L1899.3,1372.9 L1901.5,1370.1 L1903.7,1370.5 L1905.9,1372.8 L1908.1,1375.5 L1910.3,1375.7 L1912.5,1374.7 L1914.7,1375.9 L1916.9,1379.1 L1919.1,1381.3 L1921.3,1380.9 L1923.5,1377.7 L1925.7,1374.1 L1927.9,1374.2 L1930.1,1376.4 L1932.3,1377.6 L1934.5,1378.9 L1936.7,1380.5 L1938.9,1381.8 L1941.1,1381.8 L1943.3,1381.3 L1945.5,1381.4 L1947.7,1381.8 L1949.9,1381.7 L1952.1,1378.7 L1954.3,1373.7 L1956.5,1370.8 L1958.7,1369.8 L1960.9,1369.6 L1963.1,1370.9 L1965.3,1373.9 L1967.5,1377.0 L1968.0,1377.5" fill="none" stroke="#333" stroke-width="1.7" stroke-linejoin="round"/>
<path d="M1637.5,1442.2 L1639.7,1436.3 L1641.9,1430.9 L1644.1,1425.4 L1646.3,1422.4 L1648.5,1425.7 L1650.7,1431.0 L1652.9,1433.4 L1655.1,1429.4 L1657.3,1426.9 L1659.5,1431.9 L1661.7,1439.1 L1663.9,1445.1 L1666.1,1444.6 L1668.3,1440.3 L1670.5,1434.7 L1672.7,1430.3 L1674.9,1430.3 L1677.1,1431.6 L1679.3,1431.9 L1681.5,1431.1 L1683.7,1430.4 L1685.9,1429.8 L1688.1,1429.1 L1690.3,1428.5 L1692.5,1427.2 L1694.7,1425.9 L1696.9,1425.0 L1699.1,1423.7 L1701.3,1424.5 L1703.5,1429.9 L1705.7,1436.0 L1707.9,1441.2 L1710.1,1443.2 L1712.3,1441.6 L1714.5,1439.2 L1716.7,1437.2 L1718.9,1435.2 L1721.1,1431.5 L1723.3,1426.3 L1725.5,1422.1 L1727.7,1420.2 L1729.9,1422.9 L1732.1,1427.6 L1734.3,1431.4 L1736.5,1433.5 L1738.7,1431.0 L1740.9,1426.6 L1743.1,1421.7 L1745.3,1417.8 L1747.5,1420.8 L1749.7,1427.4 L1751.9,1434.3 L1754.1,1441.5 L1756.3,1445.0 L1758.5,1439.9 L1760.7,1433.9 L1762.9,1431.1 L1765.1,1430.9 L1767.3,1431.0 L1769.5,1430.4 L1771.7,1426.6 L1773.9,1422.7 L1776.1,1423.5 L1778.3,1428.4 L1780.5,1433.6 L1782.7,1437.3 L1784.9,1434.2 L1787.1,1428.3 L1789.3,1425.1 L1791.5,1423.3 L1793.7,1421.6 L1795.9,1420.4 L1798.1,1418.2 L1800.3,1416.0 L1802.5,1416.6 L1804.7,1418.5 L1806.9,1418.4 L1809.1,1416.1 L1811.3,1413.4 L1813.5,1409.7 L1815.7,1407.6 L1817.9,1408.8 L1820.1,1410.1 L1822.3,1413.0 L1824.5,1418.9 L1826.7,1426.4 L1828.9,1432.6 L1831.1,1436.0 L1833.3,1437.2 L1835.5,1433.3 L1837.7,1425.3 L1839.9,1416.2 L1842.1,1409.3 L1844.3,1407.0 L1846.5,1406.1 L1848.7,1409.0 L1850.9,1410.5 L1853.1,1405.9 L1855.3,1400.1 L1857.5,1393.2 L1859.7,1388.6 L1861.9,1391.3 L1864.1,1398.0 L1866.3,1405.4 L1868.5,1410.7 L1870.7,1415.3 L1872.9,1421.2 L1875.1,1425.6 L1877.3,1422.6 L1879.5,1418.4 L1881.7,1419.8 L1883.9,1423.7 L1886.1,1427.1 L1888.3,1430.4 L1890.5,1431.3 L1892.7,1426.6 L1894.9,1423.6 L1897.1,1424.2 L1899.3,1424.2 L1901.5,1425.0 L1903.7,1427.1 L1905.9,1427.4 L1908.1,1424.3 L1910.3,1420.4 L1912.5,1418.2 L1914.7,1420.2 L1916.9,1425.4 L1919.1,1430.6 L1921.3,1433.8 L1923.5,1433.6 L1925.7,1428.3 L1927.9,1422.6 L1930.1,1418.5 L1932.3,1417.7 L1934.5,1417.6 L1936.7,1418.3 L1938.9,1419.4 L1941.1,1418.2 L1943.3,1416.1 L1945.5,1415.4 L1947.7,1415.9 L1949.9,1420.2 L1952.1,1425.5 L1954.3,1430.7 L1956.5,1436.6 L1958.7,1441.4 L1960.9,1443.2 L1963.1,1442.8 L1965.3,1440.6 L1967.5,1437.5 L1968.0,1436.3" fill="none" stroke="#333" stroke-width="1.7" stroke-linejoin="round"/>
<path d="M1637.5,1499.4 L1639.7,1501.4 L1641.9,1501.5 L1644.1,1502.6 L1646.3,1507.1 L1648.5,1510.1 L1650.7,1506.3 L1652.9,1501.4 L1655.1,1498.3 L1657.3,1500.1 L1659.5,1500.6 L1661.7,1496.8 L1663.9,1492.1 L1666.1,1487.8 L1668.3,1485.1 L1670.5,1487.8 L1672.7,1495.7 L1674.9,1503.5 L1677.1,1505.8 L1679.3,1506.2 L1681.5,1506.7 L1683.7,1508.0 L1685.9,1513.6 L1688.1,1520.6 L1690.3,1524.8 L1692.5,1524.1 L1694.7,1523.0 L1696.9,1522.5 L1699.1,1521.9 L1701.3,1520.3 L1703.5,1519.7 L1705.7,1520.3 L1707.9,1518.6 L1710.1,1515.1 L1712.3,1512.4 L1714.5,1510.4 L1716.7,1509.6 L1718.9,1511.4 L1721.1,1514.0 L1723.3,1515.6 L1725.5,1515.2 L1727.7,1512.6 L1729.9,1509.1 L1732.1,1504.4 L1734.3,1502.7 L1736.5,1501.3 L1738.7,1496.3 L1740.9,1491.1 L1743.1,1486.3 L1745.3,1483.7 L1747.5,1492.5 L1749.7,1507.6 L1751.9,1512.7 L1754.1,1510.2 L1756.3,1507.4 L1758.5,1504.9 L1760.7,1504.6 L1762.9,1506.9 L1765.1,1509.7 L1767.3,1513.7 L1769.5,1515.6 L1771.7,1510.9 L1773.9,1504.6 L1776.1,1500.0 L1778.3,1496.6 L1780.5,1495.7 L1782.7,1497.0 L1784.9,1499.2 L1787.1,1503.3 L1789.3,1512.0 L1791.5,1519.1 L1793.7,1514.9 L1795.9,1507.8 L1798.1,1505.0 L1800.3,1507.7 L1802.5,1509.0 L1804.7,1506.9 L1806.9,1503.3 L1809.1,1499.5 L1811.3,1496.7 L1813.5,1494.8 L1815.7,1493.4 L1817.9,1495.0 L1820.1,1499.5 L1822.3,1505.9 L1824.5,1509.6 L1826.7,1502.6 L1828.9,1490.4 L1831.1,1481.9 L1833.3,1484.2 L1835.5,1489.1 L1837.7,1494.4 L1839.9,1498.1 L1842.1,1496.9 L1844.3,1494.5 L1846.5,1490.4 L1848.7,1483.8 L1850.9,1477.7 L1853.1,1474.2 L1855.3,1479.0 L1857.5,1488.1 L1859.7,1497.0 L1861.9,1497.1 L1864.1,1486.6 L1866.3,1476.1 L1868.5,1468.0 L1870.7,1473.3 L1872.9,1492.6 L1875.1,1503.8 L1877.3,1501.7 L1879.5,1499.2 L1881.7,1496.5 L1883.9,1493.5 L1886.1,1492.9 L1888.3,1494.0 L1890.5,1497.2 L1892.7,1502.8 L1894.9,1507.0 L1897.1,1508.1 L1899.3,1504.7 L1901.5,1499.7 L1903.7,1493.7 L1905.9,1492.4 L1908.1,1495.8 L1910.3,1498.6 L1912.5,1498.6 L1914.7,1499.1 L1916.9,1500.3 L1919.1,1501.7 L1921.3,1504.1 L1923.5,1507.9 L1925.7,1511.6 L1927.9,1513.1 L1930.1,1511.9 L1932.3,1512.0 L1934.5,1515.7 L1936.7,1517.1 L1938.9,1512.3 L1941.1,1503.6 L1943.3,1494.3 L1945.5,1487.6 L1947.7,1487.8 L1949.9,1493.5 L1952.1,1500.4 L1954.3,1507.3 L1956.5,1514.5 L1958.7,1521.1 L1960.9,1522.1 L1963.1,1517.5 L1965.3,1510.8 L1967.5,1503.7 L1968.0,1503.1" fill="none" stroke="#333" stroke-width="1.7" stroke-linejoin="round"/>
<path d="M1637.5,1577.0 L1639.7,1574.4 L1641.9,1571.2 L1644.1,1568.7 L1646.3,1565.7 L1648.5,1565.0 L1650.7,1568.1 L1652.9,1573.1 L1655.1,1578.0 L1657.3,1582.1 L1659.5,1584.2 L1661.7,1583.0 L1663.9,1580.6 L1666.1,1578.0 L1668.3,1575.8 L1670.5,1575.3 L1672.7,1577.2 L1674.9,1578.8 L1677.1,1579.6 L1679.3,1580.7 L1681.5,1579.6 L1683.7,1577.8 L1685.9,1578.1 L1688.1,1580.1 L1690.3,1583.1 L1692.5,1585.7 L1694.7,1585.6 L1696.9,1582.6 L1699.1,1579.5 L1701.3,1577.9 L1703.5,1578.9 L1705.7,1580.4 L1707.9,1581.9 L1710.1,1583.5 L1712.3,1585.0 L1714.5,1589.2 L1716.7,1591.7 L1718.9,1587.2 L1721.1,1581.3 L1723.3,1574.5 L1725.5,1569.2 L1727.7,1569.9 L1729.9,1573.8 L1732.1,1576.7 L1734.3,1575.5 L1736.5,1573.7 L1738.7,1573.3 L1740.9,1574.9 L1743.1,1581.1 L1745.3,1575.5 L1747.5,1567.1 L1749.7,1560.0 L1751.9,1555.6 L1754.1,1562.5 L1756.3,1574.7 L1758.5,1586.9 L1760.7,1597.1 L1762.9,1596.6 L1765.1,1587.5 L1767.3,1577.6 L1769.5,1574.8 L1771.7,1575.3 L1773.9,1576.3 L1776.1,1576.0 L1778.3,1575.3 L1780.5,1576.3 L1782.7,1581.6 L1784.9,1587.9 L1787.1,1592.0 L1789.3,1587.9 L1791.5,1581.9 L1793.7,1577.6 L1795.9,1575.5 L1798.1,1576.9 L1800.3,1579.5 L1802.5,1581.9 L1804.7,1580.3 L1806.9,1575.7 L1809.1,1570.0 L1811.3,1565.2 L1813.5,1560.9 L1815.7,1555.4 L1817.9,1551.2 L1820.1,1555.0 L1822.3,1563.1 L1824.5,1570.8 L1826.7,1573.1 L1828.9,1573.2 L1831.1,1573.6 L1833.3,1573.9 L1835.5,1575.7 L1837.7,1578.1 L1839.9,1577.7 L1842.1,1572.4 L1844.3,1565.9 L1846.5,1559.7 L1848.7,1555.8 L1850.9,1557.0 L1853.1,1560.4 L1855.3,1560.5 L1857.5,1557.0 L1859.7,1554.7 L1861.9,1556.3 L1864.1,1560.1 L1866.3,1564.0 L1868.5,1567.6 L1870.7,1570.0 L1872.9,1569.1 L1875.1,1566.4 L1877.3,1564.9 L1879.5,1570.9 L1881.7,1579.2 L1883.9,1585.6 L1886.1,1590.4 L1888.3,1591.3 L1890.5,1589.2 L1892.7,1586.2 L1894.9,1584.1 L1897.1,1581.5 L1899.3,1578.0 L1901.5,1575.3 L1903.7,1574.9 L1905.9,1575.7 L1908.1,1577.2 L1910.3,1579.2 L1912.5,1582.2 L1914.7,1588.2 L1916.9,1591.5 L1919.1,1586.5 L1921.3,1579.7 L1923.5,1574.4 L1925.7,1573.9 L1927.9,1580.2 L1930.1,1575.7 L1932.3,1569.3 L1934.5,1564.8 L1936.7,1566.7 L1938.9,1573.8 L1941.1,1581.2 L1943.3,1588.7 L1945.5,1593.5 L1947.7,1592.8 L1949.9,1589.3 L1952.1,1585.6 L1954.3,1585.4 L1956.5,1585.4 L1958.7,1586.6 L1960.9,1590.4 L1963.1,1593.4 L1965.3,1592.2 L1967.5,1589.3 L1968.0,1588.0" fill="none" stroke="#333" stroke-width="1.7" stroke-linejoin="round"/>
<path d="M1637.5,1611.9 L1639.7,1613.1 L1641.9,1623.3 L1644.1,1635.0 L1646.3,1639.4 L1648.5,1638.7 L1650.7,1631.8 L1652.9,1638.2 L1655.1,1649.5 L1657.3,1657.9 L1659.5,1655.6 L1661.7,1649.3 L1663.9,1643.3 L1666.1,1639.2 L1668.3,1641.7 L1670.5,1641.5 L1672.7,1639.7 L1674.9,1636.0 L1677.1,1631.7 L1679.3,1627.6 L1681.5,1624.7 L1683.7,1623.5 L1685.9,1622.0 L1688.1,1628.3 L1690.3,1641.4 L1692.5,1639.5 L1694.7,1633.5 L1696.9,1634.2 L1699.1,1634.8 L1701.3,1636.2 L1703.5,1644.8 L1705.7,1650.2 L1707.9,1645.1 L1710.1,1639.1 L1712.3,1632.7 L1714.5,1627.6 L1716.7,1628.4 L1718.9,1635.7 L1721.1,1648.3 L1723.3,1656.8 L1725.5,1649.1 L1727.7,1637.2 L1729.9,1626.9 L1732.1,1626.4 L1734.3,1633.3 L1736.5,1640.6 L1738.7,1644.2 L1740.9,1641.7 L1743.1,1636.4 L1745.3,1631.3 L1747.5,1630.5 L1749.7,1633.9 L1751.9,1635.3 L1754.1,1634.6 L1756.3,1635.3 L1758.5,1640.1 L1760.7,1646.3 L1762.9,1650.2 L1765.1,1645.7 L1767.3,1638.0 L1769.5,1631.6 L1771.7,1628.1 L1773.9,1630.9 L1776.1,1635.6 L1778.3,1634.1 L1780.5,1629.2 L1782.7,1630.7 L1784.9,1633.0 L1787.1,1635.2 L1789.3,1634.9 L1791.5,1632.2 L1793.7,1629.0 L1795.9,1625.3 L1798.1,1619.8 L1800.3,1616.2 L1802.5,1619.8 L1804.7,1626.5 L1806.9,1634.2 L1809.1,1644.9 L1811.3,1642.1 L1813.5,1630.0 L1815.7,1621.7 L1817.9,1627.9 L1820.1,1637.0 L1822.3,1643.4 L1824.5,1638.7 L1826.7,1626.7 L1828.9,1613.7 L1831.1,1604.8 L1833.3,1609.0 L1835.5,1618.2 L1837.7,1627.7 L1839.9,1636.3 L1842.1,1633.3 L1844.3,1631.2 L1846.5,1636.3 L1848.7,1632.2 L1850.9,1624.8 L1853.1,1618.3 L1855.3,1617.5 L1857.5,1625.2 L1859.7,1633.6 L1861.9,1640.8 L1864.1,1639.0 L1866.3,1628.6 L1868.5,1617.5 L1870.7,1615.5 L1872.9,1620.2 L1875.1,1620.5 L1877.3,1620.3 L1879.5,1619.7 L1881.7,1623.0 L1883.9,1629.0 L1886.1,1635.4 L1888.3,1638.9 L1890.5,1634.0 L1892.7,1627.5 L1894.9,1626.0 L1897.1,1626.1 L1899.3,1621.7 L1901.5,1616.7 L1903.7,1614.1 L1905.9,1614.0 L1908.1,1616.5 L1910.3,1626.4 L1912.5,1636.7 L1914.7,1643.1 L1916.9,1647.4 L1919.1,1651.2 L1921.3,1655.0 L1923.5,1651.4 L1925.7,1640.1 L1927.9,1631.9 L1930.1,1625.6 L1932.3,1621.0 L1934.5,1617.8 L1936.7,1616.5 L1938.9,1616.3 L1941.1,1618.2 L1943.3,1623.8 L1945.5,1630.7 L1947.7,1637.4 L1949.9,1642.1 L1952.1,1638.5 L1954.3,1627.7 L1956.5,1623.1 L1958.7,1629.0 L1960.9,1636.1 L1963.1,1643.1 L1965.3,1643.0 L1967.5,1637.4 L1968.0,1636.9" fill="none" stroke="#333" stroke-width="1.7" stroke-linejoin="round"/>
<text class="serif" transform="translate(1637.5,1759.6) scale(1,1.020)" x="0" y="0" font-size="32.5" fill="#000" text-anchor="middle">295</text>
<text class="serif" transform="translate(1747.0,1759.6) scale(1,1.020)" x="0" y="0" font-size="32.5" fill="#000" text-anchor="middle">290</text>
<text class="serif" transform="translate(1857.0,1759.6) scale(1,1.020)" x="0" y="0" font-size="32.5" fill="#000" text-anchor="middle">285</text>
<text class="serif" transform="translate(1968.0,1759.6) scale(1,1.020)" x="0" y="0" font-size="32.5" fill="#000" text-anchor="middle">280</text>
<text class="sans" transform="translate(1643.5,1179.4) scale(1,1.04)" x="0" y="0" font-size="32.5" fill="#000">10.75<tspan font-size="30" dx="1.2" dy="-4.8">°</tspan></text>
<text class="sans" transform="translate(1643.5,1233.0) scale(1,1.04)" x="0" y="0" font-size="32.5" fill="#000">18.25<tspan font-size="30" dx="1.2" dy="-4.8">°</tspan></text>
<text class="sans" transform="translate(1643.5,1290.2) scale(1,1.04)" x="0" y="0" font-size="32.5" fill="#000">25.75<tspan font-size="30" dx="1.2" dy="-4.8">°</tspan></text>
<text class="sans" transform="translate(1643.5,1351.7) scale(1,1.04)" x="0" y="0" font-size="32.5" fill="#000">33.25<tspan font-size="30" dx="1.2" dy="-4.8">°</tspan></text>
<text class="sans" transform="translate(1643.5,1416.0) scale(1,1.04)" x="0" y="0" font-size="32.5" fill="#000">40.75<tspan font-size="30" dx="1.2" dy="-4.8">°</tspan></text>
<text class="sans" transform="translate(1643.5,1478.2) scale(1,1.04)" x="0" y="0" font-size="32.5" fill="#000">48.25<tspan font-size="30" dx="1.2" dy="-4.8">°</tspan></text>
<text class="sans" transform="translate(1643.5,1552.0) scale(1,1.04)" x="0" y="0" font-size="32.5" fill="#000">55.75<tspan font-size="30" dx="1.2" dy="-4.8">°</tspan></text>
<text class="sans" transform="translate(1643.5,1620.2) scale(1,1.04)" x="0" y="0" font-size="32.5" fill="#000">63.25<tspan font-size="30" dx="1.2" dy="-4.8">°</tspan></text>
<text class="sans" transform="translate(236.5,200.4) scale(1,1.04)" x="0" y="0" font-size="44.8" fill="#000" font-weight="bold">In-O</text>
<text class="sans" transform="translate(352.0,200.4) scale(1,1.04)" x="0" y="0" font-size="44.8" fill="#000" font-weight="bold">In-P</text>
<text class="sans" transform="translate(746.7,198.3) scale(1,1.04)" x="0" y="0" font-size="44.8" fill="#000" font-weight="bold">P-O</text>
<text class="sans" transform="translate(864.3,198.3) scale(1,1.04)" x="0" y="0" font-size="44.8" fill="#000" font-weight="bold">P-In</text>
<text class="sans" transform="translate(1253.7,187.9) scale(1,1.04)" x="0" y="0" font-size="44.8" fill="#000" font-weight="bold">O-H</text>
<text class="sans" transform="translate(1343.6,187.9) scale(1,1.04)" x="0" y="0" font-size="44.8" fill="#000" font-weight="bold">O-In</text>
<text class="sans" transform="translate(237.0,1159.1) scale(1,1.04)" x="0" y="0" font-size="44.8" fill="#000" font-weight="bold">In-O</text>
<text class="sans" transform="translate(352.3,1159.1) scale(1,1.04)" x="0" y="0" font-size="44.8" fill="#000" font-weight="bold">In-P</text>
<text class="sans" transform="translate(746.7,1155.0) scale(1,1.04)" x="0" y="0" font-size="44.8" fill="#000" font-weight="bold">P-O</text>
<text class="sans" transform="translate(864.3,1155.0) scale(1,1.04)" x="0" y="0" font-size="44.8" fill="#000" font-weight="bold">P-In</text>
<text class="sans" transform="translate(1253.7,1160.4) scale(1,1.04)" x="0" y="0" font-size="44.8" fill="#000" font-weight="bold">O-H</text>
<text class="sans" transform="translate(1358.8,1160.4) scale(1,1.04)" x="0" y="0" font-size="44.8" fill="#000" font-weight="bold">O-In</text>
<line x1="318.4" y1="214.3" x2="318.4" y2="244.0" stroke="#222" stroke-width="1.5"/>
<line x1="361.3" y1="214.3" x2="361.3" y2="244.0" stroke="#222" stroke-width="1.5"/>
<line x1="794.0" y1="206.8" x2="794.0" y2="235.5" stroke="#222" stroke-width="1.5"/>
<line x1="901.0" y1="206.8" x2="901.0" y2="235.5" stroke="#222" stroke-width="1.5"/>
<line x1="1312.0" y1="198.7" x2="1312.0" y2="227.4" stroke="#222" stroke-width="1.5"/>
<line x1="1389.0" y1="198.7" x2="1389.0" y2="227.4" stroke="#222" stroke-width="1.5"/>
<line x1="318.6" y1="1172.9" x2="318.6" y2="1202.3" stroke="#222" stroke-width="1.5"/>
<line x1="361.3" y1="1172.9" x2="361.3" y2="1202.3" stroke="#222" stroke-width="1.5"/>
<line x1="794.0" y1="1162.7" x2="794.0" y2="1191.5" stroke="#222" stroke-width="1.5"/>
<line x1="901.0" y1="1162.7" x2="901.0" y2="1191.5" stroke="#222" stroke-width="1.5"/>
<line x1="1312.0" y1="1172.3" x2="1312.0" y2="1200.5" stroke="#222" stroke-width="1.5"/>
<line x1="1389.0" y1="1172.3" x2="1389.0" y2="1200.5" stroke="#222" stroke-width="1.5"/>
<text class="serif" transform="translate(146.6,882.6) scale(1,1.030)" x="0" y="0" font-size="44.6" fill="#000">Binding energy [eV]</text>
<text class="serif" transform="translate(642.0,882.6) scale(1,1.030)" x="0" y="0" font-size="44.6" fill="#000">Binding energy [eV]</text>
<text class="serif" transform="translate(1137.0,882.6) scale(1,1.030)" x="0" y="0" font-size="44.6" fill="#000">Binding energy [eV]</text>
<text class="serif" transform="translate(1628.0,882.6) scale(1,1.030)" x="0" y="0" font-size="44.6" fill="#000">Binding energy [eV]</text>
<text class="serif" transform="translate(146.8,1835.5) scale(1,1.030)" x="0" y="0" font-size="44.6" fill="#000">Binding energy [eV]</text>
<text class="serif" transform="translate(642.7,1835.5) scale(1,1.030)" x="0" y="0" font-size="44.6" fill="#000">Binding energy [eV]</text>
<text class="serif" transform="translate(1137.0,1835.5) scale(1,1.030)" x="0" y="0" font-size="44.6" fill="#000">Binding energy [eV]</text>
<text class="serif" transform="translate(1631.0,1839.6) scale(1,1.030)" x="0" y="0" font-size="44.6" fill="#000">Binding energy [eV]</text>
<g transform="translate(96.7,646.7) rotate(-90) scale(1,1.03)"><text class="serif" x="0" y="0" font-size="46" textLength="159.0" lengthAdjust="spacingAndGlyphs" fill="#000">Intensity</text><text class="serif" x="171.0" y="0" font-size="45.5" fill="#000">[arb. unit]</text></g>
<g transform="translate(594.9,646.3) rotate(-90) scale(1,1.03)"><text class="serif" x="0" y="0" font-size="46" textLength="159.0" lengthAdjust="spacingAndGlyphs" fill="#000">Intensity</text><text class="serif" x="171.0" y="0" font-size="45.5" fill="#000">[arb. unit]</text></g>
<g transform="translate(1093.5,646.3) rotate(-90) scale(1,1.03)"><text class="serif" x="0" y="0" font-size="46" textLength="159.0" lengthAdjust="spacingAndGlyphs" fill="#000">Intensity</text><text class="serif" x="171.0" y="0" font-size="45.5" fill="#000">[arb. unit]</text></g>
<g transform="translate(1585.1,646.3) rotate(-90) scale(1,1.03)"><text class="serif" x="0" y="0" font-size="46" textLength="159.0" lengthAdjust="spacingAndGlyphs" fill="#000">Intensity</text><text class="serif" x="171.0" y="0" font-size="45.5" fill="#000">[arb. unit]</text></g>
<g transform="translate(96.0,1596.7) rotate(-90) scale(1,1.03)"><text class="serif" x="0" y="0" font-size="46" textLength="159.0" lengthAdjust="spacingAndGlyphs" fill="#000">Intensity</text><text class="serif" x="171.0" y="0" font-size="45.5" fill="#000">[arb. unit]</text></g>
<g transform="translate(595.5,1595.5) rotate(-90) scale(1,1.03)"><text class="serif" x="0" y="0" font-size="46" textLength="159.0" lengthAdjust="spacingAndGlyphs" fill="#000">Intensity</text><text class="serif" x="171.0" y="0" font-size="45.5" fill="#000">[arb. unit]</text></g>
<g transform="translate(1094.0,1594.5) rotate(-90) scale(1,1.03)"><text class="serif" x="0" y="0" font-size="46" textLength="159.0" lengthAdjust="spacingAndGlyphs" fill="#000">Intensity</text><text class="serif" x="171.0" y="0" font-size="45.5" fill="#000">[arb. unit]</text></g>
<g transform="translate(1585.1,1603.0) rotate(-90) scale(1,1.03)"><text class="serif" x="0" y="0" font-size="46" textLength="159.0" lengthAdjust="spacingAndGlyphs" fill="#000">Intensity</text><text class="serif" x="171.0" y="0" font-size="45.5" fill="#000">[arb. unit]</text></g>
<text class="sans" transform="translate(4.0,203.5) scale(1,1.04)" x="0" y="0" font-size="25.2" fill="#000">Take off angle of</text>
<text class="sans" transform="translate(4.0,233.6) scale(1,1.04)" x="0" y="0" font-size="25.2" fill="#000">photoelectron</text>
<path d="M200.0,203.0 C208.0,203.5 216.0,207.5 220.8,217.5" fill="none" stroke="#333" stroke-width="1.1"/>
<path d="M217.1,218.4 L224.8,216.3 L222.3,224.8 Z" fill="#000"/>
<text class="sans" transform="translate(1.0,1145.4) scale(1,1.04)" x="0" y="0" font-size="25.2" fill="#000">Take off angle of</text>
<text class="sans" transform="translate(1.0,1174.9) scale(1,1.04)" x="0" y="0" font-size="25.2" fill="#000">photoelectron</text>
<path d="M196.7,1144.5 C204.7,1145.0 212.7,1149.0 217.5,1159.0" fill="none" stroke="#333" stroke-width="1.1"/>
<path d="M213.8,1159.9 L221.5,1157.8 L219.0,1166.3 Z" fill="#000"/>
</svg></body></html>
